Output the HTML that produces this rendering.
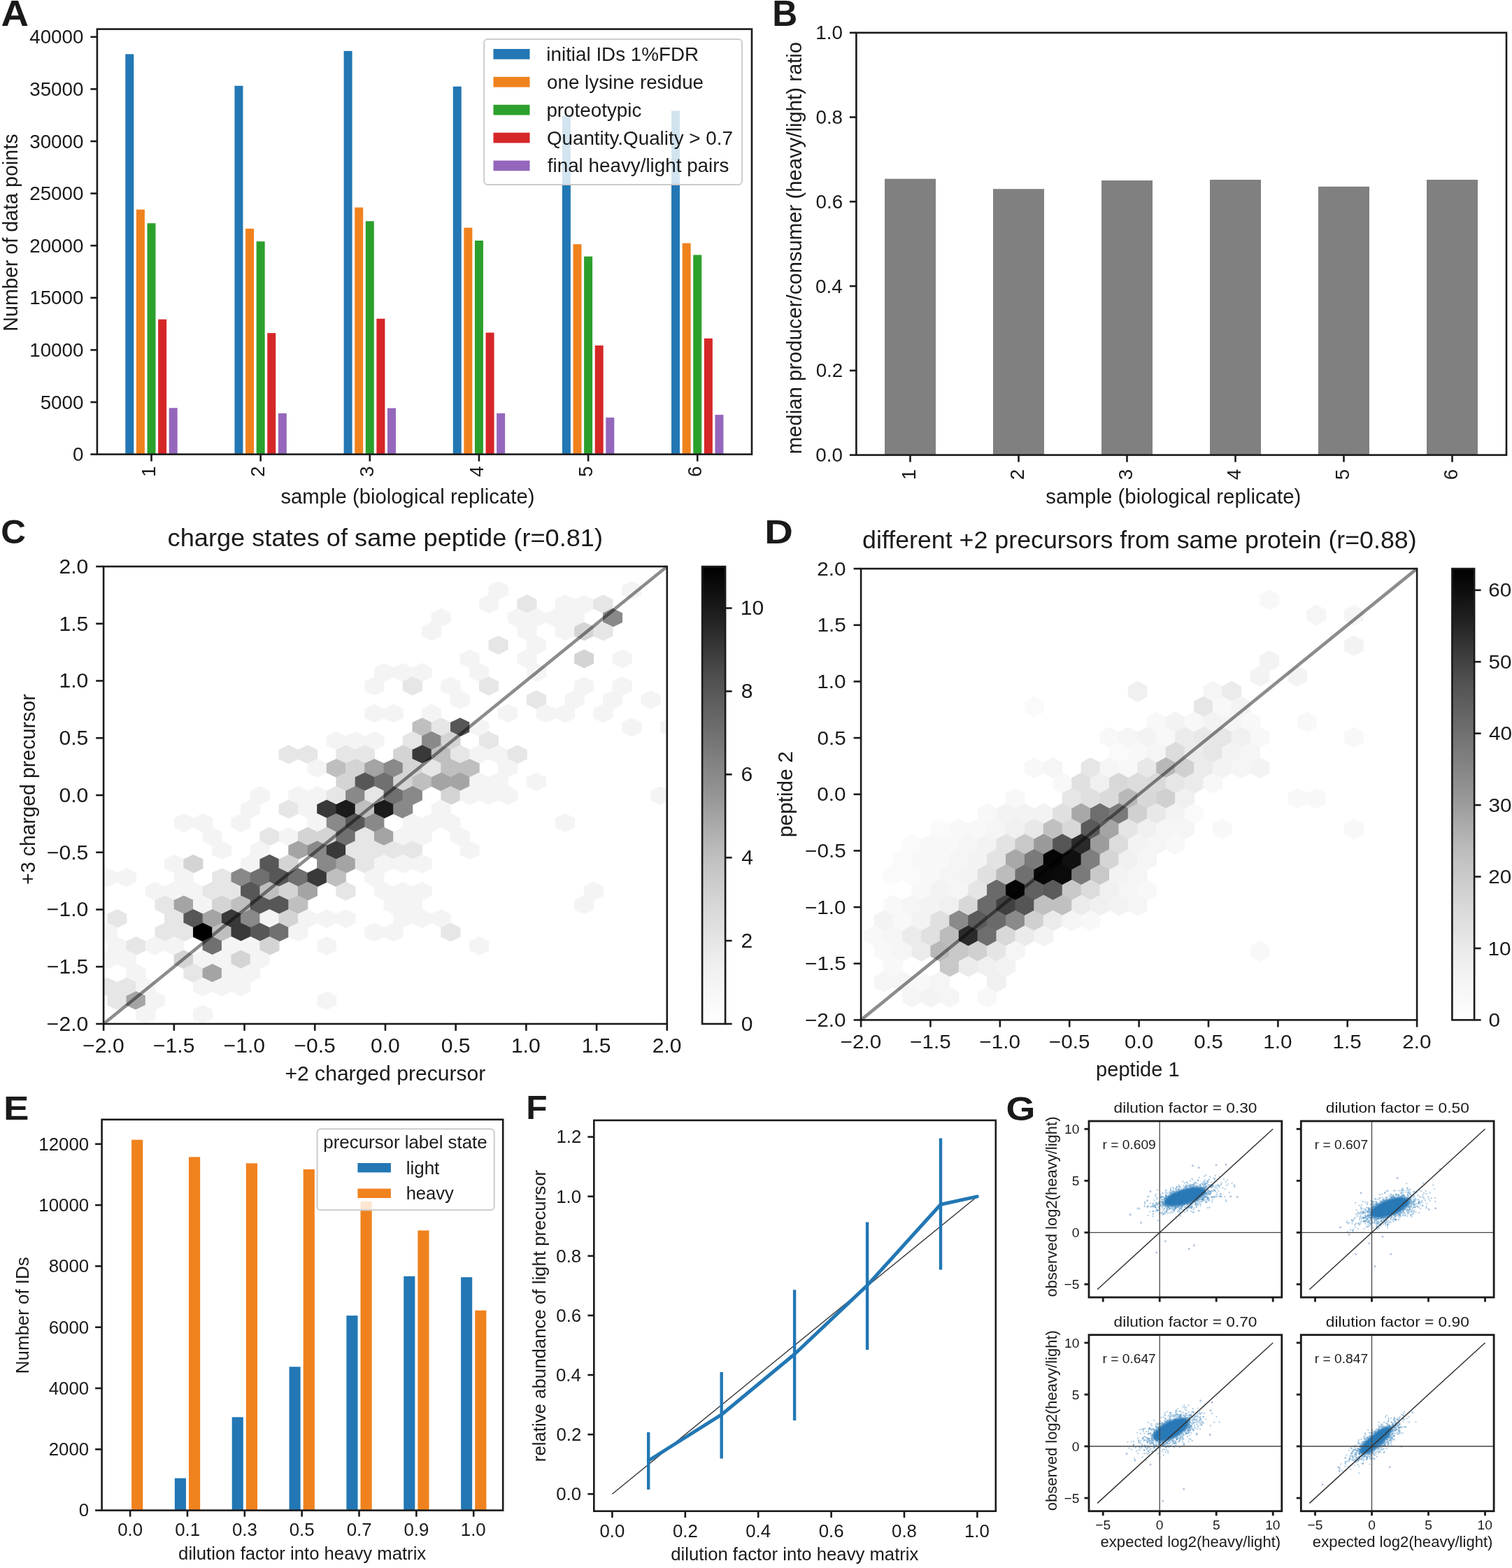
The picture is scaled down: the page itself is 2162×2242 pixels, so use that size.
<!DOCTYPE html>
<html><head><meta charset="utf-8"><style>
html,body{margin:0;padding:0;background:#fff;}
svg{display:block;}
text{font-family:'Liberation Sans', Arial, Helvetica, sans-serif;}
</style></head><body>
<svg width="2162" height="2242" viewBox="0 0 2162 2242" xmlns="http://www.w3.org/2000/svg">
<defs><filter id="blur1" x="-20%" y="-20%" width="140%" height="140%"><feGaussianBlur stdDeviation="1.6"/></filter></defs>
<rect width="2162" height="2242" fill="#fff"/>
<rect x="179.30" y="77.40" width="12.00" height="572.20" fill="#2277b4" />
<rect x="194.90" y="299.60" width="12.00" height="350.00" fill="#f0821e" />
<rect x="210.50" y="319.20" width="12.00" height="330.40" fill="#2ca02c" />
<rect x="226.10" y="456.60" width="12.00" height="193.00" fill="#d62728" />
<rect x="241.70" y="583.30" width="12.00" height="66.30" fill="#9467bd" />
<rect x="335.45" y="122.70" width="12.00" height="526.90" fill="#2277b4" />
<rect x="351.05" y="326.90" width="12.00" height="322.70" fill="#f0821e" />
<rect x="366.65" y="345.20" width="12.00" height="304.40" fill="#2ca02c" />
<rect x="382.25" y="476.20" width="12.00" height="173.40" fill="#d62728" />
<rect x="397.85" y="591.00" width="12.00" height="58.60" fill="#9467bd" />
<rect x="491.60" y="72.90" width="12.00" height="576.70" fill="#2277b4" />
<rect x="507.20" y="296.60" width="12.00" height="353.00" fill="#f0821e" />
<rect x="522.80" y="316.20" width="12.00" height="333.40" fill="#2ca02c" />
<rect x="538.40" y="455.70" width="12.00" height="193.90" fill="#d62728" />
<rect x="554.00" y="583.60" width="12.00" height="66.00" fill="#9467bd" />
<rect x="647.75" y="123.70" width="12.00" height="525.90" fill="#2277b4" />
<rect x="663.35" y="325.60" width="12.00" height="324.00" fill="#f0821e" />
<rect x="678.95" y="344.00" width="12.00" height="305.60" fill="#2ca02c" />
<rect x="694.55" y="475.60" width="12.00" height="174.00" fill="#d62728" />
<rect x="710.15" y="591.00" width="12.00" height="58.60" fill="#9467bd" />
<rect x="803.90" y="165.60" width="12.00" height="484.00" fill="#2277b4" />
<rect x="819.50" y="349.20" width="12.00" height="300.40" fill="#f0821e" />
<rect x="835.10" y="366.70" width="12.00" height="282.90" fill="#2ca02c" />
<rect x="850.70" y="494.00" width="12.00" height="155.60" fill="#d62728" />
<rect x="866.30" y="597.10" width="12.00" height="52.50" fill="#9467bd" />
<rect x="960.05" y="158.50" width="12.00" height="491.10" fill="#2277b4" />
<rect x="975.65" y="347.70" width="12.00" height="301.90" fill="#f0821e" />
<rect x="991.25" y="364.50" width="12.00" height="285.10" fill="#2ca02c" />
<rect x="1006.85" y="483.90" width="12.00" height="165.70" fill="#d62728" />
<rect x="1022.45" y="593.10" width="12.00" height="56.50" fill="#9467bd" />
<rect x="692.2" y="55.9" width="368.8" height="208.2" rx="5" fill="#fff" fill-opacity="0.8" stroke="#cccccc" stroke-width="2"/>
<rect x="705.50" y="70.00" width="52.00" height="14.70" fill="#2277b4" />
<text x="781.34" y="87.20" font-size="27.80" text-anchor="start" fill="#1a1a1a">initial IDs 1%FDR</text>
<rect x="705.50" y="109.90" width="52.00" height="14.70" fill="#f0821e" />
<text x="782.03" y="127.00" font-size="27.80" text-anchor="start" fill="#1a1a1a">one lysine residue</text>
<rect x="705.50" y="149.80" width="52.00" height="14.70" fill="#2ca02c" />
<text x="781.42" y="166.80" font-size="27.80" text-anchor="start" fill="#1a1a1a">proteotypic</text>
<rect x="705.50" y="189.70" width="52.00" height="14.70" fill="#d62728" />
<text x="781.89" y="206.60" font-size="27.80" text-anchor="start" fill="#1a1a1a">Quantity.Quality &gt; 0.7</text>
<rect x="705.50" y="229.60" width="52.00" height="14.70" fill="#9467bd" />
<text x="782.81" y="246.40" font-size="27.80" text-anchor="start" fill="#1a1a1a">final heavy/light pairs</text>
<rect x="138.90" y="41.60" width="936.10" height="608.00" fill="none" stroke="#1a1a1a" stroke-width="2.6"/>
<line x1="129.40" y1="649.60" x2="138.90" y2="649.60" stroke="#1a1a1a" stroke-width="2.6" />
<text x="119.49" y="659.16" font-size="27.80" text-anchor="end" fill="#1a1a1a">0</text>
<line x1="129.40" y1="575.00" x2="138.90" y2="575.00" stroke="#1a1a1a" stroke-width="2.6" />
<text x="119.50" y="584.56" font-size="27.80" text-anchor="end" fill="#1a1a1a">5000</text>
<line x1="129.40" y1="500.40" x2="138.90" y2="500.40" stroke="#1a1a1a" stroke-width="2.6" />
<text x="119.48" y="509.96" font-size="27.80" text-anchor="end" fill="#1a1a1a">10000</text>
<line x1="129.40" y1="425.80" x2="138.90" y2="425.80" stroke="#1a1a1a" stroke-width="2.6" />
<text x="119.48" y="435.36" font-size="27.80" text-anchor="end" fill="#1a1a1a">15000</text>
<line x1="129.40" y1="351.20" x2="138.90" y2="351.20" stroke="#1a1a1a" stroke-width="2.6" />
<text x="119.48" y="360.76" font-size="27.80" text-anchor="end" fill="#1a1a1a">20000</text>
<line x1="129.40" y1="276.60" x2="138.90" y2="276.60" stroke="#1a1a1a" stroke-width="2.6" />
<text x="119.48" y="286.16" font-size="27.80" text-anchor="end" fill="#1a1a1a">25000</text>
<line x1="129.40" y1="202.00" x2="138.90" y2="202.00" stroke="#1a1a1a" stroke-width="2.6" />
<text x="119.48" y="211.56" font-size="27.80" text-anchor="end" fill="#1a1a1a">30000</text>
<line x1="129.40" y1="127.40" x2="138.90" y2="127.40" stroke="#1a1a1a" stroke-width="2.6" />
<text x="119.48" y="136.96" font-size="27.80" text-anchor="end" fill="#1a1a1a">35000</text>
<line x1="129.40" y1="52.80" x2="138.90" y2="52.80" stroke="#1a1a1a" stroke-width="2.6" />
<text x="119.48" y="62.36" font-size="27.80" text-anchor="end" fill="#1a1a1a">40000</text>
<line x1="216.50" y1="649.60" x2="216.50" y2="659.60" stroke="#1a1a1a" stroke-width="2.6" />
<text x="222.10" y="682.00" font-size="27.80" text-anchor="start" transform="rotate(-90 222.10 682.00)" fill="#1a1a1a">1</text>
<line x1="372.65" y1="649.60" x2="372.65" y2="659.60" stroke="#1a1a1a" stroke-width="2.6" />
<text x="378.25" y="682.00" font-size="27.80" text-anchor="start" transform="rotate(-90 378.25 682.00)" fill="#1a1a1a">2</text>
<line x1="528.80" y1="649.60" x2="528.80" y2="659.60" stroke="#1a1a1a" stroke-width="2.6" />
<text x="534.40" y="682.00" font-size="27.80" text-anchor="start" transform="rotate(-90 534.40 682.00)" fill="#1a1a1a">3</text>
<line x1="684.95" y1="649.60" x2="684.95" y2="659.60" stroke="#1a1a1a" stroke-width="2.6" />
<text x="690.55" y="682.00" font-size="27.80" text-anchor="start" transform="rotate(-90 690.55 682.00)" fill="#1a1a1a">4</text>
<line x1="841.10" y1="649.60" x2="841.10" y2="659.60" stroke="#1a1a1a" stroke-width="2.6" />
<text x="846.70" y="682.00" font-size="27.80" text-anchor="start" transform="rotate(-90 846.70 682.00)" fill="#1a1a1a">5</text>
<line x1="997.25" y1="649.60" x2="997.25" y2="659.60" stroke="#1a1a1a" stroke-width="2.6" />
<text x="1002.85" y="682.00" font-size="27.80" text-anchor="start" transform="rotate(-90 1002.85 682.00)" fill="#1a1a1a">6</text>
<text x="401.38" y="720.40" font-size="29.30" text-anchor="start" fill="#1a1a1a">sample (biological replicate)</text>
<text x="24.80" y="473.76" font-size="28.70" text-anchor="start" transform="rotate(-90 24.80 473.76)" fill="#1a1a1a">Number of data points</text>
<text x="1.63" y="36.50" font-size="52.00" text-anchor="start" font-weight="bold" textLength="39.50" lengthAdjust="spacingAndGlyphs" fill="#1a1a1a">A</text>
<rect x="1265.00" y="255.70" width="73.00" height="394.90" fill="#808080" />
<rect x="1420.00" y="270.20" width="73.00" height="380.40" fill="#808080" />
<rect x="1575.00" y="258.00" width="73.00" height="392.60" fill="#808080" />
<rect x="1730.00" y="257.00" width="73.00" height="393.60" fill="#808080" />
<rect x="1885.00" y="266.80" width="73.00" height="383.80" fill="#808080" />
<rect x="2040.00" y="257.00" width="73.00" height="393.60" fill="#808080" />
<rect x="1224.40" y="46.80" width="929.60" height="603.80" fill="none" stroke="#1a1a1a" stroke-width="2.6"/>
<line x1="1214.90" y1="650.60" x2="1224.40" y2="650.60" stroke="#1a1a1a" stroke-width="2.6" />
<text x="1204.99" y="660.16" font-size="27.80" text-anchor="end" fill="#1a1a1a">0.0</text>
<line x1="1214.90" y1="529.84" x2="1224.40" y2="529.84" stroke="#1a1a1a" stroke-width="2.6" />
<text x="1205.29" y="539.40" font-size="27.80" text-anchor="end" fill="#1a1a1a">0.2</text>
<line x1="1214.90" y1="409.08" x2="1224.40" y2="409.08" stroke="#1a1a1a" stroke-width="2.6" />
<text x="1204.71" y="418.64" font-size="27.80" text-anchor="end" fill="#1a1a1a">0.4</text>
<line x1="1214.90" y1="288.32" x2="1224.40" y2="288.32" stroke="#1a1a1a" stroke-width="2.6" />
<text x="1205.13" y="297.88" font-size="27.80" text-anchor="end" fill="#1a1a1a">0.6</text>
<line x1="1214.90" y1="167.56" x2="1224.40" y2="167.56" stroke="#1a1a1a" stroke-width="2.6" />
<text x="1205.10" y="177.12" font-size="27.80" text-anchor="end" fill="#1a1a1a">0.8</text>
<line x1="1214.90" y1="46.80" x2="1224.40" y2="46.80" stroke="#1a1a1a" stroke-width="2.6" />
<text x="1204.99" y="56.36" font-size="27.80" text-anchor="end" fill="#1a1a1a">1.0</text>
<line x1="1301.50" y1="650.60" x2="1301.50" y2="660.60" stroke="#1a1a1a" stroke-width="2.6" />
<text x="1308.60" y="686.30" font-size="27.80" text-anchor="start" transform="rotate(-90 1308.60 686.30)" fill="#1a1a1a">1</text>
<line x1="1456.50" y1="650.60" x2="1456.50" y2="660.60" stroke="#1a1a1a" stroke-width="2.6" />
<text x="1463.60" y="686.30" font-size="27.80" text-anchor="start" transform="rotate(-90 1463.60 686.30)" fill="#1a1a1a">2</text>
<line x1="1611.50" y1="650.60" x2="1611.50" y2="660.60" stroke="#1a1a1a" stroke-width="2.6" />
<text x="1618.60" y="686.30" font-size="27.80" text-anchor="start" transform="rotate(-90 1618.60 686.30)" fill="#1a1a1a">3</text>
<line x1="1766.50" y1="650.60" x2="1766.50" y2="660.60" stroke="#1a1a1a" stroke-width="2.6" />
<text x="1773.60" y="686.30" font-size="27.80" text-anchor="start" transform="rotate(-90 1773.60 686.30)" fill="#1a1a1a">4</text>
<line x1="1921.50" y1="650.60" x2="1921.50" y2="660.60" stroke="#1a1a1a" stroke-width="2.6" />
<text x="1928.60" y="686.30" font-size="27.80" text-anchor="start" transform="rotate(-90 1928.60 686.30)" fill="#1a1a1a">5</text>
<line x1="2076.50" y1="650.60" x2="2076.50" y2="660.60" stroke="#1a1a1a" stroke-width="2.6" />
<text x="2083.60" y="686.30" font-size="27.80" text-anchor="start" transform="rotate(-90 2083.60 686.30)" fill="#1a1a1a">6</text>
<text x="1495.38" y="720.40" font-size="29.30" text-anchor="start" textLength="365.04" lengthAdjust="spacingAndGlyphs" fill="#1a1a1a">sample (biological replicate)</text>
<text x="1146.50" y="649.33" font-size="29.30" text-anchor="start" transform="rotate(-90 1146.50 649.33)" fill="#1a1a1a">median producer/consumer (heavy/light) ratio</text>
<text x="1104.36" y="36.60" font-size="52.00" text-anchor="start" font-weight="bold" textLength="35.99" lengthAdjust="spacingAndGlyphs" fill="#1a1a1a">B</text>
<defs><clipPath id="clipC"><rect x="148.1" y="810.0" width="805.6999999999999" height="654.0"/></clipPath></defs><g clip-path="url(#clipC)">
<path d="M698.5 837.5L712.5 830.7L726.6 837.5L726.6 850.9L712.5 857.6L698.5 850.9Z" fill="#f4f4f4"/>
<path d="M889.3 837.5L903.4 830.7L917.4 837.5L917.4 850.9L903.4 857.6L889.3 850.9Z" fill="#f4f4f4"/>
<path d="M684.9 857.0L698.9 850.3L712.9 857.0L712.9 870.5L698.9 877.2L684.9 870.5Z" fill="#f4f4f4"/>
<path d="M739.4 857.0L753.4 850.3L767.5 857.0L767.5 870.5L753.4 877.2L739.4 870.5Z" fill="#e6e6e6"/>
<path d="M793.9 857.0L808.0 850.3L822.0 857.0L822.0 870.5L808.0 877.2L793.9 870.5Z" fill="#f4f4f4"/>
<path d="M821.2 857.0L835.2 850.3L849.2 857.0L849.2 870.5L835.2 877.2L821.2 870.5Z" fill="#f4f4f4"/>
<path d="M848.4 857.0L862.5 850.3L876.5 857.0L876.5 870.5L862.5 877.2L848.4 870.5Z" fill="#e6e6e6"/>
<path d="M616.7 876.6L630.8 869.8L644.8 876.6L644.8 890.0L630.8 896.8L616.7 890.0Z" fill="#f4f4f4"/>
<path d="M725.8 876.6L739.8 869.8L753.8 876.6L753.8 890.0L739.8 896.8L725.8 890.0Z" fill="#f4f4f4"/>
<path d="M753.0 876.6L767.1 869.8L781.1 876.6L781.1 890.0L767.1 896.8L753.0 890.0Z" fill="#f4f4f4"/>
<path d="M780.3 876.6L794.3 869.8L808.4 876.6L808.4 890.0L794.3 896.8L780.3 890.0Z" fill="#f4f4f4"/>
<path d="M807.6 876.6L821.6 869.8L835.6 876.6L835.6 890.0L821.6 896.8L807.6 890.0Z" fill="#f4f4f4"/>
<path d="M862.1 876.6L876.1 869.8L890.1 876.6L890.1 890.0L876.1 896.8L862.1 890.0Z" fill="#898989"/>
<path d="M603.1 896.1L617.1 889.4L631.2 896.1L631.2 909.6L617.1 916.3L603.1 909.6Z" fill="#f4f4f4"/>
<path d="M739.4 896.1L753.4 889.4L767.5 896.1L767.5 909.6L753.4 916.3L739.4 909.6Z" fill="#f4f4f4"/>
<path d="M793.9 896.1L808.0 889.4L822.0 896.1L822.0 909.6L808.0 916.3L793.9 909.6Z" fill="#f4f4f4"/>
<path d="M821.2 896.1L835.2 889.4L849.2 896.1L849.2 909.6L835.2 916.3L821.2 909.6Z" fill="#d4d4d4"/>
<path d="M848.4 896.1L862.5 889.4L876.5 896.1L876.5 909.6L862.5 916.3L848.4 909.6Z" fill="#e6e6e6"/>
<path d="M698.5 915.7L712.5 908.9L726.6 915.7L726.6 929.1L712.5 935.9L698.5 929.1Z" fill="#e6e6e6"/>
<path d="M753.0 915.7L767.1 908.9L781.1 915.7L781.1 929.1L767.1 935.9L753.0 929.1Z" fill="#f4f4f4"/>
<path d="M657.6 935.2L671.6 928.5L685.7 935.2L685.7 948.7L671.6 955.4L657.6 948.7Z" fill="#f4f4f4"/>
<path d="M739.4 935.2L753.4 928.5L767.5 935.2L767.5 948.7L753.4 955.4L739.4 948.7Z" fill="#f4f4f4"/>
<path d="M821.2 935.2L835.2 928.5L849.2 935.2L849.2 948.7L835.2 955.4L821.2 948.7Z" fill="#d4d4d4"/>
<path d="M875.7 935.2L889.7 928.5L903.8 935.2L903.8 948.7L889.7 955.4L875.7 948.7Z" fill="#f4f4f4"/>
<path d="M535.0 954.8L549.0 948.0L563.0 954.8L563.0 968.2L549.0 975.0L535.0 968.2Z" fill="#f4f4f4"/>
<path d="M562.2 954.8L576.2 948.0L590.3 954.8L590.3 968.2L576.2 975.0L562.2 968.2Z" fill="#f4f4f4"/>
<path d="M589.5 954.8L603.5 948.0L617.5 954.8L617.5 968.2L603.5 975.0L589.5 968.2Z" fill="#f4f4f4"/>
<path d="M671.2 954.8L685.3 948.0L699.3 954.8L699.3 968.2L685.3 975.0L671.2 968.2Z" fill="#f4f4f4"/>
<path d="M753.0 954.8L767.1 948.0L781.1 954.8L781.1 968.2L767.1 975.0L753.0 968.2Z" fill="#f4f4f4"/>
<path d="M521.3 974.3L535.4 967.6L549.4 974.3L549.4 987.8L535.4 994.5L521.3 987.8Z" fill="#f4f4f4"/>
<path d="M575.8 974.3L589.9 967.6L603.9 974.3L603.9 987.8L589.9 994.5L575.8 987.8Z" fill="#e6e6e6"/>
<path d="M630.4 974.3L644.4 967.6L658.4 974.3L658.4 987.8L644.4 994.5L630.4 987.8Z" fill="#f4f4f4"/>
<path d="M684.9 974.3L698.9 967.6L712.9 974.3L712.9 987.8L698.9 994.5L684.9 987.8Z" fill="#e6e6e6"/>
<path d="M821.2 974.3L835.2 967.6L849.2 974.3L849.2 987.8L835.2 994.5L821.2 987.8Z" fill="#f4f4f4"/>
<path d="M875.7 974.3L889.7 967.6L903.8 974.3L903.8 987.8L889.7 994.5L875.7 987.8Z" fill="#f4f4f4"/>
<path d="M644.0 993.9L658.0 987.1L672.0 993.9L672.0 1007.3L658.0 1014.0L644.0 1007.3Z" fill="#f4f4f4"/>
<path d="M753.0 993.9L767.1 987.1L781.1 993.9L781.1 1007.3L767.1 1014.0L753.0 1007.3Z" fill="#e6e6e6"/>
<path d="M807.6 993.9L821.6 987.1L835.6 993.9L835.6 1007.3L821.6 1014.0L807.6 1007.3Z" fill="#f4f4f4"/>
<path d="M862.1 993.9L876.1 987.1L890.1 993.9L890.1 1007.3L876.1 1014.0L862.1 1007.3Z" fill="#f4f4f4"/>
<path d="M916.6 993.9L930.6 987.1L944.6 993.9L944.6 1007.3L930.6 1014.0L916.6 1007.3Z" fill="#f4f4f4"/>
<path d="M521.3 1013.4L535.4 1006.7L549.4 1013.4L549.4 1026.9L535.4 1033.6L521.3 1026.9Z" fill="#f4f4f4"/>
<path d="M548.6 1013.4L562.6 1006.7L576.6 1013.4L576.6 1026.9L562.6 1033.6L548.6 1026.9Z" fill="#f4f4f4"/>
<path d="M603.1 1013.4L617.1 1006.7L631.2 1013.4L631.2 1026.9L617.1 1033.6L603.1 1026.9Z" fill="#f4f4f4"/>
<path d="M712.1 1013.4L726.2 1006.7L740.2 1013.4L740.2 1026.9L726.2 1033.6L712.1 1026.9Z" fill="#f4f4f4"/>
<path d="M766.7 1013.4L780.7 1006.7L794.7 1013.4L794.7 1026.9L780.7 1033.6L766.7 1026.9Z" fill="#f4f4f4"/>
<path d="M793.9 1013.4L808.0 1006.7L822.0 1013.4L822.0 1026.9L808.0 1033.6L793.9 1026.9Z" fill="#f4f4f4"/>
<path d="M848.4 1013.4L862.5 1006.7L876.5 1013.4L876.5 1026.9L862.5 1033.6L848.4 1026.9Z" fill="#f4f4f4"/>
<path d="M589.5 1033.0L603.5 1026.2L617.5 1033.0L617.5 1046.4L603.5 1053.2L589.5 1046.4Z" fill="#bfbfbf"/>
<path d="M616.7 1033.0L630.8 1026.2L644.8 1033.0L644.8 1046.4L630.8 1053.2L616.7 1046.4Z" fill="#e6e6e6"/>
<path d="M644.0 1033.0L658.0 1026.2L672.0 1033.0L672.0 1046.4L658.0 1053.2L644.0 1046.4Z" fill="#575757"/>
<path d="M671.2 1033.0L685.3 1026.2L699.3 1033.0L699.3 1046.4L685.3 1053.2L671.2 1046.4Z" fill="#f4f4f4"/>
<path d="M889.3 1033.0L903.4 1026.2L917.4 1033.0L917.4 1046.4L903.4 1053.2L889.3 1046.4Z" fill="#f4f4f4"/>
<path d="M943.9 1033.0L957.9 1026.2L971.9 1033.0L971.9 1046.4L957.9 1053.2L943.9 1046.4Z" fill="#f4f4f4"/>
<path d="M466.8 1052.5L480.8 1045.8L494.9 1052.5L494.9 1066.0L480.8 1072.7L466.8 1066.0Z" fill="#f4f4f4"/>
<path d="M494.1 1052.5L508.1 1045.8L522.1 1052.5L522.1 1066.0L508.1 1072.7L494.1 1066.0Z" fill="#f4f4f4"/>
<path d="M521.3 1052.5L535.4 1045.8L549.4 1052.5L549.4 1066.0L535.4 1072.7L521.3 1066.0Z" fill="#f4f4f4"/>
<path d="M575.8 1052.5L589.9 1045.8L603.9 1052.5L603.9 1066.0L589.9 1072.7L575.8 1066.0Z" fill="#e6e6e6"/>
<path d="M603.1 1052.5L617.1 1045.8L631.2 1052.5L631.2 1066.0L617.1 1072.7L603.1 1066.0Z" fill="#898989"/>
<path d="M630.4 1052.5L644.4 1045.8L658.4 1052.5L658.4 1066.0L644.4 1072.7L630.4 1066.0Z" fill="#d4d4d4"/>
<path d="M684.9 1052.5L698.9 1045.8L712.9 1052.5L712.9 1066.0L698.9 1072.7L684.9 1066.0Z" fill="#e6e6e6"/>
<path d="M398.6 1072.1L412.7 1065.3L426.7 1072.1L426.7 1085.5L412.7 1092.2L398.6 1085.5Z" fill="#e6e6e6"/>
<path d="M425.9 1072.1L439.9 1065.3L454.0 1072.1L454.0 1085.5L439.9 1092.2L425.9 1085.5Z" fill="#e6e6e6"/>
<path d="M480.4 1072.1L494.5 1065.3L508.5 1072.1L508.5 1085.5L494.5 1092.2L480.4 1085.5Z" fill="#e6e6e6"/>
<path d="M507.7 1072.1L521.7 1065.3L535.8 1072.1L535.8 1085.5L521.7 1092.2L507.7 1085.5Z" fill="#e6e6e6"/>
<path d="M562.2 1072.1L576.2 1065.3L590.3 1072.1L590.3 1085.5L576.2 1092.2L562.2 1085.5Z" fill="#d4d4d4"/>
<path d="M589.5 1072.1L603.5 1065.3L617.5 1072.1L617.5 1085.5L603.5 1092.2L589.5 1085.5Z" fill="#393939"/>
<path d="M616.7 1072.1L630.8 1065.3L644.8 1072.1L644.8 1085.5L630.8 1092.2L616.7 1085.5Z" fill="#bfbfbf"/>
<path d="M644.0 1072.1L658.0 1065.3L672.0 1072.1L672.0 1085.5L658.0 1092.2L644.0 1085.5Z" fill="#e6e6e6"/>
<path d="M671.2 1072.1L685.3 1065.3L699.3 1072.1L699.3 1085.5L685.3 1092.2L671.2 1085.5Z" fill="#f4f4f4"/>
<path d="M698.5 1072.1L712.5 1065.3L726.6 1072.1L726.6 1085.5L712.5 1092.2L698.5 1085.5Z" fill="#f4f4f4"/>
<path d="M725.8 1072.1L739.8 1065.3L753.8 1072.1L753.8 1085.5L739.8 1092.2L725.8 1085.5Z" fill="#e6e6e6"/>
<path d="M439.5 1091.6L453.6 1084.9L467.6 1091.6L467.6 1105.1L453.6 1111.8L439.5 1105.1Z" fill="#f4f4f4"/>
<path d="M466.8 1091.6L480.8 1084.9L494.9 1091.6L494.9 1105.1L480.8 1111.8L466.8 1105.1Z" fill="#bfbfbf"/>
<path d="M494.1 1091.6L508.1 1084.9L522.1 1091.6L522.1 1105.1L508.1 1111.8L494.1 1105.1Z" fill="#d4d4d4"/>
<path d="M521.3 1091.6L535.4 1084.9L549.4 1091.6L549.4 1105.1L535.4 1111.8L521.3 1105.1Z" fill="#a4a4a4"/>
<path d="M548.6 1091.6L562.6 1084.9L576.6 1091.6L576.6 1105.1L562.6 1111.8L548.6 1105.1Z" fill="#898989"/>
<path d="M575.8 1091.6L589.9 1084.9L603.9 1091.6L603.9 1105.1L589.9 1111.8L575.8 1105.1Z" fill="#d4d4d4"/>
<path d="M603.1 1091.6L617.1 1084.9L631.2 1091.6L631.2 1105.1L617.1 1111.8L603.1 1105.1Z" fill="#e6e6e6"/>
<path d="M630.4 1091.6L644.4 1084.9L658.4 1091.6L658.4 1105.1L644.4 1111.8L630.4 1105.1Z" fill="#bfbfbf"/>
<path d="M657.6 1091.6L671.6 1084.9L685.7 1091.6L685.7 1105.1L671.6 1111.8L657.6 1105.1Z" fill="#bfbfbf"/>
<path d="M712.1 1091.6L726.2 1084.9L740.2 1091.6L740.2 1105.1L726.2 1111.8L712.1 1105.1Z" fill="#f4f4f4"/>
<path d="M480.4 1111.2L494.5 1104.5L508.5 1111.2L508.5 1124.6L494.5 1131.4L480.4 1124.6Z" fill="#d4d4d4"/>
<path d="M507.7 1111.2L521.7 1104.5L535.8 1111.2L535.8 1124.6L521.7 1131.4L507.7 1124.6Z" fill="#575757"/>
<path d="M535.0 1111.2L549.0 1104.5L563.0 1111.2L563.0 1124.6L549.0 1131.4L535.0 1124.6Z" fill="#707070"/>
<path d="M562.2 1111.2L576.2 1104.5L590.3 1111.2L590.3 1124.6L576.2 1131.4L562.2 1124.6Z" fill="#d4d4d4"/>
<path d="M589.5 1111.2L603.5 1104.5L617.5 1111.2L617.5 1124.6L603.5 1131.4L589.5 1124.6Z" fill="#bfbfbf"/>
<path d="M616.7 1111.2L630.8 1104.5L644.8 1111.2L644.8 1124.6L630.8 1131.4L616.7 1124.6Z" fill="#a4a4a4"/>
<path d="M644.0 1111.2L658.0 1104.5L672.0 1111.2L672.0 1124.6L658.0 1131.4L644.0 1124.6Z" fill="#a4a4a4"/>
<path d="M671.2 1111.2L685.3 1104.5L699.3 1111.2L699.3 1124.6L685.3 1131.4L671.2 1124.6Z" fill="#f4f4f4"/>
<path d="M698.5 1111.2L712.5 1104.5L726.6 1111.2L726.6 1124.6L712.5 1131.4L698.5 1124.6Z" fill="#f4f4f4"/>
<path d="M753.0 1111.2L767.1 1104.5L781.1 1111.2L781.1 1124.6L767.1 1131.4L753.0 1124.6Z" fill="#f4f4f4"/>
<path d="M357.8 1130.7L371.8 1124.0L385.8 1130.7L385.8 1144.2L371.8 1150.9L357.8 1144.2Z" fill="#f4f4f4"/>
<path d="M412.3 1130.7L426.3 1124.0L440.3 1130.7L440.3 1144.2L426.3 1150.9L412.3 1144.2Z" fill="#f4f4f4"/>
<path d="M439.5 1130.7L453.6 1124.0L467.6 1130.7L467.6 1144.2L453.6 1150.9L439.5 1144.2Z" fill="#f4f4f4"/>
<path d="M466.8 1130.7L480.8 1124.0L494.9 1130.7L494.9 1144.2L480.8 1150.9L466.8 1144.2Z" fill="#e6e6e6"/>
<path d="M494.1 1130.7L508.1 1124.0L522.1 1130.7L522.1 1144.2L508.1 1150.9L494.1 1144.2Z" fill="#898989"/>
<path d="M521.3 1130.7L535.4 1124.0L549.4 1130.7L549.4 1144.2L535.4 1150.9L521.3 1144.2Z" fill="#e6e6e6"/>
<path d="M548.6 1130.7L562.6 1124.0L576.6 1130.7L576.6 1144.2L562.6 1150.9L548.6 1144.2Z" fill="#707070"/>
<path d="M575.8 1130.7L589.9 1124.0L603.9 1130.7L603.9 1144.2L589.9 1150.9L575.8 1144.2Z" fill="#898989"/>
<path d="M630.4 1130.7L644.4 1124.0L658.4 1130.7L658.4 1144.2L644.4 1150.9L630.4 1144.2Z" fill="#d4d4d4"/>
<path d="M657.6 1130.7L671.6 1124.0L685.7 1130.7L685.7 1144.2L671.6 1150.9L657.6 1144.2Z" fill="#f4f4f4"/>
<path d="M684.9 1130.7L698.9 1124.0L712.9 1130.7L712.9 1144.2L698.9 1150.9L684.9 1144.2Z" fill="#f4f4f4"/>
<path d="M712.1 1130.7L726.2 1124.0L740.2 1130.7L740.2 1144.2L726.2 1150.9L712.1 1144.2Z" fill="#f4f4f4"/>
<path d="M930.2 1130.7L944.2 1124.0L958.3 1130.7L958.3 1144.2L944.2 1150.9L930.2 1144.2Z" fill="#f4f4f4"/>
<path d="M344.1 1150.3L358.2 1143.5L372.2 1150.3L372.2 1163.7L358.2 1170.5L344.1 1163.7Z" fill="#f4f4f4"/>
<path d="M398.6 1150.3L412.7 1143.5L426.7 1150.3L426.7 1163.7L412.7 1170.5L398.6 1163.7Z" fill="#e6e6e6"/>
<path d="M425.9 1150.3L439.9 1143.5L454.0 1150.3L454.0 1163.7L439.9 1170.5L425.9 1163.7Z" fill="#f4f4f4"/>
<path d="M453.2 1150.3L467.2 1143.5L481.2 1150.3L481.2 1163.7L467.2 1170.5L453.2 1163.7Z" fill="#393939"/>
<path d="M480.4 1150.3L494.5 1143.5L508.5 1150.3L508.5 1163.7L494.5 1170.5L480.4 1163.7Z" fill="#1b1b1b"/>
<path d="M507.7 1150.3L521.7 1143.5L535.8 1150.3L535.8 1163.7L521.7 1170.5L507.7 1163.7Z" fill="#bfbfbf"/>
<path d="M535.0 1150.3L549.0 1143.5L563.0 1150.3L563.0 1163.7L549.0 1170.5L535.0 1163.7Z" fill="#1b1b1b"/>
<path d="M562.2 1150.3L576.2 1143.5L590.3 1150.3L590.3 1163.7L576.2 1170.5L562.2 1163.7Z" fill="#898989"/>
<path d="M616.7 1150.3L630.8 1143.5L644.8 1150.3L644.8 1163.7L630.8 1170.5L616.7 1163.7Z" fill="#f4f4f4"/>
<path d="M248.7 1169.8L262.8 1163.1L276.8 1169.8L276.8 1183.3L262.8 1190.0L248.7 1183.3Z" fill="#f4f4f4"/>
<path d="M276.0 1169.8L290.0 1163.1L304.0 1169.8L304.0 1183.3L290.0 1190.0L276.0 1183.3Z" fill="#f4f4f4"/>
<path d="M330.5 1169.8L344.5 1163.1L358.6 1169.8L358.6 1183.3L344.5 1190.0L330.5 1183.3Z" fill="#f4f4f4"/>
<path d="M439.5 1169.8L453.6 1163.1L467.6 1169.8L467.6 1183.3L453.6 1190.0L439.5 1183.3Z" fill="#f4f4f4"/>
<path d="M466.8 1169.8L480.8 1163.1L494.9 1169.8L494.9 1183.3L480.8 1190.0L466.8 1183.3Z" fill="#898989"/>
<path d="M494.1 1169.8L508.1 1163.1L522.1 1169.8L522.1 1183.3L508.1 1190.0L494.1 1183.3Z" fill="#575757"/>
<path d="M521.3 1169.8L535.4 1163.1L549.4 1169.8L549.4 1183.3L535.4 1190.0L521.3 1183.3Z" fill="#898989"/>
<path d="M575.8 1169.8L589.9 1163.1L603.9 1169.8L603.9 1183.3L589.9 1190.0L575.8 1183.3Z" fill="#f4f4f4"/>
<path d="M603.1 1169.8L617.1 1163.1L631.2 1169.8L631.2 1183.3L617.1 1190.0L603.1 1183.3Z" fill="#f4f4f4"/>
<path d="M630.4 1169.8L644.4 1163.1L658.4 1169.8L658.4 1183.3L644.4 1190.0L630.4 1183.3Z" fill="#f4f4f4"/>
<path d="M793.9 1169.8L808.0 1163.1L822.0 1169.8L822.0 1183.3L808.0 1190.0L793.9 1183.3Z" fill="#f4f4f4"/>
<path d="M289.6 1189.4L303.6 1182.6L317.7 1189.4L317.7 1202.8L303.6 1209.5L289.6 1202.8Z" fill="#f4f4f4"/>
<path d="M371.4 1189.4L385.4 1182.6L399.5 1189.4L399.5 1202.8L385.4 1209.5L371.4 1202.8Z" fill="#e6e6e6"/>
<path d="M398.6 1189.4L412.7 1182.6L426.7 1189.4L426.7 1202.8L412.7 1209.5L398.6 1202.8Z" fill="#f4f4f4"/>
<path d="M425.9 1189.4L439.9 1182.6L454.0 1189.4L454.0 1202.8L439.9 1209.5L425.9 1202.8Z" fill="#d4d4d4"/>
<path d="M453.2 1189.4L467.2 1182.6L481.2 1189.4L481.2 1202.8L467.2 1209.5L453.2 1202.8Z" fill="#d4d4d4"/>
<path d="M480.4 1189.4L494.5 1182.6L508.5 1189.4L508.5 1202.8L494.5 1209.5L480.4 1202.8Z" fill="#707070"/>
<path d="M507.7 1189.4L521.7 1182.6L535.8 1189.4L535.8 1202.8L521.7 1209.5L507.7 1202.8Z" fill="#e6e6e6"/>
<path d="M535.0 1189.4L549.0 1182.6L563.0 1189.4L563.0 1202.8L549.0 1209.5L535.0 1202.8Z" fill="#a4a4a4"/>
<path d="M562.2 1189.4L576.2 1182.6L590.3 1189.4L590.3 1202.8L576.2 1209.5L562.2 1202.8Z" fill="#f4f4f4"/>
<path d="M589.5 1189.4L603.5 1182.6L617.5 1189.4L617.5 1202.8L603.5 1209.5L589.5 1202.8Z" fill="#f4f4f4"/>
<path d="M644.0 1189.4L658.0 1182.6L672.0 1189.4L672.0 1202.8L658.0 1209.5L644.0 1202.8Z" fill="#f4f4f4"/>
<path d="M303.2 1208.9L317.3 1202.2L331.3 1208.9L331.3 1222.4L317.3 1229.1L303.2 1222.4Z" fill="#f4f4f4"/>
<path d="M357.8 1208.9L371.8 1202.2L385.8 1208.9L385.8 1222.4L371.8 1229.1L357.8 1222.4Z" fill="#f4f4f4"/>
<path d="M412.3 1208.9L426.3 1202.2L440.3 1208.9L440.3 1222.4L426.3 1229.1L412.3 1222.4Z" fill="#a4a4a4"/>
<path d="M439.5 1208.9L453.6 1202.2L467.6 1208.9L467.6 1222.4L453.6 1229.1L439.5 1222.4Z" fill="#898989"/>
<path d="M466.8 1208.9L480.8 1202.2L494.9 1208.9L494.9 1222.4L480.8 1229.1L466.8 1222.4Z" fill="#393939"/>
<path d="M494.1 1208.9L508.1 1202.2L522.1 1208.9L522.1 1222.4L508.1 1229.1L494.1 1222.4Z" fill="#e6e6e6"/>
<path d="M521.3 1208.9L535.4 1202.2L549.4 1208.9L549.4 1222.4L535.4 1229.1L521.3 1222.4Z" fill="#e6e6e6"/>
<path d="M548.6 1208.9L562.6 1202.2L576.6 1208.9L576.6 1222.4L562.6 1229.1L548.6 1222.4Z" fill="#e6e6e6"/>
<path d="M575.8 1208.9L589.9 1202.2L603.9 1208.9L603.9 1222.4L589.9 1229.1L575.8 1222.4Z" fill="#e6e6e6"/>
<path d="M657.6 1208.9L671.6 1202.2L685.7 1208.9L685.7 1222.4L671.6 1229.1L657.6 1222.4Z" fill="#f4f4f4"/>
<path d="M235.1 1228.5L249.1 1221.8L263.1 1228.5L263.1 1241.9L249.1 1248.7L235.1 1241.9Z" fill="#f4f4f4"/>
<path d="M262.4 1228.5L276.4 1221.8L290.4 1228.5L290.4 1241.9L276.4 1248.7L262.4 1241.9Z" fill="#d4d4d4"/>
<path d="M344.1 1228.5L358.2 1221.8L372.2 1228.5L372.2 1241.9L358.2 1248.7L344.1 1241.9Z" fill="#f4f4f4"/>
<path d="M371.4 1228.5L385.4 1221.8L399.5 1228.5L399.5 1241.9L385.4 1248.7L371.4 1241.9Z" fill="#575757"/>
<path d="M398.6 1228.5L412.7 1221.8L426.7 1228.5L426.7 1241.9L412.7 1248.7L398.6 1241.9Z" fill="#d4d4d4"/>
<path d="M453.2 1228.5L467.2 1221.8L481.2 1228.5L481.2 1241.9L467.2 1248.7L453.2 1241.9Z" fill="#898989"/>
<path d="M480.4 1228.5L494.5 1221.8L508.5 1228.5L508.5 1241.9L494.5 1248.7L480.4 1241.9Z" fill="#a4a4a4"/>
<path d="M507.7 1228.5L521.7 1221.8L535.8 1228.5L535.8 1241.9L521.7 1248.7L507.7 1241.9Z" fill="#e6e6e6"/>
<path d="M535.0 1228.5L549.0 1221.8L563.0 1228.5L563.0 1241.9L549.0 1248.7L535.0 1241.9Z" fill="#f4f4f4"/>
<path d="M562.2 1228.5L576.2 1221.8L590.3 1228.5L590.3 1241.9L576.2 1248.7L562.2 1241.9Z" fill="#f4f4f4"/>
<path d="M589.5 1228.5L603.5 1221.8L617.5 1228.5L617.5 1241.9L603.5 1248.7L589.5 1241.9Z" fill="#f4f4f4"/>
<path d="M139.7 1248.0L153.7 1241.3L167.7 1248.0L167.7 1261.5L153.7 1268.2L139.7 1261.5Z" fill="#f4f4f4"/>
<path d="M166.9 1248.0L181.0 1241.3L195.0 1248.0L195.0 1261.5L181.0 1268.2L166.9 1261.5Z" fill="#f4f4f4"/>
<path d="M248.7 1248.0L262.8 1241.3L276.8 1248.0L276.8 1261.5L262.8 1268.2L248.7 1261.5Z" fill="#f4f4f4"/>
<path d="M303.2 1248.0L317.3 1241.3L331.3 1248.0L331.3 1261.5L317.3 1268.2L303.2 1261.5Z" fill="#e6e6e6"/>
<path d="M330.5 1248.0L344.5 1241.3L358.6 1248.0L358.6 1261.5L344.5 1268.2L330.5 1261.5Z" fill="#898989"/>
<path d="M357.8 1248.0L371.8 1241.3L385.8 1248.0L385.8 1261.5L371.8 1268.2L357.8 1261.5Z" fill="#707070"/>
<path d="M385.0 1248.0L399.1 1241.3L413.1 1248.0L413.1 1261.5L399.1 1268.2L385.0 1261.5Z" fill="#575757"/>
<path d="M412.3 1248.0L426.3 1241.3L440.3 1248.0L440.3 1261.5L426.3 1268.2L412.3 1261.5Z" fill="#707070"/>
<path d="M439.5 1248.0L453.6 1241.3L467.6 1248.0L467.6 1261.5L453.6 1268.2L439.5 1261.5Z" fill="#393939"/>
<path d="M466.8 1248.0L480.8 1241.3L494.9 1248.0L494.9 1261.5L480.8 1268.2L466.8 1261.5Z" fill="#bfbfbf"/>
<path d="M521.3 1248.0L535.4 1241.3L549.4 1248.0L549.4 1261.5L535.4 1268.2L521.3 1261.5Z" fill="#f4f4f4"/>
<path d="M207.8 1267.6L221.9 1260.8L235.9 1267.6L235.9 1281.0L221.9 1287.8L207.8 1281.0Z" fill="#f4f4f4"/>
<path d="M235.1 1267.6L249.1 1260.8L263.1 1267.6L263.1 1281.0L249.1 1287.8L235.1 1281.0Z" fill="#f4f4f4"/>
<path d="M262.4 1267.6L276.4 1260.8L290.4 1267.6L290.4 1281.0L276.4 1287.8L262.4 1281.0Z" fill="#f4f4f4"/>
<path d="M289.6 1267.6L303.6 1260.8L317.7 1267.6L317.7 1281.0L303.6 1287.8L289.6 1281.0Z" fill="#e6e6e6"/>
<path d="M316.9 1267.6L330.9 1260.8L344.9 1267.6L344.9 1281.0L330.9 1287.8L316.9 1281.0Z" fill="#e6e6e6"/>
<path d="M344.1 1267.6L358.2 1260.8L372.2 1267.6L372.2 1281.0L358.2 1287.8L344.1 1281.0Z" fill="#575757"/>
<path d="M371.4 1267.6L385.4 1260.8L399.5 1267.6L399.5 1281.0L385.4 1287.8L371.4 1281.0Z" fill="#bfbfbf"/>
<path d="M398.6 1267.6L412.7 1260.8L426.7 1267.6L426.7 1281.0L412.7 1287.8L398.6 1281.0Z" fill="#d4d4d4"/>
<path d="M425.9 1267.6L439.9 1260.8L454.0 1267.6L454.0 1281.0L439.9 1287.8L425.9 1281.0Z" fill="#a4a4a4"/>
<path d="M480.4 1267.6L494.5 1260.8L508.5 1267.6L508.5 1281.0L494.5 1287.8L480.4 1281.0Z" fill="#e6e6e6"/>
<path d="M535.0 1267.6L549.0 1260.8L563.0 1267.6L563.0 1281.0L549.0 1287.8L535.0 1281.0Z" fill="#f4f4f4"/>
<path d="M562.2 1267.6L576.2 1260.8L590.3 1267.6L590.3 1281.0L576.2 1287.8L562.2 1281.0Z" fill="#f4f4f4"/>
<path d="M589.5 1267.6L603.5 1260.8L617.5 1267.6L617.5 1281.0L603.5 1287.8L589.5 1281.0Z" fill="#f4f4f4"/>
<path d="M834.8 1267.6L848.8 1260.8L862.9 1267.6L862.9 1281.0L848.8 1287.8L834.8 1281.0Z" fill="#f4f4f4"/>
<path d="M221.5 1287.1L235.5 1280.4L249.5 1287.1L249.5 1300.6L235.5 1307.3L221.5 1300.6Z" fill="#e6e6e6"/>
<path d="M248.7 1287.1L262.8 1280.4L276.8 1287.1L276.8 1300.6L262.8 1307.3L248.7 1300.6Z" fill="#a4a4a4"/>
<path d="M276.0 1287.1L290.0 1280.4L304.0 1287.1L304.0 1300.6L290.0 1307.3L276.0 1300.6Z" fill="#f4f4f4"/>
<path d="M303.2 1287.1L317.3 1280.4L331.3 1287.1L331.3 1300.6L317.3 1307.3L303.2 1300.6Z" fill="#d4d4d4"/>
<path d="M330.5 1287.1L344.5 1280.4L358.6 1287.1L358.6 1300.6L344.5 1307.3L330.5 1300.6Z" fill="#bfbfbf"/>
<path d="M357.8 1287.1L371.8 1280.4L385.8 1287.1L385.8 1300.6L371.8 1307.3L357.8 1300.6Z" fill="#575757"/>
<path d="M385.0 1287.1L399.1 1280.4L413.1 1287.1L413.1 1300.6L399.1 1307.3L385.0 1300.6Z" fill="#575757"/>
<path d="M412.3 1287.1L426.3 1280.4L440.3 1287.1L440.3 1300.6L426.3 1307.3L412.3 1300.6Z" fill="#bfbfbf"/>
<path d="M548.6 1287.1L562.6 1280.4L576.6 1287.1L576.6 1300.6L562.6 1307.3L548.6 1300.6Z" fill="#f4f4f4"/>
<path d="M575.8 1287.1L589.9 1280.4L603.9 1287.1L603.9 1300.6L589.9 1307.3L575.8 1300.6Z" fill="#f4f4f4"/>
<path d="M821.2 1287.1L835.2 1280.4L849.2 1287.1L849.2 1300.6L835.2 1307.3L821.2 1300.6Z" fill="#f4f4f4"/>
<path d="M153.3 1306.7L167.3 1300.0L181.4 1306.7L181.4 1320.1L167.3 1326.9L153.3 1320.1Z" fill="#e6e6e6"/>
<path d="M235.1 1306.7L249.1 1300.0L263.1 1306.7L263.1 1320.1L249.1 1326.9L235.1 1320.1Z" fill="#e6e6e6"/>
<path d="M262.4 1306.7L276.4 1300.0L290.4 1306.7L290.4 1320.1L276.4 1326.9L262.4 1320.1Z" fill="#575757"/>
<path d="M289.6 1306.7L303.6 1300.0L317.7 1306.7L317.7 1320.1L303.6 1326.9L289.6 1320.1Z" fill="#a4a4a4"/>
<path d="M316.9 1306.7L330.9 1300.0L344.9 1306.7L344.9 1320.1L330.9 1326.9L316.9 1320.1Z" fill="#393939"/>
<path d="M344.1 1306.7L358.2 1300.0L372.2 1306.7L372.2 1320.1L358.2 1326.9L344.1 1320.1Z" fill="#898989"/>
<path d="M371.4 1306.7L385.4 1300.0L399.5 1306.7L399.5 1320.1L385.4 1326.9L371.4 1320.1Z" fill="#f4f4f4"/>
<path d="M398.6 1306.7L412.7 1300.0L426.7 1306.7L426.7 1320.1L412.7 1326.9L398.6 1320.1Z" fill="#d4d4d4"/>
<path d="M425.9 1306.7L439.9 1300.0L454.0 1306.7L454.0 1320.1L439.9 1326.9L425.9 1320.1Z" fill="#f4f4f4"/>
<path d="M453.2 1306.7L467.2 1300.0L481.2 1306.7L481.2 1320.1L467.2 1326.9L453.2 1320.1Z" fill="#f4f4f4"/>
<path d="M480.4 1306.7L494.5 1300.0L508.5 1306.7L508.5 1320.1L494.5 1326.9L480.4 1320.1Z" fill="#f4f4f4"/>
<path d="M562.2 1306.7L576.2 1300.0L590.3 1306.7L590.3 1320.1L576.2 1326.9L562.2 1320.1Z" fill="#f4f4f4"/>
<path d="M589.5 1306.7L603.5 1300.0L617.5 1306.7L617.5 1320.1L603.5 1326.9L589.5 1320.1Z" fill="#f4f4f4"/>
<path d="M616.7 1306.7L630.8 1300.0L644.8 1306.7L644.8 1320.1L630.8 1326.9L616.7 1320.1Z" fill="#f4f4f4"/>
<path d="M139.7 1326.2L153.7 1319.5L167.7 1326.2L167.7 1339.7L153.7 1346.4L139.7 1339.7Z" fill="#f4f4f4"/>
<path d="M221.5 1326.2L235.5 1319.5L249.5 1326.2L249.5 1339.7L235.5 1346.4L221.5 1339.7Z" fill="#e6e6e6"/>
<path d="M248.7 1326.2L262.8 1319.5L276.8 1326.2L276.8 1339.7L262.8 1346.4L248.7 1339.7Z" fill="#e6e6e6"/>
<path d="M276.0 1326.2L290.0 1319.5L304.0 1326.2L304.0 1339.7L290.0 1346.4L276.0 1339.7Z" fill="#000000"/>
<path d="M303.2 1326.2L317.3 1319.5L331.3 1326.2L331.3 1339.7L317.3 1346.4L303.2 1339.7Z" fill="#bfbfbf"/>
<path d="M330.5 1326.2L344.5 1319.5L358.6 1326.2L358.6 1339.7L344.5 1346.4L330.5 1339.7Z" fill="#393939"/>
<path d="M357.8 1326.2L371.8 1319.5L385.8 1326.2L385.8 1339.7L371.8 1346.4L357.8 1339.7Z" fill="#575757"/>
<path d="M385.0 1326.2L399.1 1319.5L413.1 1326.2L413.1 1339.7L399.1 1346.4L385.0 1339.7Z" fill="#707070"/>
<path d="M412.3 1326.2L426.3 1319.5L440.3 1326.2L440.3 1339.7L426.3 1346.4L412.3 1339.7Z" fill="#f4f4f4"/>
<path d="M521.3 1326.2L535.4 1319.5L549.4 1326.2L549.4 1339.7L535.4 1346.4L521.3 1339.7Z" fill="#f4f4f4"/>
<path d="M548.6 1326.2L562.6 1319.5L576.6 1326.2L576.6 1339.7L562.6 1346.4L548.6 1339.7Z" fill="#f4f4f4"/>
<path d="M630.4 1326.2L644.4 1319.5L658.4 1326.2L658.4 1339.7L644.4 1346.4L630.4 1339.7Z" fill="#e6e6e6"/>
<path d="M153.3 1345.8L167.3 1339.0L181.4 1345.8L181.4 1359.2L167.3 1366.0L153.3 1359.2Z" fill="#f4f4f4"/>
<path d="M180.6 1345.8L194.6 1339.0L208.6 1345.8L208.6 1359.2L194.6 1366.0L180.6 1359.2Z" fill="#e6e6e6"/>
<path d="M207.8 1345.8L221.9 1339.0L235.9 1345.8L235.9 1359.2L221.9 1366.0L207.8 1359.2Z" fill="#f4f4f4"/>
<path d="M235.1 1345.8L249.1 1339.0L263.1 1345.8L263.1 1359.2L249.1 1366.0L235.1 1359.2Z" fill="#f4f4f4"/>
<path d="M289.6 1345.8L303.6 1339.0L317.7 1345.8L317.7 1359.2L303.6 1366.0L289.6 1359.2Z" fill="#707070"/>
<path d="M316.9 1345.8L330.9 1339.0L344.9 1345.8L344.9 1359.2L330.9 1366.0L316.9 1359.2Z" fill="#f4f4f4"/>
<path d="M344.1 1345.8L358.2 1339.0L372.2 1345.8L372.2 1359.2L358.2 1366.0L344.1 1359.2Z" fill="#f4f4f4"/>
<path d="M371.4 1345.8L385.4 1339.0L399.5 1345.8L399.5 1359.2L385.4 1366.0L371.4 1359.2Z" fill="#d4d4d4"/>
<path d="M453.2 1345.8L467.2 1339.0L481.2 1345.8L481.2 1359.2L467.2 1366.0L453.2 1359.2Z" fill="#f4f4f4"/>
<path d="M671.2 1345.8L685.3 1339.0L699.3 1345.8L699.3 1359.2L685.3 1366.0L671.2 1359.2Z" fill="#f4f4f4"/>
<path d="M139.7 1365.3L153.7 1358.6L167.7 1365.3L167.7 1378.8L153.7 1385.5L139.7 1378.8Z" fill="#f4f4f4"/>
<path d="M166.9 1365.3L181.0 1358.6L195.0 1365.3L195.0 1378.8L181.0 1385.5L166.9 1378.8Z" fill="#f4f4f4"/>
<path d="M248.7 1365.3L262.8 1358.6L276.8 1365.3L276.8 1378.8L262.8 1385.5L248.7 1378.8Z" fill="#d4d4d4"/>
<path d="M276.0 1365.3L290.0 1358.6L304.0 1365.3L304.0 1378.8L290.0 1385.5L276.0 1378.8Z" fill="#f4f4f4"/>
<path d="M303.2 1365.3L317.3 1358.6L331.3 1365.3L331.3 1378.8L317.3 1385.5L303.2 1378.8Z" fill="#f4f4f4"/>
<path d="M330.5 1365.3L344.5 1358.6L358.6 1365.3L358.6 1378.8L344.5 1385.5L330.5 1378.8Z" fill="#d4d4d4"/>
<path d="M357.8 1365.3L371.8 1358.6L385.8 1365.3L385.8 1378.8L371.8 1385.5L357.8 1378.8Z" fill="#f4f4f4"/>
<path d="M180.6 1384.9L194.6 1378.1L208.6 1384.9L208.6 1398.3L194.6 1405.0L180.6 1398.3Z" fill="#f4f4f4"/>
<path d="M262.4 1384.9L276.4 1378.1L290.4 1384.9L290.4 1398.3L276.4 1405.0L262.4 1398.3Z" fill="#e6e6e6"/>
<path d="M289.6 1384.9L303.6 1378.1L317.7 1384.9L317.7 1398.3L303.6 1405.0L289.6 1398.3Z" fill="#a4a4a4"/>
<path d="M316.9 1384.9L330.9 1378.1L344.9 1384.9L344.9 1398.3L330.9 1405.0L316.9 1398.3Z" fill="#f4f4f4"/>
<path d="M344.1 1384.9L358.2 1378.1L372.2 1384.9L372.2 1398.3L358.2 1405.0L344.1 1398.3Z" fill="#f4f4f4"/>
<path d="M139.7 1404.4L153.7 1397.7L167.7 1404.4L167.7 1417.9L153.7 1424.6L139.7 1417.9Z" fill="#e6e6e6"/>
<path d="M166.9 1404.4L181.0 1397.7L195.0 1404.4L195.0 1417.9L181.0 1424.6L166.9 1417.9Z" fill="#e6e6e6"/>
<path d="M194.2 1404.4L208.2 1397.7L222.3 1404.4L222.3 1417.9L208.2 1424.6L194.2 1417.9Z" fill="#f4f4f4"/>
<path d="M276.0 1404.4L290.0 1397.7L304.0 1404.4L304.0 1417.9L290.0 1424.6L276.0 1417.9Z" fill="#f4f4f4"/>
<path d="M303.2 1404.4L317.3 1397.7L331.3 1404.4L331.3 1417.9L317.3 1424.6L303.2 1417.9Z" fill="#f4f4f4"/>
<path d="M330.5 1404.4L344.5 1397.7L358.6 1404.4L358.6 1417.9L344.5 1424.6L330.5 1417.9Z" fill="#f4f4f4"/>
<path d="M153.3 1424.0L167.3 1417.2L181.4 1424.0L181.4 1437.4L167.3 1444.1L153.3 1437.4Z" fill="#e6e6e6"/>
<path d="M180.6 1424.0L194.6 1417.2L208.6 1424.0L208.6 1437.4L194.6 1444.1L180.6 1437.4Z" fill="#a4a4a4"/>
<path d="M207.8 1424.0L221.9 1417.2L235.9 1424.0L235.9 1437.4L221.9 1444.1L207.8 1437.4Z" fill="#f4f4f4"/>
<path d="M453.2 1424.0L467.2 1417.2L481.2 1424.0L481.2 1437.4L467.2 1444.1L453.2 1437.4Z" fill="#f4f4f4"/>
<path d="M194.2 1443.5L208.2 1436.8L222.3 1443.5L222.3 1457.0L208.2 1463.7L194.2 1457.0Z" fill="#f4f4f4"/>
<path d="M276.0 1443.5L290.0 1436.8L304.0 1443.5L304.0 1457.0L290.0 1463.7L276.0 1457.0Z" fill="#f4f4f4"/>
</g>
<line x1="148.1" y1="1464.0" x2="953.8" y2="810.0" stroke="#000" stroke-opacity="0.45" stroke-width="4.6"/>
<rect x="955.0999999999999" y="807.0" width="40" height="660.0" fill="#fff"/>
<rect x="148.10" y="810.00" width="805.70" height="654.00" fill="none" stroke="#1a1a1a" stroke-width="2.6"/>
<line x1="137.20" y1="1464.00" x2="148.10" y2="1464.00" stroke="#1a1a1a" stroke-width="2.6" />
<text x="126.28" y="1473.91" font-size="28.80" text-anchor="end" textLength="59.42" lengthAdjust="spacingAndGlyphs" fill="#1a1a1a">−2.0</text>
<line x1="137.20" y1="1382.25" x2="148.10" y2="1382.25" stroke="#1a1a1a" stroke-width="2.6" />
<text x="126.37" y="1392.16" font-size="28.80" text-anchor="end" textLength="59.42" lengthAdjust="spacingAndGlyphs" fill="#1a1a1a">−1.5</text>
<line x1="137.20" y1="1300.50" x2="148.10" y2="1300.50" stroke="#1a1a1a" stroke-width="2.6" />
<text x="126.28" y="1310.41" font-size="28.80" text-anchor="end" textLength="59.42" lengthAdjust="spacingAndGlyphs" fill="#1a1a1a">−1.0</text>
<line x1="137.20" y1="1218.75" x2="148.10" y2="1218.75" stroke="#1a1a1a" stroke-width="2.6" />
<text x="126.37" y="1228.66" font-size="28.80" text-anchor="end" textLength="59.42" lengthAdjust="spacingAndGlyphs" fill="#1a1a1a">−0.5</text>
<line x1="137.20" y1="1137.00" x2="148.10" y2="1137.00" stroke="#1a1a1a" stroke-width="2.6" />
<text x="126.28" y="1146.91" font-size="28.80" text-anchor="end" textLength="41.84" lengthAdjust="spacingAndGlyphs" fill="#1a1a1a">0.0</text>
<line x1="137.20" y1="1055.25" x2="148.10" y2="1055.25" stroke="#1a1a1a" stroke-width="2.6" />
<text x="126.37" y="1065.16" font-size="28.80" text-anchor="end" textLength="41.84" lengthAdjust="spacingAndGlyphs" fill="#1a1a1a">0.5</text>
<line x1="137.20" y1="973.50" x2="148.10" y2="973.50" stroke="#1a1a1a" stroke-width="2.6" />
<text x="126.28" y="983.41" font-size="28.80" text-anchor="end" textLength="41.84" lengthAdjust="spacingAndGlyphs" fill="#1a1a1a">1.0</text>
<line x1="137.20" y1="891.75" x2="148.10" y2="891.75" stroke="#1a1a1a" stroke-width="2.6" />
<text x="126.37" y="901.66" font-size="28.80" text-anchor="end" textLength="41.84" lengthAdjust="spacingAndGlyphs" fill="#1a1a1a">1.5</text>
<line x1="137.20" y1="810.00" x2="148.10" y2="810.00" stroke="#1a1a1a" stroke-width="2.6" />
<text x="126.28" y="819.91" font-size="28.80" text-anchor="end" textLength="41.84" lengthAdjust="spacingAndGlyphs" fill="#1a1a1a">2.0</text>
<line x1="148.10" y1="1464.00" x2="148.10" y2="1473.80" stroke="#1a1a1a" stroke-width="2.6" />
<text x="118.24" y="1505.10" font-size="28.80" text-anchor="start" textLength="59.42" lengthAdjust="spacingAndGlyphs" fill="#1a1a1a">−2.0</text>
<line x1="248.81" y1="1464.00" x2="248.81" y2="1473.80" stroke="#1a1a1a" stroke-width="2.6" />
<text x="219.00" y="1505.10" font-size="28.80" text-anchor="start" textLength="59.42" lengthAdjust="spacingAndGlyphs" fill="#1a1a1a">−1.5</text>
<line x1="349.52" y1="1464.00" x2="349.52" y2="1473.80" stroke="#1a1a1a" stroke-width="2.6" />
<text x="319.67" y="1505.10" font-size="28.80" text-anchor="start" textLength="59.42" lengthAdjust="spacingAndGlyphs" fill="#1a1a1a">−1.0</text>
<line x1="450.24" y1="1464.00" x2="450.24" y2="1473.80" stroke="#1a1a1a" stroke-width="2.6" />
<text x="420.42" y="1505.10" font-size="28.80" text-anchor="start" textLength="59.42" lengthAdjust="spacingAndGlyphs" fill="#1a1a1a">−0.5</text>
<line x1="550.95" y1="1464.00" x2="550.95" y2="1473.80" stroke="#1a1a1a" stroke-width="2.6" />
<text x="530.03" y="1505.10" font-size="28.80" text-anchor="start" textLength="41.84" lengthAdjust="spacingAndGlyphs" fill="#1a1a1a">0.0</text>
<line x1="651.66" y1="1464.00" x2="651.66" y2="1473.80" stroke="#1a1a1a" stroke-width="2.6" />
<text x="630.79" y="1505.10" font-size="28.80" text-anchor="start" textLength="41.84" lengthAdjust="spacingAndGlyphs" fill="#1a1a1a">0.5</text>
<line x1="752.38" y1="1464.00" x2="752.38" y2="1473.80" stroke="#1a1a1a" stroke-width="2.6" />
<text x="730.90" y="1505.10" font-size="28.80" text-anchor="start" textLength="41.84" lengthAdjust="spacingAndGlyphs" fill="#1a1a1a">1.0</text>
<line x1="853.09" y1="1464.00" x2="853.09" y2="1473.80" stroke="#1a1a1a" stroke-width="2.6" />
<text x="831.66" y="1505.10" font-size="28.80" text-anchor="start" textLength="41.84" lengthAdjust="spacingAndGlyphs" fill="#1a1a1a">1.5</text>
<line x1="953.80" y1="1464.00" x2="953.80" y2="1473.80" stroke="#1a1a1a" stroke-width="2.6" />
<text x="932.71" y="1505.10" font-size="28.80" text-anchor="start" textLength="41.84" lengthAdjust="spacingAndGlyphs" fill="#1a1a1a">2.0</text>
<defs><linearGradient id="gC" x1="0" y1="1" x2="0" y2="0"><stop offset="0.000" stop-color="#ffffff"/><stop offset="0.050" stop-color="#f9f9f9"/><stop offset="0.100" stop-color="#f3f3f3"/><stop offset="0.150" stop-color="#ececec"/><stop offset="0.200" stop-color="#e2e2e2"/><stop offset="0.250" stop-color="#d9d9d9"/><stop offset="0.300" stop-color="#cecece"/><stop offset="0.350" stop-color="#c3c3c3"/><stop offset="0.400" stop-color="#b5b5b5"/><stop offset="0.450" stop-color="#a5a5a5"/><stop offset="0.500" stop-color="#959595"/><stop offset="0.550" stop-color="#888888"/><stop offset="0.600" stop-color="#7a7a7a"/><stop offset="0.650" stop-color="#6c6c6c"/><stop offset="0.700" stop-color="#5f5f5f"/><stop offset="0.750" stop-color="#515151"/><stop offset="0.800" stop-color="#404040"/><stop offset="0.850" stop-color="#2e2e2e"/><stop offset="0.900" stop-color="#1d1d1d"/><stop offset="0.950" stop-color="#0e0e0e"/><stop offset="1.000" stop-color="#000000"/></linearGradient></defs>
<rect x="1004.10" y="810.10" width="33.00" height="653.90" fill="url(#gC)" stroke="#1a1a1a" stroke-width="2.6"/>
<line x1="1037.10" y1="1464.00" x2="1046.60" y2="1464.00" stroke="#1a1a1a" stroke-width="2.6" />
<text x="1059.83" y="1473.91" font-size="28.80" text-anchor="start" textLength="16.74" lengthAdjust="spacingAndGlyphs" fill="#1a1a1a">0</text>
<line x1="1037.10" y1="1345.11" x2="1046.60" y2="1345.11" stroke="#1a1a1a" stroke-width="2.6" />
<text x="1059.49" y="1355.02" font-size="28.80" text-anchor="start" textLength="16.74" lengthAdjust="spacingAndGlyphs" fill="#1a1a1a">2</text>
<line x1="1037.10" y1="1226.22" x2="1046.60" y2="1226.22" stroke="#1a1a1a" stroke-width="2.6" />
<text x="1060.31" y="1236.13" font-size="28.80" text-anchor="start" textLength="16.74" lengthAdjust="spacingAndGlyphs" fill="#1a1a1a">4</text>
<line x1="1037.10" y1="1107.33" x2="1046.60" y2="1107.33" stroke="#1a1a1a" stroke-width="2.6" />
<text x="1059.46" y="1117.23" font-size="28.80" text-anchor="start" textLength="16.74" lengthAdjust="spacingAndGlyphs" fill="#1a1a1a">6</text>
<line x1="1037.10" y1="988.44" x2="1046.60" y2="988.44" stroke="#1a1a1a" stroke-width="2.6" />
<text x="1059.71" y="998.34" font-size="28.80" text-anchor="start" textLength="16.74" lengthAdjust="spacingAndGlyphs" fill="#1a1a1a">8</text>
<line x1="1037.10" y1="869.55" x2="1046.60" y2="869.55" stroke="#1a1a1a" stroke-width="2.6" />
<text x="1058.71" y="879.45" font-size="28.80" text-anchor="start" textLength="33.48" lengthAdjust="spacingAndGlyphs" fill="#1a1a1a">10</text>
<text x="239.58" y="781.00" font-size="34.20" text-anchor="start" textLength="622.47" lengthAdjust="spacingAndGlyphs" fill="#1a1a1a">charge states of same peptide (r=0.81)</text>
<text x="407.43" y="1545.40" font-size="28.80" text-anchor="start" textLength="286.89" lengthAdjust="spacingAndGlyphs" fill="#1a1a1a">+2 charged precursor</text>
<text x="50.20" y="1264.90" font-size="28.60" text-anchor="start" transform="rotate(-90 50.20 1264.90)" fill="#1a1a1a">+3 charged precursor</text>
<text x="1.38" y="777.10" font-size="49.00" text-anchor="start" font-weight="bold" textLength="35.67" lengthAdjust="spacingAndGlyphs" fill="#1a1a1a">C</text>
<defs><clipPath id="clipD"><rect x="1231.1" y="813.1" width="795.0" height="645.3000000000001"/></clipPath></defs><g clip-path="url(#clipD)">
<path d="M1801.2 850.1L1815.0 842.6L1828.8 850.1L1828.8 865.1L1815.0 872.6L1801.2 865.1Z" fill="#f8f8f8"/>
<path d="M1868.4 872.0L1882.2 864.5L1896.1 872.0L1896.1 886.9L1882.2 894.4L1868.4 886.9Z" fill="#f5f5f5"/>
<path d="M1922.2 872.0L1936.0 864.5L1949.9 872.0L1949.9 886.9L1936.0 894.4L1922.2 886.9Z" fill="#f5f5f5"/>
<path d="M1922.2 915.7L1936.0 908.2L1949.9 915.7L1949.9 930.6L1936.0 938.1L1922.2 930.6Z" fill="#f3f3f3"/>
<path d="M1801.2 937.5L1815.0 930.0L1828.8 937.5L1828.8 952.5L1815.0 960.0L1801.2 952.5Z" fill="#f3f3f3"/>
<path d="M1787.7 959.4L1801.5 951.9L1815.4 959.4L1815.4 974.3L1801.5 981.8L1787.7 974.3Z" fill="#f3f3f3"/>
<path d="M1841.5 959.4L1855.3 951.9L1869.2 959.4L1869.2 974.3L1855.3 981.8L1841.5 974.3Z" fill="#f3f3f3"/>
<path d="M1612.8 981.2L1626.7 973.7L1640.5 981.2L1640.5 996.2L1626.7 1003.7L1612.8 996.2Z" fill="#f0f0f0"/>
<path d="M1720.5 981.2L1734.3 973.7L1748.1 981.2L1748.1 996.2L1734.3 1003.7L1720.5 996.2Z" fill="#f5f5f5"/>
<path d="M1747.3 981.2L1761.2 973.7L1775.0 981.2L1775.0 996.2L1761.2 1003.7L1747.3 996.2Z" fill="#ebebeb"/>
<path d="M1464.9 1003.1L1478.8 995.6L1492.6 1003.1L1492.6 1018.0L1478.8 1025.5L1464.9 1018.0Z" fill="#fafafa"/>
<path d="M1707.0 1003.1L1720.8 995.6L1734.7 1003.1L1734.7 1018.0L1720.8 1025.5L1707.0 1018.0Z" fill="#e6e6e6"/>
<path d="M1733.9 1003.1L1747.8 995.6L1761.6 1003.1L1761.6 1018.0L1747.8 1025.5L1733.9 1018.0Z" fill="#f8f8f8"/>
<path d="M1760.8 1003.1L1774.6 995.6L1788.5 1003.1L1788.5 1018.0L1774.6 1025.5L1760.8 1018.0Z" fill="#f3f3f3"/>
<path d="M1639.8 1024.9L1653.6 1017.4L1667.4 1024.9L1667.4 1039.9L1653.6 1047.4L1639.8 1039.9Z" fill="#f8f8f8"/>
<path d="M1666.7 1024.9L1680.5 1017.4L1694.3 1024.9L1694.3 1039.9L1680.5 1047.4L1666.7 1039.9Z" fill="#f3f3f3"/>
<path d="M1693.5 1024.9L1707.4 1017.4L1721.2 1024.9L1721.2 1039.9L1707.4 1047.4L1693.5 1039.9Z" fill="#f8f8f8"/>
<path d="M1720.5 1024.9L1734.3 1017.4L1748.1 1024.9L1748.1 1039.9L1734.3 1047.4L1720.5 1039.9Z" fill="#f3f3f3"/>
<path d="M1747.3 1024.9L1761.2 1017.4L1775.0 1024.9L1775.0 1039.9L1761.2 1047.4L1747.3 1039.9Z" fill="#f5f5f5"/>
<path d="M1774.2 1024.9L1788.1 1017.4L1801.9 1024.9L1801.9 1039.9L1788.1 1047.4L1774.2 1039.9Z" fill="#f8f8f8"/>
<path d="M1855.0 1024.9L1868.8 1017.4L1882.6 1024.9L1882.6 1039.9L1868.8 1047.4L1855.0 1039.9Z" fill="#f8f8f8"/>
<path d="M1572.5 1046.8L1586.3 1039.3L1600.2 1046.8L1600.2 1061.7L1586.3 1069.2L1572.5 1061.7Z" fill="#f8f8f8"/>
<path d="M1599.4 1046.8L1613.2 1039.3L1627.1 1046.8L1627.1 1061.7L1613.2 1069.2L1599.4 1061.7Z" fill="#f5f5f5"/>
<path d="M1626.3 1046.8L1640.1 1039.3L1654.0 1046.8L1654.0 1061.7L1640.1 1069.2L1626.3 1061.7Z" fill="#f3f3f3"/>
<path d="M1653.2 1046.8L1667.0 1039.3L1680.9 1046.8L1680.9 1061.7L1667.0 1069.2L1653.2 1061.7Z" fill="#f8f8f8"/>
<path d="M1680.1 1046.8L1693.9 1039.3L1707.8 1046.8L1707.8 1061.7L1693.9 1069.2L1680.1 1061.7Z" fill="#ebebeb"/>
<path d="M1707.0 1046.8L1720.8 1039.3L1734.7 1046.8L1734.7 1061.7L1720.8 1069.2L1707.0 1061.7Z" fill="#e8e8e8"/>
<path d="M1733.9 1046.8L1747.8 1039.3L1761.6 1046.8L1761.6 1061.7L1747.8 1069.2L1733.9 1061.7Z" fill="#e6e6e6"/>
<path d="M1760.8 1046.8L1774.6 1039.3L1788.5 1046.8L1788.5 1061.7L1774.6 1069.2L1760.8 1061.7Z" fill="#f0f0f0"/>
<path d="M1787.7 1046.8L1801.5 1039.3L1815.4 1046.8L1815.4 1061.7L1801.5 1069.2L1787.7 1061.7Z" fill="#f8f8f8"/>
<path d="M1922.2 1046.8L1936.0 1039.3L1949.9 1046.8L1949.9 1061.7L1936.0 1069.2L1922.2 1061.7Z" fill="#f8f8f8"/>
<path d="M1586.0 1068.6L1599.8 1061.1L1613.6 1068.6L1613.6 1083.6L1599.8 1091.1L1586.0 1083.6Z" fill="#fafafa"/>
<path d="M1612.8 1068.6L1626.7 1061.1L1640.5 1068.6L1640.5 1083.6L1626.7 1091.1L1612.8 1083.6Z" fill="#f8f8f8"/>
<path d="M1639.8 1068.6L1653.6 1061.1L1667.4 1068.6L1667.4 1083.6L1653.6 1091.1L1639.8 1083.6Z" fill="#f5f5f5"/>
<path d="M1666.7 1068.6L1680.5 1061.1L1694.3 1068.6L1694.3 1083.6L1680.5 1091.1L1666.7 1083.6Z" fill="#dcdcdc"/>
<path d="M1693.5 1068.6L1707.4 1061.1L1721.2 1068.6L1721.2 1083.6L1707.4 1091.1L1693.5 1083.6Z" fill="#ebebeb"/>
<path d="M1720.5 1068.6L1734.3 1061.1L1748.1 1068.6L1748.1 1083.6L1734.3 1091.1L1720.5 1083.6Z" fill="#e6e6e6"/>
<path d="M1747.3 1068.6L1761.2 1061.1L1775.0 1068.6L1775.0 1083.6L1761.2 1091.1L1747.3 1083.6Z" fill="#f3f3f3"/>
<path d="M1774.2 1068.6L1788.1 1061.1L1801.9 1068.6L1801.9 1083.6L1788.1 1091.1L1774.2 1083.6Z" fill="#f5f5f5"/>
<path d="M1464.9 1090.5L1478.8 1083.0L1492.6 1090.5L1492.6 1105.4L1478.8 1112.9L1464.9 1105.4Z" fill="#f8f8f8"/>
<path d="M1491.8 1090.5L1505.6 1083.0L1519.5 1090.5L1519.5 1105.4L1505.6 1112.9L1491.8 1105.4Z" fill="#f5f5f5"/>
<path d="M1545.6 1090.5L1559.4 1083.0L1573.3 1090.5L1573.3 1105.4L1559.4 1112.9L1545.6 1105.4Z" fill="#e6e6e6"/>
<path d="M1572.5 1090.5L1586.3 1083.0L1600.2 1090.5L1600.2 1105.4L1586.3 1112.9L1572.5 1105.4Z" fill="#f5f5f5"/>
<path d="M1599.4 1090.5L1613.2 1083.0L1627.1 1090.5L1627.1 1105.4L1613.2 1112.9L1599.4 1105.4Z" fill="#f8f8f8"/>
<path d="M1626.3 1090.5L1640.1 1083.0L1654.0 1090.5L1654.0 1105.4L1640.1 1112.9L1626.3 1105.4Z" fill="#e8e8e8"/>
<path d="M1653.2 1090.5L1667.0 1083.0L1680.9 1090.5L1680.9 1105.4L1667.0 1112.9L1653.2 1105.4Z" fill="#b8b8b8"/>
<path d="M1680.1 1090.5L1693.9 1083.0L1707.8 1090.5L1707.8 1105.4L1693.9 1112.9L1680.1 1105.4Z" fill="#d0d0d0"/>
<path d="M1707.0 1090.5L1720.8 1083.0L1734.7 1090.5L1734.7 1105.4L1720.8 1112.9L1707.0 1105.4Z" fill="#ebebeb"/>
<path d="M1733.9 1090.5L1747.8 1083.0L1761.6 1090.5L1761.6 1105.4L1747.8 1112.9L1733.9 1105.4Z" fill="#f3f3f3"/>
<path d="M1760.8 1090.5L1774.6 1083.0L1788.5 1090.5L1788.5 1105.4L1774.6 1112.9L1760.8 1105.4Z" fill="#f5f5f5"/>
<path d="M1787.7 1090.5L1801.5 1083.0L1815.4 1090.5L1815.4 1105.4L1801.5 1112.9L1787.7 1105.4Z" fill="#f3f3f3"/>
<path d="M1505.2 1112.3L1519.1 1104.8L1532.9 1112.3L1532.9 1127.3L1519.1 1134.8L1505.2 1127.3Z" fill="#f8f8f8"/>
<path d="M1532.2 1112.3L1546.0 1104.8L1559.8 1112.3L1559.8 1127.3L1546.0 1134.8L1532.2 1127.3Z" fill="#e0e0e0"/>
<path d="M1559.0 1112.3L1572.9 1104.8L1586.7 1112.3L1586.7 1127.3L1572.9 1134.8L1559.0 1127.3Z" fill="#f0f0f0"/>
<path d="M1586.0 1112.3L1599.8 1104.8L1613.6 1112.3L1613.6 1127.3L1599.8 1134.8L1586.0 1127.3Z" fill="#d8d8d8"/>
<path d="M1612.8 1112.3L1626.7 1104.8L1640.5 1112.3L1640.5 1127.3L1626.7 1134.8L1612.8 1127.3Z" fill="#dcdcdc"/>
<path d="M1639.8 1112.3L1653.6 1104.8L1667.4 1112.3L1667.4 1127.3L1653.6 1134.8L1639.8 1127.3Z" fill="#dadada"/>
<path d="M1666.7 1112.3L1680.5 1104.8L1694.3 1112.3L1694.3 1127.3L1680.5 1134.8L1666.7 1127.3Z" fill="#e6e6e6"/>
<path d="M1693.5 1112.3L1707.4 1104.8L1721.2 1112.3L1721.2 1127.3L1707.4 1134.8L1693.5 1127.3Z" fill="#ebebeb"/>
<path d="M1720.5 1112.3L1734.3 1104.8L1748.1 1112.3L1748.1 1127.3L1734.3 1134.8L1720.5 1127.3Z" fill="#f8f8f8"/>
<path d="M1438.0 1134.2L1451.8 1126.7L1465.7 1134.2L1465.7 1149.1L1451.8 1156.6L1438.0 1149.1Z" fill="#f8f8f8"/>
<path d="M1518.7 1134.2L1532.5 1126.7L1546.4 1134.2L1546.4 1149.1L1532.5 1156.6L1518.7 1149.1Z" fill="#e6e6e6"/>
<path d="M1545.6 1134.2L1559.4 1126.7L1573.3 1134.2L1573.3 1149.1L1559.4 1156.6L1545.6 1149.1Z" fill="#e0e0e0"/>
<path d="M1572.5 1134.2L1586.3 1126.7L1600.2 1134.2L1600.2 1149.1L1586.3 1156.6L1572.5 1149.1Z" fill="#dadada"/>
<path d="M1599.4 1134.2L1613.2 1126.7L1627.1 1134.2L1627.1 1149.1L1613.2 1156.6L1599.4 1149.1Z" fill="#b8b8b8"/>
<path d="M1626.3 1134.2L1640.1 1126.7L1654.0 1134.2L1654.0 1149.1L1640.1 1156.6L1626.3 1149.1Z" fill="#d8d8d8"/>
<path d="M1653.2 1134.2L1667.0 1126.7L1680.9 1134.2L1680.9 1149.1L1667.0 1156.6L1653.2 1149.1Z" fill="#d0d0d0"/>
<path d="M1680.1 1134.2L1693.9 1126.7L1707.8 1134.2L1707.8 1149.1L1693.9 1156.6L1680.1 1149.1Z" fill="#f0f0f0"/>
<path d="M1841.5 1134.2L1855.3 1126.7L1869.2 1134.2L1869.2 1149.1L1855.3 1156.6L1841.5 1149.1Z" fill="#f8f8f8"/>
<path d="M1868.4 1134.2L1882.2 1126.7L1896.1 1134.2L1896.1 1149.1L1882.2 1156.6L1868.4 1149.1Z" fill="#f8f8f8"/>
<path d="M1397.7 1156.0L1411.5 1148.5L1425.3 1156.0L1425.3 1171.0L1411.5 1178.5L1397.7 1171.0Z" fill="#f8f8f8"/>
<path d="M1424.5 1156.0L1438.4 1148.5L1452.2 1156.0L1452.2 1171.0L1438.4 1178.5L1424.5 1171.0Z" fill="#f3f3f3"/>
<path d="M1451.5 1156.0L1465.3 1148.5L1479.1 1156.0L1479.1 1171.0L1465.3 1178.5L1451.5 1171.0Z" fill="#f3f3f3"/>
<path d="M1478.3 1156.0L1492.2 1148.5L1506.0 1156.0L1506.0 1171.0L1492.2 1178.5L1478.3 1171.0Z" fill="#f3f3f3"/>
<path d="M1505.2 1156.0L1519.1 1148.5L1532.9 1156.0L1532.9 1171.0L1519.1 1178.5L1505.2 1171.0Z" fill="#e0e0e0"/>
<path d="M1532.2 1156.0L1546.0 1148.5L1559.8 1156.0L1559.8 1171.0L1546.0 1178.5L1532.2 1171.0Z" fill="#a8a8a8"/>
<path d="M1559.0 1156.0L1572.9 1148.5L1586.7 1156.0L1586.7 1171.0L1572.9 1178.5L1559.0 1171.0Z" fill="#6e6e6e"/>
<path d="M1586.0 1156.0L1599.8 1148.5L1613.6 1156.0L1613.6 1171.0L1599.8 1178.5L1586.0 1171.0Z" fill="#7a7a7a"/>
<path d="M1612.8 1156.0L1626.7 1148.5L1640.5 1156.0L1640.5 1171.0L1626.7 1178.5L1612.8 1171.0Z" fill="#d0d0d0"/>
<path d="M1639.8 1156.0L1653.6 1148.5L1667.4 1156.0L1667.4 1171.0L1653.6 1178.5L1639.8 1171.0Z" fill="#e8e8e8"/>
<path d="M1666.7 1156.0L1680.5 1148.5L1694.3 1156.0L1694.3 1171.0L1680.5 1178.5L1666.7 1171.0Z" fill="#f3f3f3"/>
<path d="M1693.5 1156.0L1707.4 1148.5L1721.2 1156.0L1721.2 1171.0L1707.4 1178.5L1693.5 1171.0Z" fill="#fafafa"/>
<path d="M1330.4 1177.9L1344.2 1170.4L1358.1 1177.9L1358.1 1192.8L1344.2 1200.3L1330.4 1192.8Z" fill="#fafafa"/>
<path d="M1357.3 1177.9L1371.1 1170.4L1385.0 1177.9L1385.0 1192.8L1371.1 1200.3L1357.3 1192.8Z" fill="#f8f8f8"/>
<path d="M1384.2 1177.9L1398.0 1170.4L1411.9 1177.9L1411.9 1192.8L1398.0 1200.3L1384.2 1192.8Z" fill="#f8f8f8"/>
<path d="M1411.1 1177.9L1424.9 1170.4L1438.8 1177.9L1438.8 1192.8L1424.9 1200.3L1411.1 1192.8Z" fill="#f5f5f5"/>
<path d="M1438.0 1177.9L1451.8 1170.4L1465.7 1177.9L1465.7 1192.8L1451.8 1200.3L1438.0 1192.8Z" fill="#f0f0f0"/>
<path d="M1464.9 1177.9L1478.8 1170.4L1492.6 1177.9L1492.6 1192.8L1478.8 1200.3L1464.9 1192.8Z" fill="#e8e8e8"/>
<path d="M1491.8 1177.9L1505.6 1170.4L1519.5 1177.9L1519.5 1192.8L1505.6 1200.3L1491.8 1192.8Z" fill="#c0c0c0"/>
<path d="M1518.7 1177.9L1532.5 1170.4L1546.4 1177.9L1546.4 1192.8L1532.5 1200.3L1518.7 1192.8Z" fill="#d8d8d8"/>
<path d="M1545.6 1177.9L1559.4 1170.4L1573.3 1177.9L1573.3 1192.8L1559.4 1200.3L1545.6 1192.8Z" fill="#5a5a5a"/>
<path d="M1572.5 1177.9L1586.3 1170.4L1600.2 1177.9L1600.2 1192.8L1586.3 1200.3L1572.5 1192.8Z" fill="#a5a5a5"/>
<path d="M1599.4 1177.9L1613.2 1170.4L1627.1 1177.9L1627.1 1192.8L1613.2 1200.3L1599.4 1192.8Z" fill="#e5e5e5"/>
<path d="M1626.3 1177.9L1640.1 1170.4L1654.0 1177.9L1654.0 1192.8L1640.1 1200.3L1626.3 1192.8Z" fill="#f0f0f0"/>
<path d="M1653.2 1177.9L1667.0 1170.4L1680.9 1177.9L1680.9 1192.8L1667.0 1200.3L1653.2 1192.8Z" fill="#f5f5f5"/>
<path d="M1680.1 1177.9L1693.9 1170.4L1707.8 1177.9L1707.8 1192.8L1693.9 1200.3L1680.1 1192.8Z" fill="#f5f5f5"/>
<path d="M1733.9 1177.9L1747.8 1170.4L1761.6 1177.9L1761.6 1192.8L1747.8 1200.3L1733.9 1192.8Z" fill="#f8f8f8"/>
<path d="M1922.2 1177.9L1936.0 1170.4L1949.9 1177.9L1949.9 1192.8L1936.0 1200.3L1922.2 1192.8Z" fill="#f8f8f8"/>
<path d="M1290.0 1199.7L1303.9 1192.2L1317.7 1199.7L1317.7 1214.7L1303.9 1222.2L1290.0 1214.7Z" fill="#fafafa"/>
<path d="M1317.0 1199.7L1330.8 1192.2L1344.6 1199.7L1344.6 1214.7L1330.8 1222.2L1317.0 1214.7Z" fill="#f8f8f8"/>
<path d="M1343.8 1199.7L1357.7 1192.2L1371.5 1199.7L1371.5 1214.7L1357.7 1222.2L1343.8 1214.7Z" fill="#f8f8f8"/>
<path d="M1370.8 1199.7L1384.6 1192.2L1398.4 1199.7L1398.4 1214.7L1384.6 1222.2L1370.8 1214.7Z" fill="#f5f5f5"/>
<path d="M1397.7 1199.7L1411.5 1192.2L1425.3 1199.7L1425.3 1214.7L1411.5 1222.2L1397.7 1214.7Z" fill="#f3f3f3"/>
<path d="M1424.5 1199.7L1438.4 1192.2L1452.2 1199.7L1452.2 1214.7L1438.4 1222.2L1424.5 1214.7Z" fill="#e3e3e3"/>
<path d="M1451.5 1199.7L1465.3 1192.2L1479.1 1199.7L1479.1 1214.7L1465.3 1222.2L1451.5 1214.7Z" fill="#c8c8c8"/>
<path d="M1478.3 1199.7L1492.2 1192.2L1506.0 1199.7L1506.0 1214.7L1492.2 1222.2L1478.3 1214.7Z" fill="#9a9a9a"/>
<path d="M1505.2 1199.7L1519.1 1192.2L1532.9 1199.7L1532.9 1214.7L1519.1 1222.2L1505.2 1214.7Z" fill="#555555"/>
<path d="M1532.2 1199.7L1546.0 1192.2L1559.8 1199.7L1559.8 1214.7L1546.0 1222.2L1532.2 1214.7Z" fill="#2a2a2a"/>
<path d="M1559.0 1199.7L1572.9 1192.2L1586.7 1199.7L1586.7 1214.7L1572.9 1222.2L1559.0 1214.7Z" fill="#9c9c9c"/>
<path d="M1586.0 1199.7L1599.8 1192.2L1613.6 1199.7L1613.6 1214.7L1599.8 1222.2L1586.0 1214.7Z" fill="#dcdcdc"/>
<path d="M1612.8 1199.7L1626.7 1192.2L1640.5 1199.7L1640.5 1214.7L1626.7 1222.2L1612.8 1214.7Z" fill="#f3f3f3"/>
<path d="M1639.8 1199.7L1653.6 1192.2L1667.4 1199.7L1667.4 1214.7L1653.6 1222.2L1639.8 1214.7Z" fill="#f5f5f5"/>
<path d="M1666.7 1199.7L1680.5 1192.2L1694.3 1199.7L1694.3 1214.7L1680.5 1222.2L1666.7 1214.7Z" fill="#f8f8f8"/>
<path d="M1276.6 1221.6L1290.4 1214.1L1304.3 1221.6L1304.3 1236.5L1290.4 1244.0L1276.6 1236.5Z" fill="#fafafa"/>
<path d="M1303.5 1221.6L1317.3 1214.1L1331.2 1221.6L1331.2 1236.5L1317.3 1244.0L1303.5 1236.5Z" fill="#f8f8f8"/>
<path d="M1330.4 1221.6L1344.2 1214.1L1358.1 1221.6L1358.1 1236.5L1344.2 1244.0L1330.4 1236.5Z" fill="#f8f8f8"/>
<path d="M1357.3 1221.6L1371.1 1214.1L1385.0 1221.6L1385.0 1236.5L1371.1 1244.0L1357.3 1236.5Z" fill="#f5f5f5"/>
<path d="M1384.2 1221.6L1398.0 1214.1L1411.9 1221.6L1411.9 1236.5L1398.0 1244.0L1384.2 1236.5Z" fill="#f3f3f3"/>
<path d="M1411.1 1221.6L1424.9 1214.1L1438.8 1221.6L1438.8 1236.5L1424.9 1244.0L1411.1 1236.5Z" fill="#e3e3e3"/>
<path d="M1438.0 1221.6L1451.8 1214.1L1465.7 1221.6L1465.7 1236.5L1451.8 1244.0L1438.0 1236.5Z" fill="#a8a8a8"/>
<path d="M1464.9 1221.6L1478.8 1214.1L1492.6 1221.6L1492.6 1236.5L1478.8 1244.0L1464.9 1236.5Z" fill="#7a7a7a"/>
<path d="M1491.8 1221.6L1505.6 1214.1L1519.5 1221.6L1519.5 1236.5L1505.6 1244.0L1491.8 1236.5Z" fill="#050505"/>
<path d="M1518.7 1221.6L1532.5 1214.1L1546.4 1221.6L1546.4 1236.5L1532.5 1244.0L1518.7 1236.5Z" fill="#101010"/>
<path d="M1545.6 1221.6L1559.4 1214.1L1573.3 1221.6L1573.3 1236.5L1559.4 1244.0L1545.6 1236.5Z" fill="#7e7e7e"/>
<path d="M1572.5 1221.6L1586.3 1214.1L1600.2 1221.6L1600.2 1236.5L1586.3 1244.0L1572.5 1236.5Z" fill="#d5d5d5"/>
<path d="M1599.4 1221.6L1613.2 1214.1L1627.1 1221.6L1627.1 1236.5L1613.2 1244.0L1599.4 1236.5Z" fill="#f0f0f0"/>
<path d="M1626.3 1221.6L1640.1 1214.1L1654.0 1221.6L1654.0 1236.5L1640.1 1244.0L1626.3 1236.5Z" fill="#f5f5f5"/>
<path d="M1263.2 1243.4L1277.0 1235.9L1290.8 1243.4L1290.8 1258.4L1277.0 1265.9L1263.2 1258.4Z" fill="#fafafa"/>
<path d="M1290.0 1243.4L1303.9 1235.9L1317.7 1243.4L1317.7 1258.4L1303.9 1265.9L1290.0 1258.4Z" fill="#fafafa"/>
<path d="M1317.0 1243.4L1330.8 1235.9L1344.6 1243.4L1344.6 1258.4L1330.8 1265.9L1317.0 1258.4Z" fill="#f8f8f8"/>
<path d="M1343.8 1243.4L1357.7 1235.9L1371.5 1243.4L1371.5 1258.4L1357.7 1265.9L1343.8 1258.4Z" fill="#f5f5f5"/>
<path d="M1370.8 1243.4L1384.6 1235.9L1398.4 1243.4L1398.4 1258.4L1384.6 1265.9L1370.8 1258.4Z" fill="#f3f3f3"/>
<path d="M1397.7 1243.4L1411.5 1235.9L1425.3 1243.4L1425.3 1258.4L1411.5 1265.9L1397.7 1258.4Z" fill="#e0e0e0"/>
<path d="M1424.5 1243.4L1438.4 1235.9L1452.2 1243.4L1452.2 1258.4L1438.4 1265.9L1424.5 1258.4Z" fill="#bcbcbc"/>
<path d="M1451.5 1243.4L1465.3 1235.9L1479.1 1243.4L1479.1 1258.4L1465.3 1265.9L1451.5 1258.4Z" fill="#707070"/>
<path d="M1478.3 1243.4L1492.2 1235.9L1506.0 1243.4L1506.0 1258.4L1492.2 1265.9L1478.3 1258.4Z" fill="#080808"/>
<path d="M1505.2 1243.4L1519.1 1235.9L1532.9 1243.4L1532.9 1258.4L1519.1 1265.9L1505.2 1258.4Z" fill="#0a0a0a"/>
<path d="M1532.2 1243.4L1546.0 1235.9L1559.8 1243.4L1559.8 1258.4L1546.0 1265.9L1532.2 1258.4Z" fill="#7a7a7a"/>
<path d="M1559.0 1243.4L1572.9 1235.9L1586.7 1243.4L1586.7 1258.4L1572.9 1265.9L1559.0 1258.4Z" fill="#c8c8c8"/>
<path d="M1586.0 1243.4L1599.8 1235.9L1613.6 1243.4L1613.6 1258.4L1599.8 1265.9L1586.0 1258.4Z" fill="#f3f3f3"/>
<path d="M1612.8 1243.4L1626.7 1235.9L1640.5 1243.4L1640.5 1258.4L1626.7 1265.9L1612.8 1258.4Z" fill="#f5f5f5"/>
<path d="M1303.5 1265.3L1317.3 1257.8L1331.2 1265.3L1331.2 1280.2L1317.3 1287.7L1303.5 1280.2Z" fill="#f8f8f8"/>
<path d="M1330.4 1265.3L1344.2 1257.8L1358.1 1265.3L1358.1 1280.2L1344.2 1287.7L1330.4 1280.2Z" fill="#f3f3f3"/>
<path d="M1357.3 1265.3L1371.1 1257.8L1385.0 1265.3L1385.0 1280.2L1371.1 1287.7L1357.3 1280.2Z" fill="#f5f5f5"/>
<path d="M1384.2 1265.3L1398.0 1257.8L1411.9 1265.3L1411.9 1280.2L1398.0 1287.7L1384.2 1280.2Z" fill="#e5e5e5"/>
<path d="M1411.1 1265.3L1424.9 1257.8L1438.8 1265.3L1438.8 1280.2L1424.9 1287.7L1411.1 1280.2Z" fill="#6a6a6a"/>
<path d="M1438.0 1265.3L1451.8 1257.8L1465.7 1265.3L1465.7 1280.2L1451.8 1287.7L1438.0 1280.2Z" fill="#050505"/>
<path d="M1464.9 1265.3L1478.8 1257.8L1492.6 1265.3L1492.6 1280.2L1478.8 1287.7L1464.9 1280.2Z" fill="#606060"/>
<path d="M1491.8 1265.3L1505.6 1257.8L1519.5 1265.3L1519.5 1280.2L1505.6 1287.7L1491.8 1280.2Z" fill="#5a5a5a"/>
<path d="M1518.7 1265.3L1532.5 1257.8L1546.4 1265.3L1546.4 1280.2L1532.5 1287.7L1518.7 1280.2Z" fill="#c8c8c8"/>
<path d="M1545.6 1265.3L1559.4 1257.8L1573.3 1265.3L1573.3 1280.2L1559.4 1287.7L1545.6 1280.2Z" fill="#dcdcdc"/>
<path d="M1572.5 1265.3L1586.3 1257.8L1600.2 1265.3L1600.2 1280.2L1586.3 1287.7L1572.5 1280.2Z" fill="#f0f0f0"/>
<path d="M1599.4 1265.3L1613.2 1257.8L1627.1 1265.3L1627.1 1280.2L1613.2 1287.7L1599.4 1280.2Z" fill="#f5f5f5"/>
<path d="M1626.3 1265.3L1640.1 1257.8L1654.0 1265.3L1654.0 1280.2L1640.1 1287.7L1626.3 1280.2Z" fill="#f8f8f8"/>
<path d="M1263.2 1287.1L1277.0 1279.6L1290.8 1287.1L1290.8 1302.1L1277.0 1309.6L1263.2 1302.1Z" fill="#f8f8f8"/>
<path d="M1290.0 1287.1L1303.9 1279.6L1317.7 1287.1L1317.7 1302.1L1303.9 1309.6L1290.0 1302.1Z" fill="#f5f5f5"/>
<path d="M1317.0 1287.1L1330.8 1279.6L1344.6 1287.1L1344.6 1302.1L1330.8 1309.6L1317.0 1302.1Z" fill="#f3f3f3"/>
<path d="M1343.8 1287.1L1357.7 1279.6L1371.5 1287.1L1371.5 1302.1L1357.7 1309.6L1343.8 1302.1Z" fill="#f0f0f0"/>
<path d="M1370.8 1287.1L1384.6 1279.6L1398.4 1287.1L1398.4 1302.1L1384.6 1309.6L1370.8 1302.1Z" fill="#d8d8d8"/>
<path d="M1397.7 1287.1L1411.5 1279.6L1425.3 1287.1L1425.3 1302.1L1411.5 1309.6L1397.7 1302.1Z" fill="#6a6a6a"/>
<path d="M1424.5 1287.1L1438.4 1279.6L1452.2 1287.1L1452.2 1302.1L1438.4 1309.6L1424.5 1302.1Z" fill="#404040"/>
<path d="M1451.5 1287.1L1465.3 1279.6L1479.1 1287.1L1479.1 1302.1L1465.3 1309.6L1451.5 1302.1Z" fill="#555555"/>
<path d="M1478.3 1287.1L1492.2 1279.6L1506.0 1287.1L1506.0 1302.1L1492.2 1309.6L1478.3 1302.1Z" fill="#c0c0c0"/>
<path d="M1505.2 1287.1L1519.1 1279.6L1532.9 1287.1L1532.9 1302.1L1519.1 1309.6L1505.2 1302.1Z" fill="#c0c0c0"/>
<path d="M1532.2 1287.1L1546.0 1279.6L1559.8 1287.1L1559.8 1302.1L1546.0 1309.6L1532.2 1302.1Z" fill="#ebebeb"/>
<path d="M1559.0 1287.1L1572.9 1279.6L1586.7 1287.1L1586.7 1302.1L1572.9 1309.6L1559.0 1302.1Z" fill="#f0f0f0"/>
<path d="M1586.0 1287.1L1599.8 1279.6L1613.6 1287.1L1613.6 1302.1L1599.8 1309.6L1586.0 1302.1Z" fill="#f3f3f3"/>
<path d="M1612.8 1287.1L1626.7 1279.6L1640.5 1287.1L1640.5 1302.1L1626.7 1309.6L1612.8 1302.1Z" fill="#f5f5f5"/>
<path d="M1249.7 1309.0L1263.5 1301.5L1277.4 1309.0L1277.4 1323.9L1263.5 1331.4L1249.7 1323.9Z" fill="#f3f3f3"/>
<path d="M1276.6 1309.0L1290.4 1301.5L1304.3 1309.0L1304.3 1323.9L1290.4 1331.4L1276.6 1323.9Z" fill="#f8f8f8"/>
<path d="M1303.5 1309.0L1317.3 1301.5L1331.2 1309.0L1331.2 1323.9L1317.3 1331.4L1303.5 1323.9Z" fill="#f3f3f3"/>
<path d="M1330.4 1309.0L1344.2 1301.5L1358.1 1309.0L1358.1 1323.9L1344.2 1331.4L1330.4 1323.9Z" fill="#e0e0e0"/>
<path d="M1357.3 1309.0L1371.1 1301.5L1385.0 1309.0L1385.0 1323.9L1371.1 1331.4L1357.3 1323.9Z" fill="#8a8a8a"/>
<path d="M1384.2 1309.0L1398.0 1301.5L1411.9 1309.0L1411.9 1323.9L1398.0 1331.4L1384.2 1323.9Z" fill="#5a5a5a"/>
<path d="M1411.1 1309.0L1424.9 1301.5L1438.8 1309.0L1438.8 1323.9L1424.9 1331.4L1411.1 1323.9Z" fill="#6a6a6a"/>
<path d="M1438.0 1309.0L1451.8 1301.5L1465.7 1309.0L1465.7 1323.9L1451.8 1331.4L1438.0 1323.9Z" fill="#8a8a8a"/>
<path d="M1464.9 1309.0L1478.8 1301.5L1492.6 1309.0L1492.6 1323.9L1478.8 1331.4L1464.9 1323.9Z" fill="#d0d0d0"/>
<path d="M1491.8 1309.0L1505.6 1301.5L1519.5 1309.0L1519.5 1323.9L1505.6 1331.4L1491.8 1323.9Z" fill="#ebebeb"/>
<path d="M1518.7 1309.0L1532.5 1301.5L1546.4 1309.0L1546.4 1323.9L1532.5 1331.4L1518.7 1323.9Z" fill="#f5f5f5"/>
<path d="M1545.6 1309.0L1559.4 1301.5L1573.3 1309.0L1573.3 1323.9L1559.4 1331.4L1545.6 1323.9Z" fill="#f8f8f8"/>
<path d="M1236.2 1330.8L1250.1 1323.3L1263.9 1330.8L1263.9 1345.8L1250.1 1353.3L1236.2 1345.8Z" fill="#f8f8f8"/>
<path d="M1263.2 1330.8L1277.0 1323.3L1290.8 1330.8L1290.8 1345.8L1277.0 1353.3L1263.2 1345.8Z" fill="#f5f5f5"/>
<path d="M1290.0 1330.8L1303.9 1323.3L1317.7 1330.8L1317.7 1345.8L1303.9 1353.3L1290.0 1345.8Z" fill="#ebebeb"/>
<path d="M1317.0 1330.8L1330.8 1323.3L1344.6 1330.8L1344.6 1345.8L1330.8 1353.3L1317.0 1345.8Z" fill="#e0e0e0"/>
<path d="M1343.8 1330.8L1357.7 1323.3L1371.5 1330.8L1371.5 1345.8L1357.7 1353.3L1343.8 1345.8Z" fill="#bcbcbc"/>
<path d="M1370.8 1330.8L1384.6 1323.3L1398.4 1330.8L1398.4 1345.8L1384.6 1353.3L1370.8 1345.8Z" fill="#2a2a2a"/>
<path d="M1397.7 1330.8L1411.5 1323.3L1425.3 1330.8L1425.3 1345.8L1411.5 1353.3L1397.7 1345.8Z" fill="#6e6e6e"/>
<path d="M1424.5 1330.8L1438.4 1323.3L1452.2 1330.8L1452.2 1345.8L1438.4 1353.3L1424.5 1345.8Z" fill="#d8d8d8"/>
<path d="M1451.5 1330.8L1465.3 1323.3L1479.1 1330.8L1479.1 1345.8L1465.3 1353.3L1451.5 1345.8Z" fill="#ebebeb"/>
<path d="M1478.3 1330.8L1492.2 1323.3L1506.0 1330.8L1506.0 1345.8L1492.2 1353.3L1478.3 1345.8Z" fill="#f3f3f3"/>
<path d="M1249.7 1352.7L1263.5 1345.2L1277.4 1352.7L1277.4 1367.6L1263.5 1375.1L1249.7 1367.6Z" fill="#f8f8f8"/>
<path d="M1276.6 1352.7L1290.4 1345.2L1304.3 1352.7L1304.3 1367.6L1290.4 1375.1L1276.6 1367.6Z" fill="#f5f5f5"/>
<path d="M1303.5 1352.7L1317.3 1345.2L1331.2 1352.7L1331.2 1367.6L1317.3 1375.1L1303.5 1367.6Z" fill="#ebebeb"/>
<path d="M1330.4 1352.7L1344.2 1345.2L1358.1 1352.7L1358.1 1367.6L1344.2 1375.1L1330.4 1367.6Z" fill="#b8b8b8"/>
<path d="M1357.3 1352.7L1371.1 1345.2L1385.0 1352.7L1385.0 1367.6L1371.1 1375.1L1357.3 1367.6Z" fill="#c8c8c8"/>
<path d="M1384.2 1352.7L1398.0 1345.2L1411.9 1352.7L1411.9 1367.6L1398.0 1375.1L1384.2 1367.6Z" fill="#d0d0d0"/>
<path d="M1411.1 1352.7L1424.9 1345.2L1438.8 1352.7L1438.8 1367.6L1424.9 1375.1L1411.1 1367.6Z" fill="#e5e5e5"/>
<path d="M1438.0 1352.7L1451.8 1345.2L1465.7 1352.7L1465.7 1367.6L1451.8 1375.1L1438.0 1367.6Z" fill="#f5f5f5"/>
<path d="M1787.7 1352.7L1801.5 1345.2L1815.4 1352.7L1815.4 1367.6L1801.5 1375.1L1787.7 1367.6Z" fill="#f8f8f8"/>
<path d="M1263.2 1374.5L1277.0 1367.0L1290.8 1374.5L1290.8 1389.5L1277.0 1397.0L1263.2 1389.5Z" fill="#f8f8f8"/>
<path d="M1343.8 1374.5L1357.7 1367.0L1371.5 1374.5L1371.5 1389.5L1357.7 1397.0L1343.8 1389.5Z" fill="#c8c8c8"/>
<path d="M1370.8 1374.5L1384.6 1367.0L1398.4 1374.5L1398.4 1389.5L1384.6 1397.0L1370.8 1389.5Z" fill="#ebebeb"/>
<path d="M1397.7 1374.5L1411.5 1367.0L1425.3 1374.5L1425.3 1389.5L1411.5 1397.0L1397.7 1389.5Z" fill="#f0f0f0"/>
<path d="M1424.5 1374.5L1438.4 1367.0L1452.2 1374.5L1452.2 1389.5L1438.4 1397.0L1424.5 1389.5Z" fill="#f3f3f3"/>
<path d="M1249.7 1396.4L1263.5 1388.9L1277.4 1396.4L1277.4 1411.3L1263.5 1418.8L1249.7 1411.3Z" fill="#f5f5f5"/>
<path d="M1276.6 1396.4L1290.4 1388.9L1304.3 1396.4L1304.3 1411.3L1290.4 1418.8L1276.6 1411.3Z" fill="#f5f5f5"/>
<path d="M1303.5 1396.4L1317.3 1388.9L1331.2 1396.4L1331.2 1411.3L1317.3 1418.8L1303.5 1411.3Z" fill="#f8f8f8"/>
<path d="M1330.4 1396.4L1344.2 1388.9L1358.1 1396.4L1358.1 1411.3L1344.2 1418.8L1330.4 1411.3Z" fill="#f5f5f5"/>
<path d="M1411.1 1396.4L1424.9 1388.9L1438.8 1396.4L1438.8 1411.3L1424.9 1418.8L1411.1 1411.3Z" fill="#f0f0f0"/>
<path d="M1290.0 1418.2L1303.9 1410.7L1317.7 1418.2L1317.7 1433.2L1303.9 1440.7L1290.0 1433.2Z" fill="#f5f5f5"/>
<path d="M1317.0 1418.2L1330.8 1410.7L1344.6 1418.2L1344.6 1433.2L1330.8 1440.7L1317.0 1433.2Z" fill="#f3f3f3"/>
<path d="M1343.8 1418.2L1357.7 1410.7L1371.5 1418.2L1371.5 1433.2L1357.7 1440.7L1343.8 1433.2Z" fill="#f5f5f5"/>
<path d="M1397.7 1418.2L1411.5 1410.7L1425.3 1418.2L1425.3 1433.2L1411.5 1440.7L1397.7 1433.2Z" fill="#f8f8f8"/>
</g>
<line x1="1231.1" y1="1458.4" x2="2026.1" y2="813.1" stroke="#000" stroke-opacity="0.45" stroke-width="4.6"/>
<rect x="1231.10" y="813.10" width="795.00" height="645.30" fill="none" stroke="#1a1a1a" stroke-width="2.6"/>
<line x1="1220.60" y1="1458.40" x2="1231.10" y2="1458.40" stroke="#1a1a1a" stroke-width="2.6" />
<text x="1209.66" y="1468.03" font-size="28.00" text-anchor="end" textLength="58.63" lengthAdjust="spacingAndGlyphs" fill="#1a1a1a">−2.0</text>
<line x1="1220.60" y1="1377.74" x2="1231.10" y2="1377.74" stroke="#1a1a1a" stroke-width="2.6" />
<text x="1209.75" y="1387.37" font-size="28.00" text-anchor="end" textLength="58.63" lengthAdjust="spacingAndGlyphs" fill="#1a1a1a">−1.5</text>
<line x1="1220.60" y1="1297.08" x2="1231.10" y2="1297.08" stroke="#1a1a1a" stroke-width="2.6" />
<text x="1209.66" y="1306.71" font-size="28.00" text-anchor="end" textLength="58.63" lengthAdjust="spacingAndGlyphs" fill="#1a1a1a">−1.0</text>
<line x1="1220.60" y1="1216.41" x2="1231.10" y2="1216.41" stroke="#1a1a1a" stroke-width="2.6" />
<text x="1209.75" y="1226.04" font-size="28.00" text-anchor="end" textLength="58.63" lengthAdjust="spacingAndGlyphs" fill="#1a1a1a">−0.5</text>
<line x1="1220.60" y1="1135.75" x2="1231.10" y2="1135.75" stroke="#1a1a1a" stroke-width="2.6" />
<text x="1209.66" y="1145.38" font-size="28.00" text-anchor="end" textLength="41.29" lengthAdjust="spacingAndGlyphs" fill="#1a1a1a">0.0</text>
<line x1="1220.60" y1="1055.09" x2="1231.10" y2="1055.09" stroke="#1a1a1a" stroke-width="2.6" />
<text x="1209.75" y="1064.72" font-size="28.00" text-anchor="end" textLength="41.29" lengthAdjust="spacingAndGlyphs" fill="#1a1a1a">0.5</text>
<line x1="1220.60" y1="974.43" x2="1231.10" y2="974.43" stroke="#1a1a1a" stroke-width="2.6" />
<text x="1209.66" y="984.06" font-size="28.00" text-anchor="end" textLength="41.29" lengthAdjust="spacingAndGlyphs" fill="#1a1a1a">1.0</text>
<line x1="1220.60" y1="893.76" x2="1231.10" y2="893.76" stroke="#1a1a1a" stroke-width="2.6" />
<text x="1209.75" y="903.39" font-size="28.00" text-anchor="end" textLength="41.29" lengthAdjust="spacingAndGlyphs" fill="#1a1a1a">1.5</text>
<line x1="1220.60" y1="813.10" x2="1231.10" y2="813.10" stroke="#1a1a1a" stroke-width="2.6" />
<text x="1209.66" y="822.73" font-size="28.00" text-anchor="end" textLength="41.29" lengthAdjust="spacingAndGlyphs" fill="#1a1a1a">2.0</text>
<line x1="1231.10" y1="1458.40" x2="1231.10" y2="1468.60" stroke="#1a1a1a" stroke-width="2.6" />
<text x="1201.64" y="1498.94" font-size="28.00" text-anchor="start" textLength="58.63" lengthAdjust="spacingAndGlyphs" fill="#1a1a1a">−2.0</text>
<line x1="1330.47" y1="1458.40" x2="1330.47" y2="1468.60" stroke="#1a1a1a" stroke-width="2.6" />
<text x="1301.06" y="1498.94" font-size="28.00" text-anchor="start" textLength="58.63" lengthAdjust="spacingAndGlyphs" fill="#1a1a1a">−1.5</text>
<line x1="1429.85" y1="1458.40" x2="1429.85" y2="1468.60" stroke="#1a1a1a" stroke-width="2.6" />
<text x="1400.39" y="1498.94" font-size="28.00" text-anchor="start" textLength="58.63" lengthAdjust="spacingAndGlyphs" fill="#1a1a1a">−1.0</text>
<line x1="1529.22" y1="1458.40" x2="1529.22" y2="1468.60" stroke="#1a1a1a" stroke-width="2.6" />
<text x="1499.81" y="1498.94" font-size="28.00" text-anchor="start" textLength="58.63" lengthAdjust="spacingAndGlyphs" fill="#1a1a1a">−0.5</text>
<line x1="1628.60" y1="1458.40" x2="1628.60" y2="1468.60" stroke="#1a1a1a" stroke-width="2.6" />
<text x="1607.96" y="1498.94" font-size="28.00" text-anchor="start" textLength="41.29" lengthAdjust="spacingAndGlyphs" fill="#1a1a1a">0.0</text>
<line x1="1727.97" y1="1458.40" x2="1727.97" y2="1468.60" stroke="#1a1a1a" stroke-width="2.6" />
<text x="1707.38" y="1498.94" font-size="28.00" text-anchor="start" textLength="41.29" lengthAdjust="spacingAndGlyphs" fill="#1a1a1a">0.5</text>
<line x1="1827.35" y1="1458.40" x2="1827.35" y2="1468.60" stroke="#1a1a1a" stroke-width="2.6" />
<text x="1806.16" y="1498.94" font-size="28.00" text-anchor="start" textLength="41.29" lengthAdjust="spacingAndGlyphs" fill="#1a1a1a">1.0</text>
<line x1="1926.72" y1="1458.40" x2="1926.72" y2="1468.60" stroke="#1a1a1a" stroke-width="2.6" />
<text x="1905.58" y="1498.94" font-size="28.00" text-anchor="start" textLength="41.29" lengthAdjust="spacingAndGlyphs" fill="#1a1a1a">1.5</text>
<line x1="2026.10" y1="1458.40" x2="2026.10" y2="1468.60" stroke="#1a1a1a" stroke-width="2.6" />
<text x="2005.30" y="1498.94" font-size="28.00" text-anchor="start" textLength="41.29" lengthAdjust="spacingAndGlyphs" fill="#1a1a1a">2.0</text>
<defs><linearGradient id="gD" x1="0" y1="1" x2="0" y2="0"><stop offset="0.000" stop-color="#ffffff"/><stop offset="0.050" stop-color="#f9f9f9"/><stop offset="0.100" stop-color="#f3f3f3"/><stop offset="0.150" stop-color="#ececec"/><stop offset="0.200" stop-color="#e2e2e2"/><stop offset="0.250" stop-color="#d9d9d9"/><stop offset="0.300" stop-color="#cecece"/><stop offset="0.350" stop-color="#c3c3c3"/><stop offset="0.400" stop-color="#b5b5b5"/><stop offset="0.450" stop-color="#a5a5a5"/><stop offset="0.500" stop-color="#959595"/><stop offset="0.550" stop-color="#888888"/><stop offset="0.600" stop-color="#7a7a7a"/><stop offset="0.650" stop-color="#6c6c6c"/><stop offset="0.700" stop-color="#5f5f5f"/><stop offset="0.750" stop-color="#515151"/><stop offset="0.800" stop-color="#404040"/><stop offset="0.850" stop-color="#2e2e2e"/><stop offset="0.900" stop-color="#1d1d1d"/><stop offset="0.950" stop-color="#0e0e0e"/><stop offset="1.000" stop-color="#000000"/></linearGradient></defs>
<rect x="2076.40" y="813.10" width="31.70" height="645.30" fill="url(#gD)" stroke="#1a1a1a" stroke-width="2.6"/>
<line x1="2108.10" y1="1458.40" x2="2117.60" y2="1458.40" stroke="#1a1a1a" stroke-width="2.6" />
<text x="2128.54" y="1468.03" font-size="28.00" text-anchor="start" textLength="16.52" lengthAdjust="spacingAndGlyphs" fill="#1a1a1a">0</text>
<line x1="2108.10" y1="1355.97" x2="2117.60" y2="1355.97" stroke="#1a1a1a" stroke-width="2.6" />
<text x="2127.44" y="1365.60" font-size="28.00" text-anchor="start" textLength="33.04" lengthAdjust="spacingAndGlyphs" fill="#1a1a1a">10</text>
<line x1="2108.10" y1="1253.54" x2="2117.60" y2="1253.54" stroke="#1a1a1a" stroke-width="2.6" />
<text x="2128.21" y="1263.17" font-size="28.00" text-anchor="start" textLength="33.04" lengthAdjust="spacingAndGlyphs" fill="#1a1a1a">20</text>
<line x1="2108.10" y1="1151.11" x2="2117.60" y2="1151.11" stroke="#1a1a1a" stroke-width="2.6" />
<text x="2128.57" y="1160.75" font-size="28.00" text-anchor="start" textLength="33.04" lengthAdjust="spacingAndGlyphs" fill="#1a1a1a">30</text>
<line x1="2108.10" y1="1048.69" x2="2117.60" y2="1048.69" stroke="#1a1a1a" stroke-width="2.6" />
<text x="2129.02" y="1058.32" font-size="28.00" text-anchor="start" textLength="33.04" lengthAdjust="spacingAndGlyphs" fill="#1a1a1a">40</text>
<line x1="2108.10" y1="946.26" x2="2117.60" y2="946.26" stroke="#1a1a1a" stroke-width="2.6" />
<text x="2128.51" y="955.89" font-size="28.00" text-anchor="start" textLength="33.04" lengthAdjust="spacingAndGlyphs" fill="#1a1a1a">50</text>
<line x1="2108.10" y1="843.83" x2="2117.60" y2="843.83" stroke="#1a1a1a" stroke-width="2.6" />
<text x="2128.19" y="853.46" font-size="28.00" text-anchor="start" textLength="33.04" lengthAdjust="spacingAndGlyphs" fill="#1a1a1a">60</text>
<text x="1233.10" y="784.40" font-size="34.20" text-anchor="start" textLength="792.53" lengthAdjust="spacingAndGlyphs" fill="#1a1a1a">different +2 precursors from same protein (r=0.88)</text>
<text x="1567.14" y="1538.90" font-size="28.60" text-anchor="start" textLength="119.47" lengthAdjust="spacingAndGlyphs" fill="#1a1a1a">peptide 1</text>
<text x="1133.50" y="1197.31" font-size="28.60" text-anchor="start" textLength="123.10" lengthAdjust="spacingAndGlyphs" transform="rotate(-90 1133.50 1197.31)" fill="#1a1a1a">peptide 2</text>
<text x="1093.23" y="777.00" font-size="49.00" text-anchor="start" font-weight="bold" textLength="40.64" lengthAdjust="spacingAndGlyphs" fill="#1a1a1a">D</text>
<rect x="188.10" y="1629.70" width="16.20" height="529.90" fill="#f0821e" />
<rect x="249.85" y="2113.60" width="16.10" height="46.00" fill="#2277b4" />
<rect x="269.95" y="1654.30" width="16.20" height="505.30" fill="#f0821e" />
<rect x="331.70" y="2026.30" width="16.10" height="133.30" fill="#2277b4" />
<rect x="351.80" y="1663.30" width="16.20" height="496.30" fill="#f0821e" />
<rect x="413.55" y="1954.30" width="16.10" height="205.30" fill="#2277b4" />
<rect x="433.65" y="1672.00" width="16.20" height="487.60" fill="#f0821e" />
<rect x="495.40" y="1881.10" width="16.10" height="278.50" fill="#2277b4" />
<rect x="515.50" y="1717.90" width="16.20" height="441.70" fill="#f0821e" />
<rect x="577.25" y="1824.90" width="16.10" height="334.70" fill="#2277b4" />
<rect x="597.35" y="1759.40" width="16.20" height="400.20" fill="#f0821e" />
<rect x="659.10" y="1826.20" width="16.10" height="333.40" fill="#2277b4" />
<rect x="679.20" y="1873.70" width="16.20" height="285.90" fill="#f0821e" />
<rect x="453.6" y="1614.3" width="253.1" height="115.9" rx="5" fill="#fff" fill-opacity="0.8" stroke="#cccccc" stroke-width="2"/>
<text x="462.34" y="1642.20" font-size="26.00" text-anchor="start" textLength="234.30" lengthAdjust="spacingAndGlyphs" fill="#1a1a1a">precursor label state</text>
<rect x="511.40" y="1663.00" width="47.50" height="13.40" fill="#2277b4" />
<rect x="511.40" y="1699.60" width="47.50" height="13.40" fill="#f0821e" />
<text x="580.65" y="1678.60" font-size="26.00" text-anchor="start" fill="#1a1a1a">light</text>
<text x="580.64" y="1715.00" font-size="26.00" text-anchor="start" textLength="68.23" lengthAdjust="spacingAndGlyphs" fill="#1a1a1a">heavy</text>
<rect x="145.60" y="1600.80" width="573.60" height="558.80" fill="none" stroke="#1a1a1a" stroke-width="2.6"/>
<line x1="136.10" y1="2159.60" x2="145.60" y2="2159.60" stroke="#1a1a1a" stroke-width="2.6" />
<text x="127.11" y="2168.48" font-size="25.80" text-anchor="end" fill="#1a1a1a">0</text>
<line x1="136.10" y1="2072.30" x2="145.60" y2="2072.30" stroke="#1a1a1a" stroke-width="2.6" />
<text x="127.12" y="2081.18" font-size="25.80" text-anchor="end" fill="#1a1a1a">2000</text>
<line x1="136.10" y1="1985.00" x2="145.60" y2="1985.00" stroke="#1a1a1a" stroke-width="2.6" />
<text x="127.12" y="1993.88" font-size="25.80" text-anchor="end" fill="#1a1a1a">4000</text>
<line x1="136.10" y1="1897.70" x2="145.60" y2="1897.70" stroke="#1a1a1a" stroke-width="2.6" />
<text x="127.12" y="1906.58" font-size="25.80" text-anchor="end" fill="#1a1a1a">6000</text>
<line x1="136.10" y1="1810.40" x2="145.60" y2="1810.40" stroke="#1a1a1a" stroke-width="2.6" />
<text x="127.12" y="1819.28" font-size="25.80" text-anchor="end" fill="#1a1a1a">8000</text>
<line x1="136.10" y1="1723.10" x2="145.60" y2="1723.10" stroke="#1a1a1a" stroke-width="2.6" />
<text x="127.10" y="1731.98" font-size="25.80" text-anchor="end" fill="#1a1a1a">10000</text>
<line x1="136.10" y1="1635.80" x2="145.60" y2="1635.80" stroke="#1a1a1a" stroke-width="2.6" />
<text x="127.10" y="1644.68" font-size="25.80" text-anchor="end" fill="#1a1a1a">12000</text>
<line x1="186.10" y1="2159.60" x2="186.10" y2="2168.60" stroke="#1a1a1a" stroke-width="2.6" />
<text x="168.17" y="2196.21" font-size="25.80" text-anchor="start" fill="#1a1a1a">0.0</text>
<line x1="267.95" y1="2159.60" x2="267.95" y2="2168.60" stroke="#1a1a1a" stroke-width="2.6" />
<text x="250.15" y="2196.21" font-size="25.80" text-anchor="start" fill="#1a1a1a">0.1</text>
<line x1="349.80" y1="2159.60" x2="349.80" y2="2168.60" stroke="#1a1a1a" stroke-width="2.6" />
<text x="331.93" y="2196.21" font-size="25.80" text-anchor="start" fill="#1a1a1a">0.3</text>
<line x1="431.65" y1="2159.60" x2="431.65" y2="2168.60" stroke="#1a1a1a" stroke-width="2.6" />
<text x="413.76" y="2196.21" font-size="25.80" text-anchor="start" fill="#1a1a1a">0.5</text>
<line x1="513.50" y1="2159.60" x2="513.50" y2="2168.60" stroke="#1a1a1a" stroke-width="2.6" />
<text x="495.71" y="2196.21" font-size="25.80" text-anchor="start" fill="#1a1a1a">0.7</text>
<line x1="595.35" y1="2159.60" x2="595.35" y2="2168.60" stroke="#1a1a1a" stroke-width="2.6" />
<text x="577.52" y="2196.21" font-size="25.80" text-anchor="start" fill="#1a1a1a">0.9</text>
<line x1="677.20" y1="2159.60" x2="677.20" y2="2168.60" stroke="#1a1a1a" stroke-width="2.6" />
<text x="658.79" y="2196.21" font-size="25.80" text-anchor="start" fill="#1a1a1a">1.0</text>
<text x="255.12" y="2229.50" font-size="25.70" text-anchor="start" fill="#1a1a1a">dilution factor into heavy matrix</text>
<text x="41.00" y="1964.22" font-size="25.90" text-anchor="start" transform="rotate(-90 41.00 1964.22)" fill="#1a1a1a">Number of IDs</text>
<text x="4.95" y="1600.70" font-size="49.00" text-anchor="start" font-weight="bold" textLength="36.38" lengthAdjust="spacingAndGlyphs" fill="#1a1a1a">E</text>
<line x1="875.40" y1="2136.20" x2="1397.40" y2="1710.70" stroke="#333" stroke-width="1.4" />
<path d="M927.2 2088.5 L1031.7 2022.7 L1136.1 1936.3 L1240.1 1837.9 L1345.0 1722.2 L1397.2 1710.9" fill="none" stroke="#2277b4" stroke-width="5" stroke-linejoin="round" stroke-linecap="round"/>
<line x1="927.20" y1="2047.90" x2="927.20" y2="2129.80" stroke="#2277b4" stroke-width="4.4" />
<line x1="1031.70" y1="1961.90" x2="1031.70" y2="2085.50" stroke="#2277b4" stroke-width="4.4" />
<line x1="1136.10" y1="1844.30" x2="1136.10" y2="2031.00" stroke="#2277b4" stroke-width="4.4" />
<line x1="1240.10" y1="1747.40" x2="1240.10" y2="1929.90" stroke="#2277b4" stroke-width="4.4" />
<line x1="1345.00" y1="1627.50" x2="1345.00" y2="1815.40" stroke="#2277b4" stroke-width="4.4" />
<rect x="849.30" y="1601.90" width="574.50" height="558.80" fill="none" stroke="#1a1a1a" stroke-width="2.6"/>
<line x1="840.40" y1="2136.20" x2="849.30" y2="2136.20" stroke="#1a1a1a" stroke-width="2.6" />
<text x="831.11" y="2145.08" font-size="25.80" text-anchor="end" fill="#1a1a1a">0.0</text>
<line x1="840.40" y1="2051.10" x2="849.30" y2="2051.10" stroke="#1a1a1a" stroke-width="2.6" />
<text x="831.39" y="2059.98" font-size="25.80" text-anchor="end" fill="#1a1a1a">0.2</text>
<line x1="840.40" y1="1966.00" x2="849.30" y2="1966.00" stroke="#1a1a1a" stroke-width="2.6" />
<text x="830.85" y="1974.88" font-size="25.80" text-anchor="end" fill="#1a1a1a">0.4</text>
<line x1="840.40" y1="1880.90" x2="849.30" y2="1880.90" stroke="#1a1a1a" stroke-width="2.6" />
<text x="831.24" y="1889.78" font-size="25.80" text-anchor="end" fill="#1a1a1a">0.6</text>
<line x1="840.40" y1="1795.80" x2="849.30" y2="1795.80" stroke="#1a1a1a" stroke-width="2.6" />
<text x="831.21" y="1804.68" font-size="25.80" text-anchor="end" fill="#1a1a1a">0.8</text>
<line x1="840.40" y1="1710.70" x2="849.30" y2="1710.70" stroke="#1a1a1a" stroke-width="2.6" />
<text x="831.11" y="1719.58" font-size="25.80" text-anchor="end" fill="#1a1a1a">1.0</text>
<line x1="840.40" y1="1625.60" x2="849.30" y2="1625.60" stroke="#1a1a1a" stroke-width="2.6" />
<text x="831.39" y="1634.48" font-size="25.80" text-anchor="end" fill="#1a1a1a">1.2</text>
<line x1="875.40" y1="2160.70" x2="875.40" y2="2170.00" stroke="#1a1a1a" stroke-width="2.6" />
<text x="857.47" y="2197.61" font-size="25.80" text-anchor="start" fill="#1a1a1a">0.0</text>
<line x1="979.80" y1="2160.70" x2="979.80" y2="2170.00" stroke="#1a1a1a" stroke-width="2.6" />
<text x="962.01" y="2197.61" font-size="25.80" text-anchor="start" fill="#1a1a1a">0.2</text>
<line x1="1084.20" y1="2160.70" x2="1084.20" y2="2170.00" stroke="#1a1a1a" stroke-width="2.6" />
<text x="1066.14" y="2197.61" font-size="25.80" text-anchor="start" fill="#1a1a1a">0.4</text>
<line x1="1188.60" y1="2160.70" x2="1188.60" y2="2170.00" stroke="#1a1a1a" stroke-width="2.6" />
<text x="1170.73" y="2197.61" font-size="25.80" text-anchor="start" fill="#1a1a1a">0.6</text>
<line x1="1293.00" y1="2160.70" x2="1293.00" y2="2170.00" stroke="#1a1a1a" stroke-width="2.6" />
<text x="1275.12" y="2197.61" font-size="25.80" text-anchor="start" fill="#1a1a1a">0.8</text>
<line x1="1397.40" y1="2160.70" x2="1397.40" y2="2170.00" stroke="#1a1a1a" stroke-width="2.6" />
<text x="1378.99" y="2197.61" font-size="25.80" text-anchor="start" fill="#1a1a1a">1.0</text>
<text x="959.32" y="2231.20" font-size="25.70" text-anchor="start" fill="#1a1a1a">dilution factor into heavy matrix</text>
<text x="779.80" y="2090.20" font-size="25.80" text-anchor="start" transform="rotate(-90 779.80 2090.20)" fill="#1a1a1a">relative abundance of light precursor</text>
<text x="752.17" y="1600.10" font-size="49.00" text-anchor="start" font-weight="bold" textLength="30.36" lengthAdjust="spacingAndGlyphs" fill="#1a1a1a">F</text>
<ellipse cx="1694.0" cy="1711.0" rx="31.2" ry="11.1" transform="rotate(-17.0 1694.0 1711.0)" fill="#2677b5" filter="url(#blur1)"/>
<path d="M1668.9 1723.9h2v2h-2zM1672.0 1718.1h2v2h-2zM1710.3 1703.3h2v2h-2zM1695.6 1712.4h2v2h-2zM1678.1 1715.5h2v2h-2zM1671.1 1717.6h2v2h-2zM1730.1 1704.5h2v2h-2zM1702.2 1715.5h2v2h-2zM1703.6 1715.0h2v2h-2zM1675.5 1717.7h2v2h-2zM1701.3 1704.6h2v2h-2zM1702.4 1719.6h2v2h-2zM1736.9 1702.6h2v2h-2zM1670.4 1728.8h2v2h-2zM1727.5 1715.3h2v2h-2zM1654.6 1744.3h2v2h-2zM1679.5 1727.3h2v2h-2zM1708.4 1690.1h2v2h-2zM1689.4 1710.5h2v2h-2zM1701.4 1703.8h2v2h-2zM1685.1 1713.5h2v2h-2zM1706.5 1714.0h2v2h-2zM1723.8 1710.3h2v2h-2zM1665.9 1717.1h2v2h-2zM1699.8 1702.7h2v2h-2zM1704.7 1698.6h2v2h-2zM1723.1 1696.3h2v2h-2zM1681.0 1712.0h2v2h-2zM1694.0 1707.1h2v2h-2zM1735.7 1686.4h2v2h-2zM1720.2 1697.6h2v2h-2zM1671.9 1714.9h2v2h-2zM1687.7 1713.3h2v2h-2zM1691.2 1714.7h2v2h-2zM1757.0 1704.1h2v2h-2zM1680.7 1726.0h2v2h-2zM1705.2 1728.4h2v2h-2zM1725.0 1698.5h2v2h-2zM1727.8 1701.8h2v2h-2zM1665.6 1703.9h2v2h-2zM1677.4 1713.7h2v2h-2zM1745.7 1690.5h2v2h-2zM1706.3 1717.1h2v2h-2zM1689.9 1707.8h2v2h-2zM1687.4 1704.6h2v2h-2zM1717.5 1707.3h2v2h-2zM1708.3 1705.0h2v2h-2zM1717.6 1705.4h2v2h-2zM1752.8 1694.2h2v2h-2zM1707.4 1702.7h2v2h-2zM1712.5 1705.1h2v2h-2zM1690.0 1710.1h2v2h-2zM1701.9 1704.3h2v2h-2zM1716.2 1717.2h2v2h-2zM1680.5 1739.3h2v2h-2zM1730.6 1705.3h2v2h-2zM1699.8 1715.7h2v2h-2zM1685.8 1721.1h2v2h-2zM1688.8 1719.5h2v2h-2zM1677.1 1718.1h2v2h-2zM1679.3 1705.8h2v2h-2zM1681.6 1707.7h2v2h-2zM1702.0 1705.0h2v2h-2zM1665.5 1724.7h2v2h-2zM1665.0 1722.8h2v2h-2zM1663.0 1712.4h2v2h-2zM1736.1 1684.0h2v2h-2zM1722.3 1710.8h2v2h-2zM1679.8 1716.5h2v2h-2zM1670.1 1717.7h2v2h-2zM1736.0 1697.6h2v2h-2zM1691.2 1716.5h2v2h-2zM1689.9 1716.3h2v2h-2zM1680.6 1713.8h2v2h-2zM1666.0 1708.5h2v2h-2zM1662.8 1718.1h2v2h-2zM1701.9 1724.0h2v2h-2zM1689.9 1702.2h2v2h-2zM1687.6 1706.0h2v2h-2zM1696.8 1714.0h2v2h-2zM1725.7 1711.9h2v2h-2zM1693.7 1716.0h2v2h-2zM1702.1 1709.3h2v2h-2zM1697.5 1719.2h2v2h-2zM1732.3 1695.4h2v2h-2zM1703.1 1711.4h2v2h-2zM1703.1 1704.5h2v2h-2zM1665.6 1721.8h2v2h-2zM1719.6 1700.4h2v2h-2zM1713.6 1710.6h2v2h-2zM1719.7 1714.7h2v2h-2zM1683.4 1704.4h2v2h-2zM1678.2 1715.3h2v2h-2zM1695.4 1709.9h2v2h-2zM1674.5 1707.6h2v2h-2zM1685.8 1710.0h2v2h-2zM1678.5 1716.7h2v2h-2zM1635.8 1721.6h2v2h-2zM1715.5 1697.1h2v2h-2zM1684.9 1725.5h2v2h-2zM1715.6 1693.7h2v2h-2zM1735.4 1699.9h2v2h-2zM1687.7 1721.7h2v2h-2zM1656.8 1727.7h2v2h-2zM1695.7 1708.7h2v2h-2zM1681.4 1711.2h2v2h-2zM1737.8 1694.3h2v2h-2zM1667.0 1710.5h2v2h-2zM1708.0 1693.6h2v2h-2zM1650.9 1724.3h2v2h-2zM1689.3 1710.1h2v2h-2zM1744.3 1706.0h2v2h-2zM1710.9 1699.6h2v2h-2zM1697.2 1719.8h2v2h-2zM1721.2 1705.0h2v2h-2zM1668.9 1725.3h2v2h-2zM1662.3 1705.6h2v2h-2zM1669.1 1714.3h2v2h-2zM1684.9 1712.2h2v2h-2zM1714.1 1706.1h2v2h-2zM1681.8 1712.9h2v2h-2zM1699.5 1714.3h2v2h-2zM1675.6 1718.2h2v2h-2zM1695.9 1726.7h2v2h-2zM1679.2 1723.8h2v2h-2zM1739.3 1698.0h2v2h-2zM1669.4 1720.3h2v2h-2zM1728.4 1702.1h2v2h-2zM1685.9 1710.2h2v2h-2zM1733.5 1693.7h2v2h-2zM1700.3 1702.2h2v2h-2zM1695.1 1703.0h2v2h-2zM1721.5 1691.4h2v2h-2zM1751.6 1688.7h2v2h-2zM1706.5 1695.9h2v2h-2zM1653.2 1711.5h2v2h-2zM1698.4 1716.7h2v2h-2zM1711.5 1709.1h2v2h-2zM1721.9 1691.2h2v2h-2zM1667.6 1727.6h2v2h-2zM1689.1 1723.7h2v2h-2zM1695.1 1714.8h2v2h-2zM1672.8 1714.9h2v2h-2zM1704.9 1693.1h2v2h-2zM1653.7 1700.7h2v2h-2zM1699.4 1714.8h2v2h-2zM1695.1 1702.6h2v2h-2zM1710.5 1701.4h2v2h-2zM1732.2 1710.0h2v2h-2zM1705.4 1705.5h2v2h-2zM1754.0 1686.2h2v2h-2zM1683.8 1718.2h2v2h-2zM1689.9 1719.3h2v2h-2zM1683.5 1717.7h2v2h-2zM1717.8 1714.6h2v2h-2zM1704.8 1718.4h2v2h-2zM1717.0 1700.3h2v2h-2zM1660.3 1723.0h2v2h-2zM1710.5 1694.7h2v2h-2zM1675.8 1723.2h2v2h-2zM1713.7 1729.9h2v2h-2zM1719.7 1704.5h2v2h-2zM1710.1 1700.0h2v2h-2zM1708.5 1702.9h2v2h-2zM1719.1 1707.2h2v2h-2zM1725.9 1704.4h2v2h-2zM1725.4 1711.6h2v2h-2zM1675.5 1723.0h2v2h-2zM1672.8 1697.6h2v2h-2zM1742.9 1709.0h2v2h-2zM1705.0 1712.3h2v2h-2zM1697.9 1700.3h2v2h-2zM1672.6 1707.5h2v2h-2zM1666.8 1719.5h2v2h-2zM1647.6 1734.5h2v2h-2zM1666.3 1731.2h2v2h-2zM1742.5 1709.3h2v2h-2zM1660.1 1719.1h2v2h-2zM1654.0 1729.3h2v2h-2zM1684.2 1725.7h2v2h-2zM1731.3 1689.4h2v2h-2zM1683.6 1714.5h2v2h-2zM1641.6 1709.6h2v2h-2zM1719.3 1692.5h2v2h-2zM1681.0 1725.0h2v2h-2zM1647.8 1738.3h2v2h-2zM1724.2 1704.6h2v2h-2zM1707.8 1717.4h2v2h-2zM1670.9 1719.6h2v2h-2zM1711.0 1704.1h2v2h-2zM1694.5 1706.7h2v2h-2zM1681.6 1715.4h2v2h-2zM1734.7 1710.6h2v2h-2zM1688.1 1714.6h2v2h-2zM1692.0 1716.0h2v2h-2zM1692.9 1704.4h2v2h-2zM1676.8 1710.3h2v2h-2zM1719.6 1698.2h2v2h-2zM1671.4 1704.4h2v2h-2zM1713.7 1693.4h2v2h-2zM1675.7 1732.5h2v2h-2zM1725.1 1710.1h2v2h-2zM1717.1 1713.7h2v2h-2zM1697.4 1717.0h2v2h-2zM1704.0 1714.8h2v2h-2zM1669.9 1709.9h2v2h-2zM1678.2 1722.2h2v2h-2zM1680.7 1699.1h2v2h-2zM1677.3 1717.3h2v2h-2zM1686.7 1713.9h2v2h-2zM1730.4 1695.6h2v2h-2zM1700.1 1709.5h2v2h-2zM1698.4 1713.6h2v2h-2zM1733.1 1710.2h2v2h-2zM1727.1 1701.6h2v2h-2zM1685.5 1722.4h2v2h-2zM1656.9 1718.4h2v2h-2zM1659.7 1723.8h2v2h-2zM1707.7 1703.6h2v2h-2zM1694.1 1702.2h2v2h-2zM1725.9 1725.9h2v2h-2zM1695.8 1699.4h2v2h-2zM1700.4 1709.3h2v2h-2zM1671.5 1702.9h2v2h-2zM1705.8 1711.0h2v2h-2zM1687.1 1718.0h2v2h-2zM1688.0 1711.7h2v2h-2zM1667.9 1705.1h2v2h-2zM1703.7 1708.3h2v2h-2zM1704.3 1698.1h2v2h-2zM1705.2 1696.9h2v2h-2zM1683.3 1715.4h2v2h-2zM1716.7 1709.0h2v2h-2zM1711.0 1715.6h2v2h-2zM1672.8 1699.7h2v2h-2zM1735.0 1700.8h2v2h-2zM1710.5 1691.3h2v2h-2zM1663.2 1721.7h2v2h-2zM1684.5 1698.8h2v2h-2zM1686.5 1711.4h2v2h-2zM1711.2 1714.4h2v2h-2zM1725.1 1712.5h2v2h-2zM1682.7 1714.4h2v2h-2zM1671.9 1727.3h2v2h-2zM1696.3 1708.1h2v2h-2zM1713.2 1702.6h2v2h-2zM1689.7 1714.5h2v2h-2zM1673.9 1703.7h2v2h-2zM1683.9 1721.3h2v2h-2zM1682.9 1724.6h2v2h-2zM1723.7 1717.7h2v2h-2zM1699.0 1726.0h2v2h-2zM1729.1 1707.5h2v2h-2zM1639.0 1724.7h2v2h-2zM1723.7 1695.4h2v2h-2zM1661.4 1722.0h2v2h-2zM1730.3 1693.1h2v2h-2zM1721.3 1698.5h2v2h-2zM1697.8 1699.8h2v2h-2zM1679.1 1703.2h2v2h-2zM1672.1 1710.7h2v2h-2zM1685.6 1731.2h2v2h-2zM1660.7 1704.8h2v2h-2zM1685.1 1714.1h2v2h-2zM1682.8 1703.8h2v2h-2zM1687.4 1713.4h2v2h-2zM1718.8 1700.0h2v2h-2zM1716.5 1705.7h2v2h-2zM1692.5 1718.8h2v2h-2zM1718.4 1702.7h2v2h-2zM1686.1 1708.1h2v2h-2zM1693.4 1709.9h2v2h-2zM1686.5 1703.0h2v2h-2zM1718.8 1707.1h2v2h-2zM1671.7 1716.2h2v2h-2zM1680.1 1717.0h2v2h-2zM1693.5 1725.2h2v2h-2zM1659.6 1710.2h2v2h-2zM1680.6 1716.5h2v2h-2zM1680.0 1713.2h2v2h-2zM1700.3 1708.7h2v2h-2zM1681.9 1711.1h2v2h-2zM1727.8 1706.4h2v2h-2zM1685.0 1711.1h2v2h-2zM1671.5 1713.4h2v2h-2zM1690.4 1713.4h2v2h-2zM1666.1 1707.0h2v2h-2zM1675.7 1726.8h2v2h-2zM1691.6 1721.5h2v2h-2zM1701.0 1723.5h2v2h-2zM1732.3 1693.3h2v2h-2zM1728.4 1706.3h2v2h-2zM1725.1 1691.3h2v2h-2zM1703.3 1709.0h2v2h-2zM1692.5 1728.4h2v2h-2zM1652.4 1720.0h2v2h-2zM1682.0 1712.0h2v2h-2zM1719.5 1712.2h2v2h-2zM1722.6 1704.3h2v2h-2zM1658.0 1711.4h2v2h-2zM1660.5 1717.5h2v2h-2zM1665.5 1719.3h2v2h-2zM1723.5 1679.2h2v2h-2zM1647.4 1735.2h2v2h-2zM1660.9 1719.6h2v2h-2zM1698.4 1719.6h2v2h-2zM1702.1 1720.1h2v2h-2zM1697.7 1719.7h2v2h-2zM1737.6 1696.1h2v2h-2zM1712.8 1705.3h2v2h-2zM1661.8 1723.1h2v2h-2zM1709.7 1720.2h2v2h-2zM1691.1 1714.7h2v2h-2zM1677.2 1702.8h2v2h-2zM1687.4 1721.2h2v2h-2zM1685.3 1720.1h2v2h-2zM1676.0 1697.1h2v2h-2zM1672.1 1713.2h2v2h-2zM1729.6 1695.8h2v2h-2zM1708.7 1689.7h2v2h-2zM1701.2 1721.2h2v2h-2zM1678.1 1719.4h2v2h-2zM1661.3 1732.0h2v2h-2zM1704.4 1714.6h2v2h-2zM1683.3 1720.4h2v2h-2z" fill="#2c7bb9" fill-opacity="0.38"/>
<path d="M1701.5 1711.7h2v2h-2zM1717.1 1698.7h2v2h-2zM1721.4 1710.0h2v2h-2zM1737.5 1709.1h2v2h-2zM1692.2 1706.7h2v2h-2zM1658.5 1710.2h2v2h-2zM1679.5 1712.9h2v2h-2zM1694.4 1709.0h2v2h-2zM1700.7 1701.6h2v2h-2zM1691.9 1728.6h2v2h-2zM1679.8 1716.7h2v2h-2zM1697.1 1712.5h2v2h-2zM1680.4 1709.4h2v2h-2zM1674.0 1721.7h2v2h-2zM1674.0 1721.3h2v2h-2zM1696.9 1721.8h2v2h-2zM1723.0 1710.2h2v2h-2zM1684.2 1712.4h2v2h-2zM1680.1 1710.7h2v2h-2zM1666.6 1700.8h2v2h-2zM1650.7 1723.0h2v2h-2zM1655.6 1725.2h2v2h-2zM1657.4 1720.4h2v2h-2zM1692.5 1697.0h2v2h-2zM1723.1 1698.1h2v2h-2zM1692.8 1706.7h2v2h-2zM1697.3 1707.9h2v2h-2zM1677.3 1698.4h2v2h-2zM1686.5 1719.8h2v2h-2zM1660.4 1714.5h2v2h-2zM1698.6 1711.4h2v2h-2zM1658.9 1733.4h2v2h-2zM1697.6 1707.2h2v2h-2zM1696.7 1716.7h2v2h-2zM1720.1 1694.0h2v2h-2zM1703.5 1700.9h2v2h-2zM1719.2 1692.1h2v2h-2zM1691.4 1712.0h2v2h-2zM1692.3 1702.8h2v2h-2zM1700.6 1706.9h2v2h-2zM1708.6 1717.9h2v2h-2zM1667.0 1715.9h2v2h-2zM1722.3 1703.7h2v2h-2zM1672.6 1704.6h2v2h-2zM1712.1 1706.0h2v2h-2zM1693.1 1701.6h2v2h-2zM1684.4 1700.1h2v2h-2zM1726.8 1703.4h2v2h-2zM1664.9 1734.3h2v2h-2zM1703.5 1705.5h2v2h-2zM1701.1 1713.3h2v2h-2zM1674.7 1710.0h2v2h-2zM1689.0 1724.2h2v2h-2zM1698.2 1716.1h2v2h-2zM1743.2 1694.5h2v2h-2zM1678.2 1712.5h2v2h-2zM1689.6 1713.4h2v2h-2zM1666.6 1712.4h2v2h-2zM1702.9 1699.0h2v2h-2zM1661.5 1721.8h2v2h-2zM1669.4 1710.7h2v2h-2zM1701.9 1720.7h2v2h-2zM1698.4 1718.3h2v2h-2zM1687.4 1703.7h2v2h-2zM1654.0 1722.6h2v2h-2zM1739.3 1710.2h2v2h-2zM1661.9 1735.5h2v2h-2zM1676.1 1717.7h2v2h-2zM1697.5 1715.6h2v2h-2zM1674.6 1723.4h2v2h-2zM1723.1 1695.3h2v2h-2zM1742.5 1695.5h2v2h-2zM1687.9 1711.2h2v2h-2zM1673.5 1716.6h2v2h-2zM1663.5 1727.8h2v2h-2zM1718.7 1703.3h2v2h-2zM1677.7 1706.4h2v2h-2zM1680.3 1718.3h2v2h-2zM1703.3 1710.2h2v2h-2zM1704.1 1702.6h2v2h-2zM1694.3 1715.8h2v2h-2zM1698.0 1707.5h2v2h-2zM1701.9 1717.4h2v2h-2zM1674.4 1713.2h2v2h-2zM1704.3 1706.1h2v2h-2zM1655.0 1730.0h2v2h-2zM1704.7 1714.5h2v2h-2zM1696.4 1690.1h2v2h-2zM1718.7 1699.8h2v2h-2zM1697.3 1713.2h2v2h-2zM1649.0 1722.3h2v2h-2zM1730.6 1696.4h2v2h-2zM1671.0 1726.9h2v2h-2zM1686.5 1704.3h2v2h-2zM1669.4 1717.3h2v2h-2zM1711.8 1700.1h2v2h-2zM1728.2 1704.9h2v2h-2zM1676.2 1723.2h2v2h-2zM1679.4 1707.8h2v2h-2zM1719.6 1704.9h2v2h-2zM1713.4 1682.7h2v2h-2zM1682.8 1717.0h2v2h-2zM1694.2 1698.6h2v2h-2zM1685.0 1721.7h2v2h-2zM1700.6 1711.3h2v2h-2zM1694.1 1716.1h2v2h-2zM1683.7 1703.3h2v2h-2zM1677.3 1730.7h2v2h-2zM1690.6 1729.7h2v2h-2zM1692.5 1718.2h2v2h-2zM1662.6 1720.3h2v2h-2zM1690.7 1712.2h2v2h-2zM1717.9 1712.9h2v2h-2zM1760.6 1690.4h2v2h-2zM1711.0 1696.5h2v2h-2zM1695.3 1709.6h2v2h-2zM1679.0 1720.4h2v2h-2zM1722.8 1717.4h2v2h-2zM1698.0 1726.2h2v2h-2zM1674.8 1720.5h2v2h-2zM1712.3 1703.0h2v2h-2zM1704.6 1732.6h2v2h-2zM1695.2 1701.7h2v2h-2zM1673.1 1713.3h2v2h-2zM1678.1 1714.6h2v2h-2zM1708.1 1706.6h2v2h-2zM1686.5 1717.9h2v2h-2zM1713.6 1704.1h2v2h-2zM1679.6 1714.7h2v2h-2zM1741.8 1696.2h2v2h-2zM1681.5 1721.9h2v2h-2zM1705.3 1697.9h2v2h-2zM1718.5 1704.4h2v2h-2zM1710.8 1721.6h2v2h-2zM1711.1 1709.3h2v2h-2zM1721.0 1689.5h2v2h-2zM1707.4 1709.5h2v2h-2zM1763.9 1694.3h2v2h-2zM1718.1 1705.6h2v2h-2zM1710.5 1714.9h2v2h-2zM1673.1 1700.5h2v2h-2zM1701.5 1695.1h2v2h-2zM1647.3 1719.5h2v2h-2zM1681.0 1717.6h2v2h-2zM1690.5 1716.1h2v2h-2zM1675.2 1728.4h2v2h-2zM1690.2 1712.7h2v2h-2zM1725.1 1687.9h2v2h-2zM1659.8 1710.6h2v2h-2zM1739.4 1704.5h2v2h-2zM1677.1 1705.9h2v2h-2zM1718.1 1714.3h2v2h-2zM1719.8 1688.2h2v2h-2zM1701.3 1709.0h2v2h-2zM1667.4 1723.0h2v2h-2zM1717.2 1707.0h2v2h-2zM1694.6 1716.3h2v2h-2zM1674.5 1712.8h2v2h-2zM1687.9 1703.3h2v2h-2zM1677.9 1710.3h2v2h-2zM1702.6 1704.5h2v2h-2zM1719.1 1714.9h2v2h-2zM1681.4 1706.3h2v2h-2zM1669.9 1713.6h2v2h-2zM1682.3 1717.2h2v2h-2zM1702.4 1714.8h2v2h-2zM1723.5 1694.9h2v2h-2zM1711.0 1707.1h2v2h-2zM1703.4 1713.2h2v2h-2zM1694.3 1718.4h2v2h-2zM1703.2 1725.8h2v2h-2zM1693.9 1696.0h2v2h-2zM1658.7 1721.1h2v2h-2zM1701.8 1713.5h2v2h-2zM1702.6 1710.5h2v2h-2zM1720.7 1701.1h2v2h-2zM1690.5 1701.4h2v2h-2zM1692.1 1712.1h2v2h-2zM1714.5 1713.9h2v2h-2zM1682.7 1706.0h2v2h-2zM1628.3 1727.6h2v2h-2zM1694.9 1702.0h2v2h-2zM1675.2 1707.0h2v2h-2zM1687.3 1724.7h2v2h-2zM1685.3 1708.8h2v2h-2zM1693.6 1715.0h2v2h-2zM1698.7 1724.9h2v2h-2zM1713.8 1703.0h2v2h-2zM1684.8 1693.5h2v2h-2zM1707.9 1720.8h2v2h-2zM1657.6 1718.1h2v2h-2zM1682.2 1719.4h2v2h-2zM1698.4 1702.3h2v2h-2zM1688.8 1720.8h2v2h-2zM1729.2 1694.8h2v2h-2zM1655.2 1720.2h2v2h-2zM1699.9 1723.2h2v2h-2zM1714.8 1700.9h2v2h-2zM1669.6 1708.7h2v2h-2zM1700.4 1702.7h2v2h-2zM1675.6 1720.6h2v2h-2zM1701.6 1712.0h2v2h-2zM1706.8 1709.5h2v2h-2zM1665.8 1708.2h2v2h-2zM1718.1 1703.5h2v2h-2zM1719.3 1696.6h2v2h-2zM1656.2 1720.3h2v2h-2zM1702.1 1711.0h2v2h-2zM1700.4 1705.9h2v2h-2zM1685.1 1730.2h2v2h-2zM1675.1 1724.5h2v2h-2zM1674.0 1719.2h2v2h-2zM1694.5 1701.6h2v2h-2zM1677.5 1728.2h2v2h-2zM1694.2 1716.1h2v2h-2zM1677.1 1720.3h2v2h-2zM1666.3 1723.3h2v2h-2zM1742.8 1681.3h2v2h-2zM1648.0 1730.7h2v2h-2zM1704.4 1717.2h2v2h-2zM1684.0 1721.0h2v2h-2zM1701.5 1708.0h2v2h-2zM1703.3 1713.6h2v2h-2zM1729.9 1702.9h2v2h-2zM1702.2 1726.3h2v2h-2zM1671.5 1718.6h2v2h-2zM1693.4 1717.6h2v2h-2zM1667.0 1730.2h2v2h-2zM1710.2 1695.8h2v2h-2zM1681.1 1718.8h2v2h-2zM1724.5 1718.1h2v2h-2zM1682.9 1732.0h2v2h-2zM1701.5 1715.7h2v2h-2zM1668.3 1715.0h2v2h-2zM1674.6 1707.4h2v2h-2zM1671.1 1715.0h2v2h-2zM1698.8 1694.3h2v2h-2zM1716.6 1710.4h2v2h-2zM1689.1 1705.5h2v2h-2zM1697.2 1691.9h2v2h-2zM1678.3 1706.0h2v2h-2zM1688.7 1719.8h2v2h-2zM1725.3 1699.7h2v2h-2zM1697.5 1718.0h2v2h-2zM1763.9 1693.2h2v2h-2zM1723.9 1706.8h2v2h-2zM1736.9 1679.9h2v2h-2zM1709.6 1698.8h2v2h-2zM1689.3 1702.3h2v2h-2zM1652.0 1718.3h2v2h-2zM1720.4 1707.0h2v2h-2zM1689.4 1705.6h2v2h-2zM1700.6 1693.5h2v2h-2zM1718.2 1701.0h2v2h-2zM1689.9 1709.1h2v2h-2zM1709.9 1724.4h2v2h-2zM1672.4 1714.2h2v2h-2zM1708.8 1704.7h2v2h-2zM1695.9 1702.8h2v2h-2zM1663.4 1714.6h2v2h-2zM1706.0 1700.7h2v2h-2zM1678.3 1730.3h2v2h-2zM1660.0 1709.7h2v2h-2zM1704.2 1701.5h2v2h-2zM1688.2 1713.3h2v2h-2zM1704.7 1708.9h2v2h-2zM1696.7 1700.2h2v2h-2zM1700.9 1709.4h2v2h-2zM1685.4 1719.7h2v2h-2zM1692.8 1690.5h2v2h-2zM1691.6 1716.2h2v2h-2zM1750.7 1699.3h2v2h-2zM1719.2 1711.8h2v2h-2zM1707.4 1703.1h2v2h-2zM1698.5 1715.6h2v2h-2zM1693.8 1714.7h2v2h-2zM1695.1 1702.6h2v2h-2zM1693.0 1716.2h2v2h-2zM1715.9 1720.6h2v2h-2zM1679.4 1725.7h2v2h-2zM1652.8 1728.9h2v2h-2zM1701.3 1695.5h2v2h-2zM1667.2 1732.6h2v2h-2zM1696.4 1698.8h2v2h-2zM1712.2 1711.4h2v2h-2zM1686.9 1716.1h2v2h-2zM1683.5 1729.4h2v2h-2zM1681.2 1696.4h2v2h-2zM1688.4 1707.1h2v2h-2zM1662.6 1718.8h2v2h-2zM1676.6 1713.0h2v2h-2zM1686.5 1704.0h2v2h-2zM1711.3 1712.8h2v2h-2zM1696.0 1715.1h2v2h-2zM1694.3 1709.9h2v2h-2zM1720.4 1698.4h2v2h-2zM1693.8 1709.9h2v2h-2zM1719.4 1711.0h2v2h-2zM1664.8 1731.9h2v2h-2zM1651.2 1724.7h2v2h-2zM1657.1 1726.5h2v2h-2zM1694.7 1693.5h2v2h-2zM1702.2 1731.0h2v2h-2zM1685.6 1727.9h2v2h-2zM1695.4 1727.1h2v2h-2zM1744.9 1706.4h2v2h-2zM1716.6 1703.5h2v2h-2zM1675.6 1714.0h2v2h-2zM1701.3 1709.7h2v2h-2zM1715.4 1703.7h2v2h-2zM1699.7 1709.7h2v2h-2zM1721.0 1698.6h2v2h-2zM1694.2 1709.7h2v2h-2zM1717.5 1697.5h2v2h-2zM1718.9 1705.9h2v2h-2zM1701.2 1708.4h2v2h-2zM1727.8 1685.4h2v2h-2zM1701.4 1706.8h2v2h-2zM1731.2 1711.0h2v2h-2zM1687.4 1702.4h2v2h-2zM1659.8 1710.7h2v2h-2zM1664.7 1712.7h2v2h-2zM1685.6 1704.8h2v2h-2zM1698.8 1714.2h2v2h-2zM1715.4 1701.1h2v2h-2z" fill="#2c7bb9" fill-opacity="0.38"/>
<path d="M1712.8 1708.4h2v2h-2zM1712.0 1712.3h2v2h-2zM1750.1 1710.3h2v2h-2zM1660.0 1709.5h2v2h-2zM1708.9 1720.7h2v2h-2zM1689.1 1714.0h2v2h-2zM1734.1 1701.5h2v2h-2zM1694.1 1710.3h2v2h-2zM1698.2 1705.2h2v2h-2zM1677.8 1712.5h2v2h-2zM1693.3 1715.0h2v2h-2zM1716.3 1695.8h2v2h-2zM1736.1 1701.3h2v2h-2zM1717.8 1697.8h2v2h-2zM1685.5 1711.0h2v2h-2zM1728.3 1693.4h2v2h-2zM1679.8 1711.9h2v2h-2zM1673.4 1716.3h2v2h-2zM1712.5 1719.5h2v2h-2zM1706.3 1691.9h2v2h-2zM1722.7 1709.7h2v2h-2zM1698.1 1711.9h2v2h-2zM1704.5 1716.4h2v2h-2zM1668.3 1716.0h2v2h-2zM1696.6 1705.8h2v2h-2zM1715.4 1692.2h2v2h-2zM1696.5 1699.1h2v2h-2zM1712.6 1730.2h2v2h-2zM1681.7 1695.9h2v2h-2zM1727.5 1696.1h2v2h-2zM1674.5 1707.7h2v2h-2zM1691.7 1709.9h2v2h-2zM1662.5 1735.0h2v2h-2zM1715.6 1723.1h2v2h-2zM1722.0 1701.4h2v2h-2zM1680.3 1726.0h2v2h-2zM1705.5 1712.4h2v2h-2zM1680.6 1710.7h2v2h-2zM1686.6 1734.0h2v2h-2zM1707.6 1707.4h2v2h-2zM1722.4 1697.4h2v2h-2zM1666.3 1713.6h2v2h-2zM1709.4 1707.8h2v2h-2zM1712.2 1722.0h2v2h-2zM1667.1 1717.4h2v2h-2zM1689.2 1707.8h2v2h-2zM1745.5 1710.3h2v2h-2zM1725.6 1706.8h2v2h-2zM1702.5 1721.2h2v2h-2zM1695.1 1694.4h2v2h-2zM1646.5 1724.1h2v2h-2zM1706.4 1715.7h2v2h-2zM1672.6 1714.8h2v2h-2zM1676.2 1714.8h2v2h-2zM1703.9 1711.9h2v2h-2zM1671.1 1726.2h2v2h-2zM1687.1 1716.8h2v2h-2zM1706.5 1691.3h2v2h-2zM1706.0 1717.3h2v2h-2zM1666.0 1720.9h2v2h-2zM1661.6 1717.2h2v2h-2zM1691.5 1712.5h2v2h-2zM1726.7 1713.7h2v2h-2zM1691.4 1715.7h2v2h-2zM1688.7 1708.9h2v2h-2zM1709.8 1712.9h2v2h-2zM1669.3 1717.8h2v2h-2zM1711.1 1710.3h2v2h-2zM1667.9 1726.7h2v2h-2zM1711.4 1715.0h2v2h-2zM1651.0 1709.1h2v2h-2zM1683.4 1724.3h2v2h-2zM1673.5 1720.8h2v2h-2zM1728.9 1702.3h2v2h-2zM1684.0 1708.0h2v2h-2zM1693.7 1724.5h2v2h-2zM1695.3 1711.2h2v2h-2zM1665.6 1714.0h2v2h-2zM1657.0 1724.5h2v2h-2zM1695.4 1696.2h2v2h-2zM1643.8 1719.5h2v2h-2zM1663.0 1721.0h2v2h-2zM1695.9 1688.8h2v2h-2zM1725.6 1711.3h2v2h-2zM1700.2 1718.5h2v2h-2zM1691.1 1709.1h2v2h-2zM1686.6 1707.0h2v2h-2zM1688.7 1726.3h2v2h-2zM1687.9 1711.4h2v2h-2zM1675.1 1718.9h2v2h-2zM1732.4 1693.7h2v2h-2zM1697.3 1701.9h2v2h-2zM1667.1 1724.4h2v2h-2zM1707.0 1690.9h2v2h-2zM1646.9 1723.4h2v2h-2zM1692.6 1710.0h2v2h-2zM1677.0 1711.2h2v2h-2zM1713.1 1698.3h2v2h-2zM1680.7 1720.8h2v2h-2zM1686.7 1719.5h2v2h-2zM1687.4 1707.0h2v2h-2zM1722.1 1693.3h2v2h-2zM1691.5 1700.8h2v2h-2zM1700.8 1705.6h2v2h-2zM1722.0 1713.2h2v2h-2zM1709.6 1700.2h2v2h-2zM1677.7 1706.2h2v2h-2zM1685.9 1708.2h2v2h-2zM1689.2 1717.4h2v2h-2zM1715.5 1692.4h2v2h-2zM1676.8 1703.0h2v2h-2zM1658.4 1716.8h2v2h-2zM1702.6 1706.5h2v2h-2zM1673.8 1731.7h2v2h-2zM1675.2 1711.3h2v2h-2zM1703.0 1714.8h2v2h-2zM1644.1 1724.8h2v2h-2zM1682.1 1715.9h2v2h-2zM1688.3 1709.4h2v2h-2zM1724.5 1705.2h2v2h-2zM1715.3 1711.2h2v2h-2zM1700.4 1711.6h2v2h-2zM1708.8 1715.3h2v2h-2zM1714.2 1719.8h2v2h-2zM1696.9 1724.2h2v2h-2zM1715.1 1703.0h2v2h-2zM1683.7 1720.8h2v2h-2zM1691.1 1707.8h2v2h-2zM1676.5 1715.7h2v2h-2zM1695.8 1730.7h2v2h-2zM1721.8 1689.3h2v2h-2zM1680.5 1700.4h2v2h-2zM1698.1 1705.7h2v2h-2zM1720.0 1710.2h2v2h-2zM1706.9 1717.8h2v2h-2zM1685.8 1706.1h2v2h-2zM1697.3 1695.0h2v2h-2zM1711.4 1701.9h2v2h-2zM1674.7 1701.9h2v2h-2zM1741.2 1701.8h2v2h-2zM1724.4 1691.0h2v2h-2zM1720.3 1709.5h2v2h-2zM1719.9 1713.5h2v2h-2zM1695.4 1715.8h2v2h-2zM1656.9 1717.6h2v2h-2zM1653.4 1713.4h2v2h-2zM1724.4 1700.2h2v2h-2zM1681.6 1718.3h2v2h-2zM1679.7 1715.5h2v2h-2zM1662.7 1723.8h2v2h-2zM1705.1 1694.6h2v2h-2zM1701.2 1703.1h2v2h-2zM1696.9 1707.5h2v2h-2zM1704.8 1710.0h2v2h-2zM1651.9 1722.0h2v2h-2zM1669.1 1723.8h2v2h-2zM1722.6 1710.5h2v2h-2zM1712.9 1698.8h2v2h-2zM1674.3 1718.2h2v2h-2zM1684.4 1703.7h2v2h-2zM1636.4 1718.6h2v2h-2zM1704.7 1704.3h2v2h-2zM1668.8 1715.6h2v2h-2zM1669.5 1717.9h2v2h-2zM1694.5 1694.9h2v2h-2zM1654.5 1730.0h2v2h-2zM1727.9 1712.7h2v2h-2zM1696.9 1730.2h2v2h-2zM1672.4 1713.9h2v2h-2zM1723.4 1704.6h2v2h-2zM1752.3 1717.0h2v2h-2zM1680.2 1706.2h2v2h-2zM1699.5 1707.3h2v2h-2zM1696.3 1719.4h2v2h-2zM1695.7 1716.3h2v2h-2zM1697.6 1713.1h2v2h-2zM1688.7 1707.8h2v2h-2zM1662.6 1729.3h2v2h-2zM1688.8 1702.8h2v2h-2zM1674.5 1705.8h2v2h-2zM1726.5 1712.0h2v2h-2zM1726.8 1689.0h2v2h-2zM1727.9 1715.5h2v2h-2zM1710.1 1702.9h2v2h-2zM1640.0 1710.3h2v2h-2zM1669.5 1722.6h2v2h-2zM1690.2 1724.0h2v2h-2zM1686.9 1726.9h2v2h-2zM1745.1 1692.8h2v2h-2zM1702.7 1713.5h2v2h-2zM1689.5 1711.8h2v2h-2zM1721.5 1695.5h2v2h-2zM1666.4 1710.7h2v2h-2zM1709.3 1697.2h2v2h-2zM1669.0 1721.5h2v2h-2zM1670.5 1709.9h2v2h-2zM1692.3 1711.1h2v2h-2zM1704.0 1708.2h2v2h-2zM1719.0 1714.8h2v2h-2zM1706.8 1712.8h2v2h-2zM1690.1 1709.7h2v2h-2zM1705.6 1703.7h2v2h-2zM1738.8 1707.0h2v2h-2zM1726.7 1686.4h2v2h-2zM1711.2 1697.9h2v2h-2zM1710.7 1706.1h2v2h-2zM1667.3 1719.1h2v2h-2zM1703.1 1714.0h2v2h-2zM1686.5 1726.7h2v2h-2zM1723.1 1705.7h2v2h-2zM1712.3 1687.1h2v2h-2zM1686.4 1695.2h2v2h-2zM1714.9 1697.2h2v2h-2zM1660.5 1733.4h2v2h-2zM1660.6 1733.5h2v2h-2zM1692.0 1720.4h2v2h-2zM1692.4 1707.6h2v2h-2zM1724.5 1715.1h2v2h-2zM1695.1 1708.0h2v2h-2zM1704.8 1697.5h2v2h-2zM1717.1 1697.3h2v2h-2zM1691.7 1704.2h2v2h-2zM1640.7 1736.9h2v2h-2zM1698.3 1711.2h2v2h-2zM1709.6 1716.4h2v2h-2zM1732.0 1717.2h2v2h-2zM1689.0 1703.4h2v2h-2zM1721.0 1706.5h2v2h-2zM1708.9 1714.9h2v2h-2zM1670.7 1717.8h2v2h-2zM1696.7 1720.2h2v2h-2zM1717.2 1704.6h2v2h-2zM1700.7 1708.8h2v2h-2zM1720.3 1697.9h2v2h-2zM1712.1 1708.8h2v2h-2zM1754.8 1691.9h2v2h-2zM1718.2 1714.0h2v2h-2zM1712.1 1712.8h2v2h-2zM1697.8 1707.2h2v2h-2zM1720.6 1696.0h2v2h-2zM1691.4 1694.3h2v2h-2zM1670.3 1724.7h2v2h-2zM1701.4 1698.6h2v2h-2zM1686.3 1701.7h2v2h-2zM1678.4 1722.0h2v2h-2zM1689.0 1703.0h2v2h-2zM1676.6 1701.2h2v2h-2zM1681.7 1725.2h2v2h-2zM1694.6 1717.1h2v2h-2zM1652.0 1726.0h2v2h-2zM1702.6 1700.2h2v2h-2zM1702.7 1694.4h2v2h-2zM1661.2 1711.1h2v2h-2zM1693.9 1712.5h2v2h-2zM1705.7 1692.0h2v2h-2zM1697.3 1703.1h2v2h-2zM1661.0 1726.1h2v2h-2zM1695.6 1703.8h2v2h-2zM1687.9 1711.3h2v2h-2zM1694.5 1707.7h2v2h-2zM1672.5 1733.5h2v2h-2zM1686.2 1718.5h2v2h-2zM1740.2 1693.3h2v2h-2zM1695.6 1698.8h2v2h-2zM1684.0 1713.9h2v2h-2zM1709.6 1719.4h2v2h-2zM1656.9 1733.5h2v2h-2zM1678.7 1713.2h2v2h-2zM1716.6 1703.9h2v2h-2zM1693.3 1720.9h2v2h-2zM1701.6 1708.1h2v2h-2zM1696.8 1710.4h2v2h-2zM1710.8 1695.3h2v2h-2zM1665.5 1722.8h2v2h-2zM1679.7 1725.9h2v2h-2zM1696.8 1728.8h2v2h-2zM1689.5 1715.0h2v2h-2zM1701.1 1694.2h2v2h-2zM1732.8 1701.9h2v2h-2zM1685.2 1708.4h2v2h-2zM1723.1 1707.2h2v2h-2zM1674.8 1704.3h2v2h-2zM1683.6 1723.7h2v2h-2zM1690.2 1710.3h2v2h-2zM1683.6 1710.1h2v2h-2zM1680.3 1717.3h2v2h-2zM1640.8 1724.2h2v2h-2zM1674.3 1719.2h2v2h-2zM1728.4 1725.4h2v2h-2zM1673.9 1716.1h2v2h-2zM1714.3 1717.6h2v2h-2zM1664.9 1721.0h2v2h-2zM1732.2 1710.7h2v2h-2zM1706.7 1700.5h2v2h-2zM1713.2 1707.5h2v2h-2zM1705.9 1700.0h2v2h-2zM1658.1 1723.0h2v2h-2zM1735.0 1710.7h2v2h-2zM1658.1 1707.1h2v2h-2zM1709.4 1709.5h2v2h-2zM1713.5 1696.7h2v2h-2zM1726.3 1699.7h2v2h-2zM1697.7 1704.2h2v2h-2zM1673.4 1726.9h2v2h-2zM1696.9 1717.0h2v2h-2zM1701.5 1692.9h2v2h-2zM1657.1 1716.9h2v2h-2zM1694.2 1700.8h2v2h-2zM1696.6 1711.2h2v2h-2zM1683.5 1716.8h2v2h-2zM1697.7 1716.8h2v2h-2zM1689.7 1707.8h2v2h-2zM1675.9 1703.9h2v2h-2zM1702.7 1706.0h2v2h-2zM1698.4 1714.8h2v2h-2zM1680.1 1720.1h2v2h-2zM1690.4 1688.6h2v2h-2zM1684.2 1723.5h2v2h-2zM1678.7 1728.1h2v2h-2zM1682.2 1705.2h2v2h-2zM1686.5 1707.4h2v2h-2zM1713.5 1715.6h2v2h-2zM1702.9 1716.0h2v2h-2zM1703.3 1715.2h2v2h-2zM1703.8 1724.7h2v2h-2z" fill="#2c7bb9" fill-opacity="0.38"/>
<path d="M1707.2 1709.6h2v2h-2zM1710.8 1708.2h2v2h-2zM1677.7 1707.9h2v2h-2zM1701.6 1709.0h2v2h-2zM1651.7 1731.3h2v2h-2zM1676.2 1709.2h2v2h-2zM1688.3 1725.7h2v2h-2zM1666.2 1712.5h2v2h-2zM1704.9 1695.7h2v2h-2zM1653.9 1719.9h2v2h-2zM1751.7 1715.0h2v2h-2zM1726.0 1713.2h2v2h-2zM1691.3 1713.1h2v2h-2zM1712.6 1709.1h2v2h-2zM1665.4 1715.7h2v2h-2zM1721.1 1708.4h2v2h-2zM1701.1 1708.5h2v2h-2zM1711.1 1713.5h2v2h-2zM1691.5 1720.5h2v2h-2zM1671.9 1716.4h2v2h-2zM1700.6 1724.8h2v2h-2zM1681.4 1702.2h2v2h-2zM1715.3 1694.2h2v2h-2zM1699.3 1724.7h2v2h-2zM1678.9 1718.4h2v2h-2zM1686.8 1737.2h2v2h-2zM1717.1 1704.1h2v2h-2zM1690.9 1707.8h2v2h-2zM1713.2 1703.1h2v2h-2zM1704.7 1685.4h2v2h-2zM1689.7 1713.3h2v2h-2zM1700.6 1711.4h2v2h-2zM1719.2 1706.9h2v2h-2zM1678.9 1708.0h2v2h-2zM1699.3 1715.9h2v2h-2zM1701.0 1714.9h2v2h-2zM1696.4 1706.5h2v2h-2zM1683.5 1718.7h2v2h-2zM1649.2 1725.3h2v2h-2zM1731.5 1697.1h2v2h-2zM1640.4 1723.4h2v2h-2zM1715.8 1705.5h2v2h-2zM1699.8 1705.1h2v2h-2zM1649.3 1722.5h2v2h-2zM1716.2 1714.5h2v2h-2zM1704.5 1699.9h2v2h-2zM1729.9 1703.4h2v2h-2zM1660.3 1713.9h2v2h-2zM1665.9 1709.9h2v2h-2zM1626.6 1726.2h2v2h-2zM1725.2 1688.7h2v2h-2zM1683.9 1721.9h2v2h-2zM1668.6 1721.7h2v2h-2zM1681.1 1716.8h2v2h-2zM1695.8 1701.8h2v2h-2zM1680.5 1708.2h2v2h-2zM1698.9 1714.7h2v2h-2zM1687.4 1712.6h2v2h-2zM1665.6 1712.4h2v2h-2zM1704.0 1720.8h2v2h-2zM1723.1 1704.7h2v2h-2zM1671.2 1718.0h2v2h-2zM1700.8 1687.6h2v2h-2zM1691.6 1713.7h2v2h-2zM1702.8 1715.6h2v2h-2zM1678.5 1704.7h2v2h-2zM1665.5 1710.6h2v2h-2zM1698.8 1709.9h2v2h-2zM1707.6 1690.1h2v2h-2zM1681.2 1712.0h2v2h-2zM1695.4 1705.7h2v2h-2zM1677.5 1710.9h2v2h-2zM1697.3 1703.3h2v2h-2zM1701.5 1725.6h2v2h-2zM1664.9 1720.8h2v2h-2zM1679.7 1712.8h2v2h-2zM1734.0 1695.3h2v2h-2zM1710.0 1713.2h2v2h-2zM1689.0 1728.3h2v2h-2zM1686.8 1712.1h2v2h-2zM1664.5 1721.2h2v2h-2zM1665.4 1718.8h2v2h-2zM1703.3 1684.4h2v2h-2zM1721.2 1715.8h2v2h-2zM1702.7 1718.0h2v2h-2zM1688.4 1716.5h2v2h-2zM1685.5 1713.5h2v2h-2zM1683.5 1699.9h2v2h-2zM1729.3 1682.0h2v2h-2zM1675.7 1720.5h2v2h-2zM1712.6 1713.5h2v2h-2zM1667.9 1729.0h2v2h-2zM1735.8 1689.0h2v2h-2zM1706.4 1707.3h2v2h-2zM1717.8 1717.0h2v2h-2zM1658.1 1712.1h2v2h-2zM1700.9 1697.7h2v2h-2zM1648.7 1724.1h2v2h-2zM1722.0 1686.2h2v2h-2zM1701.4 1703.1h2v2h-2zM1643.4 1731.6h2v2h-2zM1674.8 1710.7h2v2h-2zM1744.6 1709.3h2v2h-2zM1702.9 1698.8h2v2h-2zM1686.6 1727.8h2v2h-2zM1660.6 1716.9h2v2h-2zM1692.7 1732.0h2v2h-2zM1706.7 1710.9h2v2h-2zM1701.7 1696.4h2v2h-2zM1736.2 1710.5h2v2h-2zM1722.5 1699.5h2v2h-2zM1695.5 1701.3h2v2h-2zM1748.7 1684.9h2v2h-2zM1732.8 1714.4h2v2h-2zM1693.6 1719.1h2v2h-2zM1707.8 1707.2h2v2h-2zM1695.9 1710.5h2v2h-2zM1703.1 1697.9h2v2h-2zM1664.2 1711.9h2v2h-2zM1635.6 1723.9h2v2h-2zM1648.4 1723.6h2v2h-2zM1685.3 1715.8h2v2h-2zM1714.5 1699.4h2v2h-2zM1660.5 1717.9h2v2h-2zM1702.3 1726.3h2v2h-2zM1684.4 1714.0h2v2h-2zM1741.0 1694.3h2v2h-2zM1667.5 1730.4h2v2h-2zM1703.8 1706.8h2v2h-2zM1695.3 1704.4h2v2h-2zM1708.0 1709.9h2v2h-2zM1691.6 1717.3h2v2h-2zM1664.3 1726.8h2v2h-2zM1677.1 1728.7h2v2h-2zM1725.6 1707.6h2v2h-2zM1683.2 1707.1h2v2h-2zM1688.8 1715.4h2v2h-2zM1685.7 1704.3h2v2h-2zM1723.0 1692.5h2v2h-2zM1667.4 1713.4h2v2h-2zM1679.1 1712.5h2v2h-2zM1711.1 1702.8h2v2h-2zM1693.6 1703.1h2v2h-2zM1726.3 1702.5h2v2h-2zM1721.6 1692.5h2v2h-2zM1695.8 1709.5h2v2h-2zM1672.7 1723.1h2v2h-2zM1714.7 1706.7h2v2h-2zM1669.3 1733.7h2v2h-2zM1696.0 1715.5h2v2h-2zM1705.8 1699.8h2v2h-2zM1692.5 1713.4h2v2h-2zM1679.9 1725.9h2v2h-2zM1661.5 1719.9h2v2h-2zM1689.2 1722.2h2v2h-2zM1684.7 1710.6h2v2h-2zM1706.1 1695.9h2v2h-2zM1635.7 1718.4h2v2h-2zM1747.4 1697.7h2v2h-2zM1686.2 1710.9h2v2h-2zM1717.4 1690.2h2v2h-2zM1663.0 1734.2h2v2h-2zM1698.3 1720.2h2v2h-2zM1711.2 1717.2h2v2h-2zM1693.6 1708.5h2v2h-2zM1671.5 1706.0h2v2h-2zM1684.1 1695.9h2v2h-2zM1688.3 1712.4h2v2h-2zM1683.0 1708.2h2v2h-2zM1699.6 1710.8h2v2h-2zM1702.0 1705.9h2v2h-2zM1722.2 1704.1h2v2h-2zM1709.7 1724.4h2v2h-2zM1652.1 1706.4h2v2h-2zM1712.7 1703.3h2v2h-2zM1708.8 1722.1h2v2h-2zM1684.2 1714.2h2v2h-2zM1671.2 1724.8h2v2h-2zM1721.0 1698.7h2v2h-2zM1671.1 1714.1h2v2h-2zM1721.4 1703.7h2v2h-2zM1697.3 1720.8h2v2h-2zM1671.5 1717.7h2v2h-2zM1682.2 1715.3h2v2h-2zM1707.7 1707.4h2v2h-2zM1700.1 1701.9h2v2h-2zM1700.4 1708.2h2v2h-2zM1718.0 1692.1h2v2h-2zM1706.0 1732.2h2v2h-2zM1743.7 1710.0h2v2h-2zM1699.3 1710.4h2v2h-2zM1709.1 1712.3h2v2h-2zM1691.3 1719.4h2v2h-2zM1652.5 1720.3h2v2h-2zM1711.6 1706.5h2v2h-2zM1722.5 1691.4h2v2h-2zM1669.0 1721.8h2v2h-2zM1686.3 1697.0h2v2h-2zM1647.9 1731.1h2v2h-2zM1693.4 1708.3h2v2h-2zM1705.2 1710.7h2v2h-2zM1678.9 1725.3h2v2h-2zM1719.8 1712.9h2v2h-2zM1674.2 1718.8h2v2h-2zM1671.0 1721.5h2v2h-2zM1764.6 1695.8h2v2h-2zM1678.2 1729.5h2v2h-2zM1690.5 1721.2h2v2h-2zM1715.4 1702.4h2v2h-2zM1721.6 1700.8h2v2h-2zM1725.4 1696.9h2v2h-2zM1707.7 1703.0h2v2h-2zM1734.9 1684.1h2v2h-2zM1731.2 1693.5h2v2h-2zM1726.3 1693.6h2v2h-2zM1698.8 1717.5h2v2h-2zM1691.8 1699.5h2v2h-2zM1708.4 1713.5h2v2h-2zM1706.8 1709.1h2v2h-2zM1727.2 1693.8h2v2h-2zM1685.7 1720.9h2v2h-2zM1688.2 1707.1h2v2h-2zM1691.3 1710.3h2v2h-2zM1680.3 1727.3h2v2h-2zM1646.2 1724.3h2v2h-2zM1708.9 1698.0h2v2h-2zM1684.6 1722.9h2v2h-2zM1670.1 1717.2h2v2h-2zM1694.5 1718.4h2v2h-2zM1714.7 1705.1h2v2h-2zM1647.8 1720.9h2v2h-2zM1674.3 1716.6h2v2h-2zM1700.6 1710.4h2v2h-2zM1657.1 1722.8h2v2h-2zM1673.0 1709.8h2v2h-2zM1705.4 1693.3h2v2h-2zM1677.0 1712.3h2v2h-2zM1689.1 1706.6h2v2h-2zM1714.2 1700.3h2v2h-2zM1687.3 1701.5h2v2h-2zM1689.6 1714.8h2v2h-2zM1701.8 1713.3h2v2h-2zM1685.5 1715.8h2v2h-2zM1694.1 1720.4h2v2h-2zM1697.2 1701.3h2v2h-2zM1700.1 1703.8h2v2h-2zM1699.9 1703.5h2v2h-2zM1731.6 1702.1h2v2h-2zM1701.2 1706.8h2v2h-2zM1689.7 1715.9h2v2h-2zM1717.7 1705.4h2v2h-2zM1724.6 1695.8h2v2h-2zM1686.6 1733.1h2v2h-2zM1725.5 1702.4h2v2h-2zM1694.7 1714.6h2v2h-2zM1698.2 1704.6h2v2h-2zM1718.5 1712.1h2v2h-2zM1703.9 1715.8h2v2h-2zM1723.0 1702.2h2v2h-2zM1679.9 1719.4h2v2h-2zM1674.4 1724.7h2v2h-2zM1688.6 1720.6h2v2h-2zM1700.7 1715.9h2v2h-2zM1700.3 1720.1h2v2h-2zM1731.3 1695.9h2v2h-2zM1649.7 1715.5h2v2h-2zM1729.2 1706.1h2v2h-2zM1674.5 1719.9h2v2h-2zM1710.5 1713.5h2v2h-2zM1687.5 1708.8h2v2h-2zM1697.9 1706.5h2v2h-2zM1701.3 1707.4h2v2h-2zM1694.4 1704.1h2v2h-2zM1662.5 1710.1h2v2h-2zM1656.6 1719.4h2v2h-2zM1694.0 1702.1h2v2h-2zM1677.8 1725.5h2v2h-2zM1680.6 1720.6h2v2h-2zM1727.2 1705.5h2v2h-2zM1694.5 1702.3h2v2h-2zM1712.4 1704.7h2v2h-2zM1691.4 1710.9h2v2h-2zM1684.0 1720.8h2v2h-2zM1732.7 1693.9h2v2h-2zM1701.3 1705.5h2v2h-2zM1689.8 1722.7h2v2h-2zM1683.7 1705.3h2v2h-2zM1711.8 1686.8h2v2h-2zM1667.2 1709.0h2v2h-2zM1674.5 1711.6h2v2h-2zM1708.2 1713.3h2v2h-2zM1669.6 1724.8h2v2h-2zM1731.8 1702.1h2v2h-2zM1668.4 1728.3h2v2h-2zM1654.8 1719.4h2v2h-2zM1687.5 1722.3h2v2h-2zM1673.0 1708.6h2v2h-2zM1701.6 1695.9h2v2h-2zM1625.7 1727.2h2v2h-2zM1710.8 1707.6h2v2h-2zM1726.4 1711.2h2v2h-2zM1701.6 1712.4h2v2h-2zM1680.6 1698.2h2v2h-2zM1718.8 1706.0h2v2h-2zM1702.9 1692.6h2v2h-2zM1695.4 1696.0h2v2h-2zM1675.4 1712.2h2v2h-2zM1653.2 1728.6h2v2h-2zM1665.7 1701.4h2v2h-2zM1693.4 1713.8h2v2h-2zM1718.7 1704.4h2v2h-2zM1703.3 1723.4h2v2h-2zM1692.8 1714.8h2v2h-2zM1701.2 1719.9h2v2h-2zM1706.1 1705.8h2v2h-2zM1680.8 1719.9h2v2h-2zM1721.1 1680.8h2v2h-2zM1706.8 1726.5h2v2h-2zM1712.6 1710.9h2v2h-2zM1674.9 1720.2h2v2h-2zM1695.6 1709.6h2v2h-2zM1690.3 1716.1h2v2h-2zM1676.5 1706.2h2v2h-2zM1687.2 1720.6h2v2h-2zM1698.9 1694.7h2v2h-2z" fill="#2c7bb9" fill-opacity="0.38"/>
<path d="M1615.0 1735.3h2.6v2.6h-2.6zM1630.4 1747.0h2.6v2.6h-2.6zM1665.0 1773.5h2.6v2.6h-2.6zM1652.5 1789.7h2.6v2.6h-2.6zM1698.8 1784.5h2.6v2.6h-2.6zM1706.2 1779.4h2.6v2.6h-2.6zM1767.9 1710.3h2.6v2.6h-2.6zM1758.4 1709.5h2.6v2.6h-2.6zM1639.3 1715.4h2.6v2.6h-2.6zM1643.7 1702.2h2.6v2.6h-2.6zM1704.0 1665.4h2.6v2.6h-2.6zM1712.8 1668.3h2.6v2.6h-2.6zM1751.7 1663.9h2.6v2.6h-2.6zM1737.7 1664.7h2.6v2.6h-2.6z" fill="#6f8fc0" fill-opacity="0.55"/>
<line x1="1658.20" y1="1603.00" x2="1658.20" y2="1855.00" stroke="#444" stroke-width="1.3" />
<line x1="1557.00" y1="1762.30" x2="1832.80" y2="1762.30" stroke="#444" stroke-width="1.3" />
<line x1="1569.10" y1="1843.70" x2="1820.20" y2="1614.30" stroke="#333" stroke-width="1.5" />
<rect x="1557.00" y="1603.00" width="275.80" height="252.00" fill="none" stroke="#1a1a1a" stroke-width="2.8"/>
<line x1="1550.50" y1="1836.30" x2="1557.00" y2="1836.30" stroke="#1a1a1a" stroke-width="2.8" />
<line x1="1577.20" y1="1855.00" x2="1577.20" y2="1861.50" stroke="#1a1a1a" stroke-width="2.8" />
<text x="1543.41" y="1842.90" font-size="19.20" text-anchor="end" fill="#1a1a1a">−5</text>
<line x1="1550.50" y1="1762.30" x2="1557.00" y2="1762.30" stroke="#1a1a1a" stroke-width="2.8" />
<line x1="1658.20" y1="1855.00" x2="1658.20" y2="1861.50" stroke="#1a1a1a" stroke-width="2.8" />
<text x="1543.35" y="1768.90" font-size="19.20" text-anchor="end" fill="#1a1a1a">0</text>
<line x1="1550.50" y1="1688.30" x2="1557.00" y2="1688.30" stroke="#1a1a1a" stroke-width="2.8" />
<line x1="1739.20" y1="1855.00" x2="1739.20" y2="1861.50" stroke="#1a1a1a" stroke-width="2.8" />
<text x="1543.41" y="1694.90" font-size="19.20" text-anchor="end" fill="#1a1a1a">5</text>
<line x1="1550.50" y1="1614.30" x2="1557.00" y2="1614.30" stroke="#1a1a1a" stroke-width="2.8" />
<line x1="1820.20" y1="1855.00" x2="1820.20" y2="1861.50" stroke="#1a1a1a" stroke-width="2.8" />
<text x="1543.35" y="1620.90" font-size="19.20" text-anchor="end" fill="#1a1a1a">10</text>
<text x="1592.55" y="1591.20" font-size="20.60" text-anchor="start" textLength="204.93" lengthAdjust="spacingAndGlyphs" fill="#1a1a1a">dilution factor = 0.30</text>
<text x="1576.53" y="1643.20" font-size="19.20" text-anchor="start" fill="#1a1a1a">r = 0.609</text>
<text x="1510.80" y="1854.62" font-size="21.50" text-anchor="start" textLength="258.19" lengthAdjust="spacingAndGlyphs" transform="rotate(-90 1510.80 1854.62)" fill="#1a1a1a">observed log2(heavy/light)</text>
<ellipse cx="1987.0" cy="1726.5" rx="29.9" ry="11.7" transform="rotate(-20.0 1987.0 1726.5)" fill="#2677b5" filter="url(#blur1)"/>
<path d="M1972.8 1740.6h2v2h-2zM1978.6 1724.2h2v2h-2zM2005.4 1729.4h2v2h-2zM1951.5 1739.7h2v2h-2zM1988.5 1738.1h2v2h-2zM1982.0 1719.0h2v2h-2zM1954.0 1730.7h2v2h-2zM2021.3 1720.6h2v2h-2zM1966.6 1744.2h2v2h-2zM1990.1 1718.5h2v2h-2zM1957.2 1739.5h2v2h-2zM1967.1 1722.1h2v2h-2zM2005.0 1716.6h2v2h-2zM1998.6 1723.4h2v2h-2zM1964.7 1743.2h2v2h-2zM1971.1 1737.2h2v2h-2zM1995.9 1731.8h2v2h-2zM1987.4 1746.8h2v2h-2zM1972.2 1749.5h2v2h-2zM1942.2 1748.4h2v2h-2zM2002.5 1714.9h2v2h-2zM1983.1 1720.6h2v2h-2zM2032.1 1716.1h2v2h-2zM2000.4 1726.6h2v2h-2zM1991.0 1730.6h2v2h-2zM1968.7 1756.3h2v2h-2zM2032.0 1716.1h2v2h-2zM1996.0 1729.7h2v2h-2zM1979.7 1729.1h2v2h-2zM2004.0 1698.6h2v2h-2zM1996.5 1720.5h2v2h-2zM2006.8 1724.7h2v2h-2zM2029.7 1721.3h2v2h-2zM1984.4 1744.6h2v2h-2zM1973.5 1733.9h2v2h-2zM1954.8 1737.9h2v2h-2zM1993.6 1722.6h2v2h-2zM1989.6 1734.9h2v2h-2zM1953.8 1743.3h2v2h-2zM2010.6 1724.7h2v2h-2zM2000.6 1736.8h2v2h-2zM1964.9 1742.5h2v2h-2zM1963.9 1732.3h2v2h-2zM1971.1 1726.6h2v2h-2zM2023.7 1703.7h2v2h-2zM1959.2 1740.6h2v2h-2zM2002.4 1732.8h2v2h-2zM2017.4 1738.8h2v2h-2zM1939.5 1738.3h2v2h-2zM1968.6 1723.2h2v2h-2zM1997.8 1724.2h2v2h-2zM1980.3 1748.2h2v2h-2zM1977.1 1727.0h2v2h-2zM1990.6 1713.4h2v2h-2zM1945.0 1724.9h2v2h-2zM2015.6 1719.3h2v2h-2zM1969.1 1742.0h2v2h-2zM1954.7 1732.1h2v2h-2zM1957.0 1731.4h2v2h-2zM2010.6 1722.8h2v2h-2zM1992.9 1711.4h2v2h-2zM1944.3 1738.7h2v2h-2zM1996.5 1712.4h2v2h-2zM1968.6 1720.2h2v2h-2zM1936.5 1740.0h2v2h-2zM1969.2 1732.2h2v2h-2zM1975.2 1717.2h2v2h-2zM1971.0 1754.7h2v2h-2zM2016.9 1735.9h2v2h-2zM1948.8 1741.1h2v2h-2zM1977.9 1724.0h2v2h-2zM2033.6 1707.7h2v2h-2zM1984.8 1718.7h2v2h-2zM1964.0 1727.5h2v2h-2zM1981.5 1730.3h2v2h-2zM2000.9 1725.5h2v2h-2zM1993.4 1738.2h2v2h-2zM1990.2 1726.3h2v2h-2zM1980.4 1729.2h2v2h-2zM1969.6 1736.1h2v2h-2zM2005.9 1707.9h2v2h-2zM1970.9 1724.6h2v2h-2zM1996.5 1720.7h2v2h-2zM1982.6 1721.0h2v2h-2zM2028.8 1710.1h2v2h-2zM2008.9 1728.7h2v2h-2zM2011.2 1697.7h2v2h-2zM1995.3 1719.1h2v2h-2zM2006.4 1717.2h2v2h-2zM1980.2 1727.0h2v2h-2zM2037.5 1702.0h2v2h-2zM2014.8 1713.0h2v2h-2zM1988.5 1725.9h2v2h-2zM1991.7 1724.2h2v2h-2zM1996.7 1730.2h2v2h-2zM1999.4 1715.6h2v2h-2zM1997.8 1718.8h2v2h-2zM1992.1 1726.6h2v2h-2zM2023.4 1732.2h2v2h-2zM1977.6 1734.0h2v2h-2zM1954.2 1737.1h2v2h-2zM1983.6 1735.0h2v2h-2zM1996.7 1726.7h2v2h-2zM2032.9 1722.4h2v2h-2zM1952.5 1738.4h2v2h-2zM2008.5 1703.4h2v2h-2zM1995.8 1706.2h2v2h-2zM1971.1 1721.7h2v2h-2zM1969.3 1737.3h2v2h-2zM2010.8 1729.1h2v2h-2zM1963.0 1723.6h2v2h-2zM2029.0 1700.4h2v2h-2zM1976.7 1717.3h2v2h-2zM1989.7 1727.5h2v2h-2zM1982.8 1714.8h2v2h-2zM2009.8 1716.0h2v2h-2zM2014.8 1706.5h2v2h-2zM1971.3 1732.7h2v2h-2zM1995.4 1731.9h2v2h-2zM1943.6 1738.4h2v2h-2zM1956.8 1727.5h2v2h-2zM2025.5 1714.3h2v2h-2zM1989.6 1712.1h2v2h-2zM1969.4 1745.4h2v2h-2zM1976.4 1731.9h2v2h-2zM1988.7 1721.6h2v2h-2zM2017.1 1730.8h2v2h-2zM1982.2 1735.9h2v2h-2zM1973.9 1717.9h2v2h-2zM1979.2 1746.3h2v2h-2zM1997.5 1735.2h2v2h-2zM1981.0 1742.4h2v2h-2zM1948.4 1733.3h2v2h-2zM2003.5 1723.8h2v2h-2zM2000.3 1737.4h2v2h-2zM1976.0 1729.3h2v2h-2zM1990.2 1729.4h2v2h-2zM1954.2 1718.8h2v2h-2zM1949.5 1744.7h2v2h-2zM1951.0 1745.1h2v2h-2zM1997.2 1714.8h2v2h-2zM1976.2 1714.4h2v2h-2zM1971.6 1737.2h2v2h-2zM1991.4 1711.3h2v2h-2zM1989.3 1723.7h2v2h-2zM1951.5 1729.6h2v2h-2zM1963.0 1717.0h2v2h-2zM1998.5 1717.9h2v2h-2zM1979.7 1724.2h2v2h-2zM1998.1 1715.9h2v2h-2zM2000.5 1711.3h2v2h-2zM1998.4 1720.3h2v2h-2zM1985.3 1735.6h2v2h-2zM1989.4 1725.9h2v2h-2zM2005.0 1737.1h2v2h-2zM1980.6 1711.1h2v2h-2zM1980.8 1723.4h2v2h-2zM1991.0 1709.4h2v2h-2zM1942.2 1749.0h2v2h-2zM2014.4 1720.5h2v2h-2zM1993.5 1727.8h2v2h-2zM1990.5 1721.5h2v2h-2zM1971.3 1730.1h2v2h-2zM2021.5 1716.4h2v2h-2zM1971.0 1741.7h2v2h-2zM1957.0 1736.5h2v2h-2zM2003.3 1726.8h2v2h-2zM1969.9 1740.8h2v2h-2zM2042.0 1713.2h2v2h-2zM1969.5 1727.7h2v2h-2zM2035.1 1712.7h2v2h-2zM1967.6 1718.0h2v2h-2zM2013.8 1725.1h2v2h-2zM2004.5 1700.9h2v2h-2zM2005.3 1737.3h2v2h-2zM2002.9 1727.2h2v2h-2zM2000.3 1710.7h2v2h-2zM1962.9 1727.7h2v2h-2zM2012.1 1708.7h2v2h-2zM1973.5 1734.2h2v2h-2zM2008.2 1719.4h2v2h-2zM1954.8 1730.9h2v2h-2zM2031.4 1702.3h2v2h-2zM1994.3 1742.8h2v2h-2zM1981.9 1732.8h2v2h-2zM1966.9 1727.4h2v2h-2zM1992.5 1730.9h2v2h-2zM1975.3 1739.9h2v2h-2zM2000.3 1734.1h2v2h-2zM1975.3 1735.4h2v2h-2zM1982.8 1738.4h2v2h-2zM1945.9 1721.7h2v2h-2zM1959.3 1748.6h2v2h-2zM1958.3 1751.6h2v2h-2zM1978.0 1728.2h2v2h-2zM1990.8 1716.7h2v2h-2zM1971.4 1723.2h2v2h-2zM1990.4 1719.1h2v2h-2zM1965.9 1748.6h2v2h-2zM1988.9 1731.3h2v2h-2zM1959.9 1725.9h2v2h-2zM1979.9 1729.6h2v2h-2zM2018.2 1730.4h2v2h-2zM1933.5 1759.5h2v2h-2zM1954.2 1746.1h2v2h-2zM1960.9 1733.5h2v2h-2zM1988.3 1710.2h2v2h-2zM1959.0 1741.1h2v2h-2zM1986.4 1733.9h2v2h-2zM2043.6 1704.6h2v2h-2zM2000.5 1734.5h2v2h-2zM2012.1 1723.6h2v2h-2zM1955.9 1744.6h2v2h-2zM2005.3 1720.2h2v2h-2zM1975.4 1728.5h2v2h-2zM1932.1 1744.6h2v2h-2zM1970.0 1742.2h2v2h-2zM1955.6 1731.4h2v2h-2zM1986.5 1745.9h2v2h-2zM1998.8 1723.1h2v2h-2zM2035.0 1704.9h2v2h-2zM2015.1 1725.0h2v2h-2zM2012.4 1716.5h2v2h-2zM1947.6 1733.6h2v2h-2zM2005.9 1731.3h2v2h-2zM1992.9 1716.7h2v2h-2zM2010.9 1712.0h2v2h-2zM1957.6 1728.1h2v2h-2zM2022.3 1716.2h2v2h-2zM1986.3 1729.8h2v2h-2zM1992.1 1726.7h2v2h-2zM1994.9 1708.3h2v2h-2zM1978.3 1730.6h2v2h-2zM1988.9 1723.5h2v2h-2zM1968.6 1713.7h2v2h-2zM2020.5 1707.0h2v2h-2zM1991.9 1723.9h2v2h-2zM1961.8 1723.5h2v2h-2zM1979.5 1727.8h2v2h-2zM1985.8 1720.4h2v2h-2zM1960.5 1725.2h2v2h-2zM1985.0 1727.1h2v2h-2zM2022.3 1715.1h2v2h-2zM2000.2 1718.5h2v2h-2zM1996.7 1721.4h2v2h-2zM2003.9 1710.1h2v2h-2zM1951.7 1731.5h2v2h-2zM1936.1 1750.4h2v2h-2zM1966.3 1717.0h2v2h-2zM1956.2 1747.0h2v2h-2zM2000.8 1721.6h2v2h-2zM1980.4 1729.2h2v2h-2zM2015.4 1707.1h2v2h-2zM2013.3 1720.9h2v2h-2zM2002.2 1720.0h2v2h-2zM1948.6 1731.4h2v2h-2zM1969.5 1727.1h2v2h-2zM1983.0 1738.2h2v2h-2zM1968.0 1736.4h2v2h-2zM1954.6 1738.8h2v2h-2zM1992.1 1742.0h2v2h-2zM1952.7 1741.4h2v2h-2zM1981.0 1745.1h2v2h-2zM2025.8 1724.4h2v2h-2zM1963.6 1736.6h2v2h-2zM2004.8 1727.3h2v2h-2zM1977.9 1731.7h2v2h-2zM1967.4 1734.9h2v2h-2zM1991.3 1723.6h2v2h-2zM1969.9 1725.1h2v2h-2zM1958.1 1736.6h2v2h-2zM1949.5 1755.7h2v2h-2zM1957.9 1737.0h2v2h-2zM1999.8 1731.0h2v2h-2zM1991.7 1724.5h2v2h-2zM1984.9 1714.9h2v2h-2zM1971.8 1729.7h2v2h-2zM1973.3 1717.9h2v2h-2zM1970.8 1719.9h2v2h-2zM1984.8 1719.9h2v2h-2zM2020.4 1718.3h2v2h-2zM2008.8 1727.9h2v2h-2zM1955.5 1731.1h2v2h-2zM1983.0 1749.8h2v2h-2zM1987.7 1733.2h2v2h-2zM2014.4 1723.6h2v2h-2zM1967.6 1726.1h2v2h-2zM2010.1 1691.3h2v2h-2zM1941.9 1747.4h2v2h-2zM1983.0 1727.7h2v2h-2zM1991.8 1739.7h2v2h-2zM2008.1 1723.4h2v2h-2zM1970.2 1722.3h2v2h-2zM1994.9 1718.5h2v2h-2zM2010.2 1714.3h2v2h-2zM1995.0 1743.0h2v2h-2zM2003.8 1732.8h2v2h-2zM1981.4 1722.0h2v2h-2zM2021.4 1724.6h2v2h-2zM1991.7 1709.6h2v2h-2zM2015.7 1711.3h2v2h-2zM1997.4 1715.9h2v2h-2zM1975.8 1739.1h2v2h-2zM2001.2 1711.7h2v2h-2zM1953.6 1730.5h2v2h-2zM1977.8 1731.3h2v2h-2zM1991.4 1725.3h2v2h-2zM1965.4 1738.3h2v2h-2zM1985.3 1725.0h2v2h-2zM1982.5 1735.8h2v2h-2zM2013.5 1716.5h2v2h-2zM1969.7 1740.3h2v2h-2zM1985.6 1721.3h2v2h-2zM2015.1 1727.6h2v2h-2zM1952.3 1744.0h2v2h-2zM2021.1 1715.4h2v2h-2zM1965.6 1743.4h2v2h-2zM2001.8 1724.6h2v2h-2zM1975.5 1719.9h2v2h-2zM2009.3 1717.7h2v2h-2zM1992.0 1726.8h2v2h-2zM1956.1 1736.6h2v2h-2zM1952.7 1745.4h2v2h-2zM2003.2 1726.1h2v2h-2zM1972.2 1746.9h2v2h-2z" fill="#2c7bb9" fill-opacity="0.38"/>
<path d="M1940.4 1735.4h2v2h-2zM1994.9 1723.4h2v2h-2zM2000.4 1717.1h2v2h-2zM1978.6 1725.9h2v2h-2zM2020.9 1709.0h2v2h-2zM2006.9 1723.6h2v2h-2zM1997.4 1721.5h2v2h-2zM2000.8 1718.2h2v2h-2zM1992.3 1721.4h2v2h-2zM1993.6 1720.2h2v2h-2zM2034.0 1690.7h2v2h-2zM1945.3 1736.2h2v2h-2zM2010.9 1731.5h2v2h-2zM1997.0 1730.0h2v2h-2zM2001.8 1732.8h2v2h-2zM1991.4 1707.9h2v2h-2zM1977.2 1736.4h2v2h-2zM1977.1 1739.5h2v2h-2zM2020.3 1723.9h2v2h-2zM1934.0 1743.8h2v2h-2zM1989.3 1729.4h2v2h-2zM1925.9 1760.3h2v2h-2zM1986.6 1731.9h2v2h-2zM1950.2 1746.2h2v2h-2zM1978.3 1720.1h2v2h-2zM1977.7 1729.1h2v2h-2zM1971.0 1723.1h2v2h-2zM1983.4 1746.3h2v2h-2zM2020.4 1702.9h2v2h-2zM1933.2 1745.4h2v2h-2zM1998.3 1719.1h2v2h-2zM2002.0 1737.7h2v2h-2zM1990.8 1728.6h2v2h-2zM2000.4 1740.2h2v2h-2zM2010.9 1722.8h2v2h-2zM1967.2 1737.8h2v2h-2zM1984.0 1722.3h2v2h-2zM1983.0 1750.4h2v2h-2zM1965.1 1725.8h2v2h-2zM2013.8 1702.3h2v2h-2zM2000.9 1718.5h2v2h-2zM1968.1 1748.4h2v2h-2zM2007.2 1716.5h2v2h-2zM2039.3 1720.2h2v2h-2zM1967.0 1752.7h2v2h-2zM2014.4 1718.6h2v2h-2zM1989.7 1732.8h2v2h-2zM1951.4 1718.1h2v2h-2zM1994.7 1715.7h2v2h-2zM2017.3 1722.9h2v2h-2zM1972.6 1715.7h2v2h-2zM1956.8 1745.7h2v2h-2zM1988.6 1727.4h2v2h-2zM1987.4 1719.9h2v2h-2zM1980.0 1747.7h2v2h-2zM1991.7 1715.5h2v2h-2zM1989.7 1716.8h2v2h-2zM1986.9 1725.1h2v2h-2zM2000.9 1731.7h2v2h-2zM1983.5 1731.4h2v2h-2zM1980.3 1726.5h2v2h-2zM1991.3 1721.9h2v2h-2zM1989.3 1724.2h2v2h-2zM1960.5 1735.4h2v2h-2zM1977.4 1729.4h2v2h-2zM1987.5 1723.7h2v2h-2zM1979.7 1722.9h2v2h-2zM2014.1 1704.4h2v2h-2zM1975.3 1706.6h2v2h-2zM2008.8 1723.4h2v2h-2zM1980.2 1750.6h2v2h-2zM2013.3 1732.4h2v2h-2zM1998.4 1732.8h2v2h-2zM2011.4 1721.7h2v2h-2zM1996.8 1730.0h2v2h-2zM2038.3 1705.9h2v2h-2zM1970.4 1746.0h2v2h-2zM2016.4 1719.2h2v2h-2zM2007.4 1722.9h2v2h-2zM2013.8 1724.9h2v2h-2zM1948.2 1732.8h2v2h-2zM2001.6 1715.2h2v2h-2zM2022.3 1714.6h2v2h-2zM2006.1 1708.6h2v2h-2zM2004.9 1723.2h2v2h-2zM1964.2 1742.2h2v2h-2zM1988.1 1718.2h2v2h-2zM2012.5 1717.0h2v2h-2zM1974.7 1739.6h2v2h-2zM1994.5 1737.8h2v2h-2zM1989.1 1720.7h2v2h-2zM2012.1 1733.0h2v2h-2zM2003.0 1719.3h2v2h-2zM2017.3 1717.1h2v2h-2zM2004.0 1727.8h2v2h-2zM1995.1 1724.0h2v2h-2zM1968.7 1734.6h2v2h-2zM1987.3 1712.0h2v2h-2zM1986.5 1719.5h2v2h-2zM1998.9 1707.6h2v2h-2zM2006.8 1714.3h2v2h-2zM2002.5 1719.4h2v2h-2zM1964.4 1746.1h2v2h-2zM1982.3 1730.4h2v2h-2zM1985.8 1723.2h2v2h-2zM1964.4 1736.9h2v2h-2zM1975.7 1721.4h2v2h-2zM2016.1 1714.2h2v2h-2zM1970.7 1731.3h2v2h-2zM1999.3 1720.7h2v2h-2zM1997.6 1711.7h2v2h-2zM2009.3 1715.0h2v2h-2zM2002.5 1729.2h2v2h-2zM2021.9 1721.2h2v2h-2zM1942.6 1722.4h2v2h-2zM1988.5 1712.5h2v2h-2zM1994.2 1728.7h2v2h-2zM1954.2 1730.7h2v2h-2zM2007.0 1723.2h2v2h-2zM1983.7 1728.6h2v2h-2zM1969.3 1727.6h2v2h-2zM1955.1 1731.9h2v2h-2zM1993.0 1719.3h2v2h-2zM2003.9 1706.9h2v2h-2zM2013.5 1733.6h2v2h-2zM1962.7 1728.8h2v2h-2zM1995.8 1729.2h2v2h-2zM1987.8 1743.0h2v2h-2zM1974.7 1740.3h2v2h-2zM1943.5 1740.9h2v2h-2zM1948.7 1739.6h2v2h-2zM1991.7 1734.2h2v2h-2zM1982.6 1738.6h2v2h-2zM2005.3 1715.7h2v2h-2zM2014.4 1731.7h2v2h-2zM1993.1 1742.1h2v2h-2zM2010.6 1712.8h2v2h-2zM1983.2 1734.5h2v2h-2zM1987.6 1729.2h2v2h-2zM1972.7 1750.4h2v2h-2zM1998.1 1713.2h2v2h-2zM1992.8 1718.8h2v2h-2zM1989.8 1722.2h2v2h-2zM1988.8 1716.2h2v2h-2zM2006.4 1723.5h2v2h-2zM2004.4 1726.3h2v2h-2zM2001.3 1714.7h2v2h-2zM1967.2 1732.1h2v2h-2zM2043.8 1715.7h2v2h-2zM1993.4 1725.3h2v2h-2zM1972.6 1733.0h2v2h-2zM1981.8 1740.4h2v2h-2zM1962.6 1730.4h2v2h-2zM1995.6 1720.6h2v2h-2zM1999.1 1728.6h2v2h-2zM1996.7 1724.3h2v2h-2zM1960.4 1734.6h2v2h-2zM1967.4 1738.5h2v2h-2zM1969.5 1729.1h2v2h-2zM2012.0 1703.8h2v2h-2zM2005.1 1708.5h2v2h-2zM1988.7 1723.4h2v2h-2zM1979.5 1737.3h2v2h-2zM1963.8 1746.0h2v2h-2zM1993.5 1735.9h2v2h-2zM1994.2 1743.0h2v2h-2zM1995.2 1724.7h2v2h-2zM1975.0 1735.1h2v2h-2zM1979.2 1730.7h2v2h-2zM2002.5 1710.4h2v2h-2zM1998.9 1729.9h2v2h-2zM1957.8 1748.0h2v2h-2zM1954.2 1753.3h2v2h-2zM2017.5 1718.7h2v2h-2zM1972.8 1721.4h2v2h-2zM1959.5 1721.9h2v2h-2zM2010.3 1710.9h2v2h-2zM1985.5 1733.8h2v2h-2zM2009.4 1725.3h2v2h-2zM1992.7 1712.0h2v2h-2zM1956.2 1730.4h2v2h-2zM1985.6 1727.1h2v2h-2zM2023.0 1724.4h2v2h-2zM1975.4 1746.6h2v2h-2zM2014.7 1725.8h2v2h-2zM1986.6 1734.7h2v2h-2zM2013.6 1715.1h2v2h-2zM1981.4 1721.7h2v2h-2zM1998.2 1726.1h2v2h-2zM1959.7 1749.7h2v2h-2zM1989.1 1739.4h2v2h-2zM1974.0 1732.5h2v2h-2zM1961.6 1747.3h2v2h-2zM2010.1 1712.6h2v2h-2zM1987.3 1723.4h2v2h-2zM1964.7 1744.3h2v2h-2zM2027.0 1719.3h2v2h-2zM1962.0 1720.4h2v2h-2zM1984.7 1737.8h2v2h-2zM1990.9 1734.9h2v2h-2zM1974.5 1728.1h2v2h-2zM1988.2 1734.6h2v2h-2zM1989.2 1726.3h2v2h-2zM2013.9 1726.7h2v2h-2zM1978.1 1721.1h2v2h-2zM2048.2 1693.6h2v2h-2zM1987.5 1706.5h2v2h-2zM1994.6 1726.9h2v2h-2zM2000.6 1722.9h2v2h-2zM1979.1 1732.7h2v2h-2zM2002.3 1705.0h2v2h-2zM1988.3 1715.8h2v2h-2zM1969.8 1741.4h2v2h-2zM1938.7 1729.3h2v2h-2zM1975.3 1727.1h2v2h-2zM2017.6 1728.2h2v2h-2zM1946.2 1739.4h2v2h-2zM1998.7 1712.3h2v2h-2zM1981.1 1734.6h2v2h-2zM2006.0 1722.8h2v2h-2zM1992.6 1725.6h2v2h-2zM1972.0 1738.1h2v2h-2zM2015.2 1717.5h2v2h-2zM2010.9 1726.4h2v2h-2zM1973.8 1745.0h2v2h-2zM1999.2 1720.7h2v2h-2zM1995.7 1720.4h2v2h-2zM1991.6 1727.9h2v2h-2zM1977.5 1732.0h2v2h-2zM1985.3 1715.4h2v2h-2zM1985.2 1718.1h2v2h-2zM1971.8 1721.7h2v2h-2zM1955.0 1746.7h2v2h-2zM2018.7 1711.0h2v2h-2zM1976.5 1719.6h2v2h-2zM2020.1 1725.7h2v2h-2zM1976.9 1725.9h2v2h-2zM1985.6 1720.2h2v2h-2zM2003.7 1721.2h2v2h-2zM1998.3 1729.2h2v2h-2zM2006.6 1727.9h2v2h-2zM1992.3 1733.5h2v2h-2zM1960.6 1740.1h2v2h-2zM2002.6 1717.3h2v2h-2zM1971.5 1733.6h2v2h-2zM1970.2 1746.9h2v2h-2zM1989.6 1710.1h2v2h-2zM1982.0 1735.6h2v2h-2zM1949.6 1728.0h2v2h-2zM1989.1 1729.5h2v2h-2zM2004.7 1707.2h2v2h-2zM1978.5 1734.7h2v2h-2zM1980.5 1717.0h2v2h-2zM1965.3 1713.0h2v2h-2zM1995.3 1715.9h2v2h-2zM1990.5 1734.5h2v2h-2zM1983.0 1754.3h2v2h-2zM1961.9 1724.9h2v2h-2zM1969.9 1737.1h2v2h-2zM1959.3 1732.1h2v2h-2zM2000.5 1715.2h2v2h-2zM1961.1 1730.5h2v2h-2zM1956.4 1727.9h2v2h-2zM1973.0 1739.7h2v2h-2zM2014.5 1712.8h2v2h-2zM2018.5 1725.9h2v2h-2zM2019.7 1714.0h2v2h-2zM1952.9 1752.9h2v2h-2zM1964.5 1740.5h2v2h-2zM1981.7 1711.2h2v2h-2zM1977.5 1739.4h2v2h-2zM2014.8 1729.1h2v2h-2zM1997.4 1728.6h2v2h-2zM1990.0 1731.4h2v2h-2zM1961.9 1735.7h2v2h-2zM2007.4 1717.2h2v2h-2zM2001.5 1723.0h2v2h-2zM1995.3 1734.1h2v2h-2zM1965.6 1732.7h2v2h-2zM1969.6 1737.5h2v2h-2zM2014.2 1715.1h2v2h-2zM1974.6 1735.3h2v2h-2zM2028.9 1718.0h2v2h-2zM1987.1 1741.1h2v2h-2zM1992.0 1718.7h2v2h-2zM1985.4 1718.0h2v2h-2zM1973.3 1725.9h2v2h-2zM1978.9 1724.3h2v2h-2zM1995.0 1722.3h2v2h-2zM1991.8 1732.3h2v2h-2zM1998.7 1729.8h2v2h-2zM2004.5 1725.4h2v2h-2zM1943.2 1743.2h2v2h-2zM2025.6 1703.3h2v2h-2zM1970.9 1737.8h2v2h-2zM2021.3 1702.4h2v2h-2zM1977.8 1737.1h2v2h-2zM2012.1 1712.3h2v2h-2zM1990.4 1721.5h2v2h-2zM1995.5 1726.3h2v2h-2zM1959.2 1715.7h2v2h-2zM1996.8 1732.5h2v2h-2zM1975.5 1729.9h2v2h-2zM1957.9 1748.2h2v2h-2zM1998.9 1743.1h2v2h-2zM1926.4 1748.6h2v2h-2zM1979.3 1727.5h2v2h-2zM2000.1 1735.8h2v2h-2zM1995.1 1717.0h2v2h-2zM2002.2 1722.7h2v2h-2zM1981.0 1730.3h2v2h-2zM2005.8 1700.7h2v2h-2zM1966.4 1737.5h2v2h-2zM1978.6 1736.4h2v2h-2zM1979.3 1735.1h2v2h-2zM1966.6 1720.8h2v2h-2zM2009.8 1716.5h2v2h-2zM1974.0 1738.9h2v2h-2zM1977.9 1715.5h2v2h-2zM1950.2 1745.0h2v2h-2zM1976.5 1721.3h2v2h-2zM1975.3 1711.0h2v2h-2zM1948.3 1740.2h2v2h-2zM1966.2 1725.8h2v2h-2zM2013.7 1718.9h2v2h-2z" fill="#2c7bb9" fill-opacity="0.38"/>
<path d="M2004.2 1733.3h2v2h-2zM2020.4 1703.4h2v2h-2zM1967.5 1730.9h2v2h-2zM1977.5 1729.7h2v2h-2zM1979.2 1727.9h2v2h-2zM1990.7 1723.7h2v2h-2zM1998.1 1724.2h2v2h-2zM1955.5 1750.5h2v2h-2zM1973.4 1742.0h2v2h-2zM2003.9 1722.6h2v2h-2zM2019.2 1716.6h2v2h-2zM1958.3 1749.1h2v2h-2zM2019.5 1717.7h2v2h-2zM1976.1 1721.0h2v2h-2zM1999.0 1738.0h2v2h-2zM2012.7 1709.4h2v2h-2zM1983.1 1732.6h2v2h-2zM1994.3 1719.9h2v2h-2zM1971.8 1711.7h2v2h-2zM1998.3 1708.0h2v2h-2zM1993.7 1727.9h2v2h-2zM1946.9 1733.2h2v2h-2zM1972.6 1734.3h2v2h-2zM1964.2 1747.6h2v2h-2zM2004.9 1704.1h2v2h-2zM1985.7 1718.6h2v2h-2zM1998.8 1716.3h2v2h-2zM1982.4 1740.3h2v2h-2zM1970.2 1730.2h2v2h-2zM1955.6 1752.8h2v2h-2zM1981.9 1734.5h2v2h-2zM1961.5 1733.2h2v2h-2zM1958.5 1729.1h2v2h-2zM2006.4 1718.3h2v2h-2zM2008.6 1735.6h2v2h-2zM2009.8 1720.7h2v2h-2zM1976.7 1749.5h2v2h-2zM1983.8 1729.0h2v2h-2zM1956.2 1729.6h2v2h-2zM2013.5 1718.2h2v2h-2zM1977.5 1739.7h2v2h-2zM1963.3 1718.7h2v2h-2zM1967.8 1747.1h2v2h-2zM1961.3 1717.6h2v2h-2zM1966.6 1727.4h2v2h-2zM1978.5 1735.8h2v2h-2zM2002.7 1704.7h2v2h-2zM1971.2 1733.9h2v2h-2zM1984.8 1748.6h2v2h-2zM1954.6 1741.0h2v2h-2zM1990.7 1742.7h2v2h-2zM1987.2 1708.2h2v2h-2zM2001.5 1716.7h2v2h-2zM2001.9 1712.3h2v2h-2zM1956.5 1726.1h2v2h-2zM1967.4 1741.9h2v2h-2zM1958.0 1727.4h2v2h-2zM1973.1 1732.7h2v2h-2zM1977.2 1741.3h2v2h-2zM1994.3 1739.3h2v2h-2zM2010.3 1716.9h2v2h-2zM1985.4 1729.4h2v2h-2zM1990.7 1729.6h2v2h-2zM1967.4 1727.8h2v2h-2zM1968.7 1742.1h2v2h-2zM1979.5 1721.3h2v2h-2zM1984.4 1717.6h2v2h-2zM2000.4 1728.5h2v2h-2zM1978.9 1721.0h2v2h-2zM1977.4 1712.9h2v2h-2zM1939.6 1748.2h2v2h-2zM1981.4 1730.6h2v2h-2zM1987.6 1736.2h2v2h-2zM1989.9 1723.9h2v2h-2zM2003.5 1720.6h2v2h-2zM1950.7 1736.9h2v2h-2zM1990.3 1727.8h2v2h-2zM2013.3 1724.2h2v2h-2zM2023.5 1704.0h2v2h-2zM1980.3 1732.1h2v2h-2zM1967.9 1719.9h2v2h-2zM1962.0 1740.4h2v2h-2zM1978.9 1720.9h2v2h-2zM1975.5 1744.8h2v2h-2zM2007.3 1733.4h2v2h-2zM1958.4 1748.4h2v2h-2zM1968.2 1737.7h2v2h-2zM1951.4 1738.7h2v2h-2zM1980.2 1734.7h2v2h-2zM1969.2 1749.0h2v2h-2zM1993.7 1729.7h2v2h-2zM1966.2 1738.4h2v2h-2zM1978.6 1743.9h2v2h-2zM1934.3 1757.3h2v2h-2zM1981.4 1711.8h2v2h-2zM1964.6 1721.6h2v2h-2zM1993.8 1701.5h2v2h-2zM1988.7 1722.7h2v2h-2zM2002.9 1720.2h2v2h-2zM1982.8 1720.8h2v2h-2zM1964.5 1729.6h2v2h-2zM1945.0 1727.3h2v2h-2zM1967.5 1749.4h2v2h-2zM2012.2 1722.6h2v2h-2zM2001.9 1701.2h2v2h-2zM1947.6 1716.9h2v2h-2zM2006.0 1716.4h2v2h-2zM1936.9 1753.8h2v2h-2zM1983.4 1738.4h2v2h-2zM2012.6 1714.5h2v2h-2zM1960.7 1744.1h2v2h-2zM1994.2 1716.0h2v2h-2zM1973.9 1744.7h2v2h-2zM1970.5 1727.4h2v2h-2zM1942.6 1734.0h2v2h-2zM2027.6 1714.6h2v2h-2zM1973.9 1751.2h2v2h-2zM1966.3 1719.4h2v2h-2zM1999.7 1719.3h2v2h-2zM2045.7 1712.2h2v2h-2zM1962.8 1724.4h2v2h-2zM1965.6 1713.4h2v2h-2zM1980.0 1731.3h2v2h-2zM1990.5 1726.2h2v2h-2zM1996.9 1729.2h2v2h-2zM2014.4 1713.7h2v2h-2zM1998.3 1721.0h2v2h-2zM1991.2 1744.9h2v2h-2zM2016.6 1724.4h2v2h-2zM1960.8 1744.5h2v2h-2zM1986.8 1725.5h2v2h-2zM2020.1 1721.0h2v2h-2zM1967.9 1732.2h2v2h-2zM1997.7 1733.1h2v2h-2zM1996.4 1727.5h2v2h-2zM1973.0 1725.8h2v2h-2zM1980.7 1725.6h2v2h-2zM2011.5 1707.1h2v2h-2zM1977.1 1714.9h2v2h-2zM1965.1 1737.4h2v2h-2zM2014.6 1728.7h2v2h-2zM1976.9 1743.1h2v2h-2zM1986.7 1728.7h2v2h-2zM1988.1 1730.2h2v2h-2zM1999.1 1727.1h2v2h-2zM1992.8 1728.7h2v2h-2zM2001.1 1715.2h2v2h-2zM1988.3 1734.3h2v2h-2zM2004.2 1724.5h2v2h-2zM1991.3 1720.6h2v2h-2zM1991.0 1730.7h2v2h-2zM2010.8 1716.3h2v2h-2zM1986.5 1732.0h2v2h-2zM1992.8 1719.0h2v2h-2zM1956.3 1737.3h2v2h-2zM1961.9 1728.4h2v2h-2zM1995.4 1713.1h2v2h-2zM1958.8 1741.7h2v2h-2zM1994.3 1718.4h2v2h-2zM2011.0 1701.1h2v2h-2zM2006.6 1732.4h2v2h-2zM1998.2 1727.3h2v2h-2zM2001.1 1711.5h2v2h-2zM2014.1 1720.4h2v2h-2zM1950.5 1733.0h2v2h-2zM1995.5 1734.6h2v2h-2zM2033.4 1723.2h2v2h-2zM1970.0 1725.2h2v2h-2zM1998.8 1714.1h2v2h-2zM2013.0 1729.2h2v2h-2zM1974.2 1745.2h2v2h-2zM1990.3 1722.4h2v2h-2zM1963.4 1728.6h2v2h-2zM1977.9 1730.1h2v2h-2zM1991.8 1709.8h2v2h-2zM1955.8 1727.6h2v2h-2zM1959.9 1725.4h2v2h-2zM1965.1 1728.1h2v2h-2zM1979.0 1704.7h2v2h-2zM1962.1 1727.3h2v2h-2zM1979.9 1740.2h2v2h-2zM1989.5 1734.5h2v2h-2zM1965.4 1737.9h2v2h-2zM1951.6 1727.8h2v2h-2zM1987.4 1724.2h2v2h-2zM2002.7 1709.1h2v2h-2zM1952.1 1739.7h2v2h-2zM1976.7 1742.2h2v2h-2zM2051.2 1711.8h2v2h-2zM1982.6 1734.8h2v2h-2zM1966.7 1717.4h2v2h-2zM1986.5 1727.6h2v2h-2zM2000.4 1730.3h2v2h-2zM1983.4 1701.9h2v2h-2zM1982.6 1742.9h2v2h-2zM1948.3 1731.5h2v2h-2zM1995.7 1742.5h2v2h-2zM1935.0 1741.7h2v2h-2zM2004.7 1699.1h2v2h-2zM1984.3 1716.7h2v2h-2zM1991.2 1733.2h2v2h-2zM1959.2 1720.9h2v2h-2zM1967.1 1743.4h2v2h-2zM1989.8 1726.7h2v2h-2zM2003.6 1714.9h2v2h-2zM1996.4 1722.7h2v2h-2zM1999.3 1716.4h2v2h-2zM1967.0 1733.2h2v2h-2zM1992.5 1731.2h2v2h-2zM1976.4 1727.1h2v2h-2zM1951.8 1734.2h2v2h-2zM1992.8 1726.8h2v2h-2zM1990.7 1726.1h2v2h-2zM1987.1 1736.9h2v2h-2zM1967.6 1752.5h2v2h-2zM1990.7 1729.0h2v2h-2zM2027.3 1719.5h2v2h-2zM2014.6 1711.0h2v2h-2zM1999.3 1729.4h2v2h-2zM1977.5 1713.0h2v2h-2zM1979.5 1739.4h2v2h-2zM1965.9 1740.0h2v2h-2zM2021.4 1711.2h2v2h-2zM2007.0 1719.7h2v2h-2zM1967.5 1745.4h2v2h-2zM1981.8 1722.6h2v2h-2zM1976.8 1734.6h2v2h-2zM2026.5 1707.9h2v2h-2zM1944.9 1733.5h2v2h-2zM1968.8 1747.0h2v2h-2zM2013.7 1713.0h2v2h-2zM1992.3 1736.2h2v2h-2zM1988.6 1721.5h2v2h-2zM1975.1 1740.0h2v2h-2zM2014.9 1713.9h2v2h-2zM1994.2 1706.6h2v2h-2zM2016.7 1708.7h2v2h-2zM1931.4 1743.1h2v2h-2zM1991.3 1726.5h2v2h-2zM1961.5 1737.0h2v2h-2zM1954.0 1720.9h2v2h-2zM1970.9 1723.7h2v2h-2zM2027.8 1717.6h2v2h-2zM1957.7 1740.2h2v2h-2zM2051.3 1716.9h2v2h-2zM2034.3 1711.0h2v2h-2zM1987.4 1721.9h2v2h-2zM2003.1 1712.4h2v2h-2zM1991.3 1718.8h2v2h-2zM1972.6 1742.1h2v2h-2zM1994.7 1729.9h2v2h-2zM2006.9 1717.9h2v2h-2zM1996.6 1713.6h2v2h-2zM2028.1 1733.3h2v2h-2zM1965.8 1728.6h2v2h-2zM2001.4 1717.5h2v2h-2zM1978.2 1723.3h2v2h-2zM1992.8 1715.9h2v2h-2zM1990.8 1734.1h2v2h-2zM1991.0 1729.1h2v2h-2zM1973.3 1739.0h2v2h-2zM1970.1 1727.5h2v2h-2zM1971.1 1728.9h2v2h-2zM2019.7 1721.1h2v2h-2zM1976.8 1725.5h2v2h-2zM1952.1 1743.4h2v2h-2zM1976.5 1734.8h2v2h-2zM2000.7 1731.4h2v2h-2zM1985.0 1735.0h2v2h-2zM1977.4 1747.3h2v2h-2zM2017.5 1732.0h2v2h-2zM1983.8 1738.5h2v2h-2zM1959.2 1739.7h2v2h-2zM1994.3 1718.1h2v2h-2zM1972.0 1721.9h2v2h-2zM1996.4 1707.4h2v2h-2zM2020.0 1734.4h2v2h-2zM2011.9 1716.9h2v2h-2zM1987.2 1722.8h2v2h-2zM1995.4 1727.2h2v2h-2zM1991.7 1723.2h2v2h-2zM1962.5 1754.7h2v2h-2zM2003.6 1702.4h2v2h-2zM1991.4 1731.4h2v2h-2zM1971.1 1737.4h2v2h-2zM1948.3 1745.3h2v2h-2zM1989.9 1727.6h2v2h-2zM2000.5 1736.2h2v2h-2zM2000.6 1715.6h2v2h-2zM1963.2 1722.0h2v2h-2zM1996.3 1725.2h2v2h-2zM2005.5 1730.6h2v2h-2zM1990.4 1725.4h2v2h-2zM2001.9 1720.9h2v2h-2zM1984.7 1719.3h2v2h-2zM2014.3 1711.5h2v2h-2zM2022.4 1725.8h2v2h-2zM2015.9 1715.3h2v2h-2zM2003.4 1723.8h2v2h-2zM1949.5 1740.8h2v2h-2zM1978.2 1715.6h2v2h-2zM2007.6 1710.1h2v2h-2zM2004.9 1728.0h2v2h-2zM1986.3 1733.8h2v2h-2zM1965.7 1736.3h2v2h-2zM2003.5 1725.3h2v2h-2zM2016.2 1713.7h2v2h-2zM2013.7 1722.1h2v2h-2zM2003.7 1720.2h2v2h-2zM1981.5 1724.5h2v2h-2zM1969.9 1733.6h2v2h-2zM1990.1 1727.9h2v2h-2zM1924.7 1745.2h2v2h-2zM1999.2 1701.4h2v2h-2zM1979.2 1715.7h2v2h-2zM2000.0 1719.2h2v2h-2zM2027.5 1724.7h2v2h-2zM2006.7 1710.5h2v2h-2zM2019.3 1708.6h2v2h-2zM1954.0 1737.8h2v2h-2zM1961.7 1735.4h2v2h-2zM1992.0 1701.4h2v2h-2zM1978.0 1740.1h2v2h-2zM1974.2 1742.4h2v2h-2zM1970.9 1736.2h2v2h-2z" fill="#2c7bb9" fill-opacity="0.38"/>
<path d="M2004.9 1725.7h2v2h-2zM2006.1 1707.6h2v2h-2zM2006.0 1713.9h2v2h-2zM1949.6 1739.9h2v2h-2zM1961.2 1736.7h2v2h-2zM1985.1 1721.4h2v2h-2zM2017.2 1719.2h2v2h-2zM1956.3 1738.6h2v2h-2zM2015.5 1716.7h2v2h-2zM1989.3 1710.0h2v2h-2zM2017.4 1707.6h2v2h-2zM1969.4 1749.0h2v2h-2zM2038.6 1724.3h2v2h-2zM1983.6 1739.9h2v2h-2zM1977.5 1727.5h2v2h-2zM1985.2 1716.1h2v2h-2zM1981.0 1731.3h2v2h-2zM2020.8 1731.9h2v2h-2zM1976.6 1722.7h2v2h-2zM1964.2 1737.2h2v2h-2zM2020.8 1729.6h2v2h-2zM2011.7 1728.8h2v2h-2zM1955.2 1732.7h2v2h-2zM1991.4 1729.5h2v2h-2zM1960.9 1738.3h2v2h-2zM1971.7 1707.1h2v2h-2zM1975.2 1733.6h2v2h-2zM2024.3 1719.9h2v2h-2zM1979.9 1738.4h2v2h-2zM1990.2 1734.2h2v2h-2zM1955.0 1735.8h2v2h-2zM1987.1 1720.9h2v2h-2zM1971.5 1712.9h2v2h-2zM1968.1 1738.6h2v2h-2zM2018.4 1720.3h2v2h-2zM1968.6 1741.1h2v2h-2zM2021.8 1722.1h2v2h-2zM1992.1 1723.8h2v2h-2zM1937.7 1735.3h2v2h-2zM1947.8 1740.3h2v2h-2zM2007.7 1727.8h2v2h-2zM1972.7 1736.7h2v2h-2zM1975.2 1726.2h2v2h-2zM2001.7 1735.0h2v2h-2zM1981.8 1735.0h2v2h-2zM2010.2 1719.0h2v2h-2zM1972.3 1707.0h2v2h-2zM2011.6 1712.5h2v2h-2zM1978.3 1739.9h2v2h-2zM2011.5 1737.7h2v2h-2zM2008.2 1737.3h2v2h-2zM1965.3 1723.9h2v2h-2zM2027.9 1716.7h2v2h-2zM1992.2 1721.6h2v2h-2zM1999.5 1714.1h2v2h-2zM2006.9 1727.2h2v2h-2zM1955.4 1733.0h2v2h-2zM1995.9 1721.6h2v2h-2zM2016.5 1723.2h2v2h-2zM1990.2 1719.0h2v2h-2zM1974.8 1727.1h2v2h-2zM2002.6 1713.3h2v2h-2zM1989.0 1723.5h2v2h-2zM1986.4 1731.0h2v2h-2zM1985.5 1728.3h2v2h-2zM2016.8 1721.2h2v2h-2zM1949.2 1745.0h2v2h-2zM1988.7 1725.6h2v2h-2zM1982.4 1734.3h2v2h-2zM1984.2 1725.2h2v2h-2zM1991.8 1729.6h2v2h-2zM1968.5 1737.8h2v2h-2zM2001.8 1711.0h2v2h-2zM1972.3 1723.1h2v2h-2zM1987.2 1722.2h2v2h-2zM1945.1 1746.2h2v2h-2zM1951.5 1737.2h2v2h-2zM1962.8 1733.9h2v2h-2zM1966.5 1734.2h2v2h-2zM1963.1 1729.9h2v2h-2zM2004.2 1708.8h2v2h-2zM2002.8 1717.8h2v2h-2zM1975.1 1717.6h2v2h-2zM1988.4 1740.0h2v2h-2zM1980.2 1742.9h2v2h-2zM1963.3 1724.6h2v2h-2zM1976.4 1721.4h2v2h-2zM2012.5 1706.6h2v2h-2zM1997.5 1722.5h2v2h-2zM1944.5 1732.2h2v2h-2zM1997.9 1722.2h2v2h-2zM1981.9 1720.1h2v2h-2zM1989.3 1707.2h2v2h-2zM1988.7 1725.8h2v2h-2zM1967.2 1727.9h2v2h-2zM1958.6 1740.1h2v2h-2zM2020.5 1716.7h2v2h-2zM2018.3 1719.3h2v2h-2zM1985.0 1718.1h2v2h-2zM1968.6 1733.0h2v2h-2zM1960.4 1728.2h2v2h-2zM2001.8 1724.3h2v2h-2zM1983.0 1727.2h2v2h-2zM2005.8 1714.8h2v2h-2zM1975.2 1727.5h2v2h-2zM1977.8 1730.7h2v2h-2zM1954.6 1741.2h2v2h-2zM1993.2 1722.5h2v2h-2zM1957.6 1744.3h2v2h-2zM1982.0 1701.5h2v2h-2zM1965.6 1729.2h2v2h-2zM2015.5 1704.5h2v2h-2zM1979.3 1727.2h2v2h-2zM2010.8 1719.9h2v2h-2zM1975.2 1740.3h2v2h-2zM1994.6 1734.4h2v2h-2zM2001.4 1717.0h2v2h-2zM1974.4 1717.2h2v2h-2zM2038.6 1726.3h2v2h-2zM1978.5 1723.0h2v2h-2zM1977.0 1731.1h2v2h-2zM2016.3 1709.8h2v2h-2zM2012.4 1731.1h2v2h-2zM1981.5 1722.5h2v2h-2zM1980.3 1732.8h2v2h-2zM2019.5 1720.7h2v2h-2zM1958.1 1736.7h2v2h-2zM1998.6 1713.6h2v2h-2zM1984.4 1738.1h2v2h-2zM1979.5 1719.3h2v2h-2zM1991.2 1714.4h2v2h-2zM1967.1 1720.9h2v2h-2zM1986.9 1728.4h2v2h-2zM2011.5 1698.2h2v2h-2zM1995.7 1730.7h2v2h-2zM1977.9 1720.5h2v2h-2zM2005.8 1735.5h2v2h-2zM1995.3 1725.0h2v2h-2zM1961.7 1736.1h2v2h-2zM1998.9 1710.3h2v2h-2zM1942.6 1750.4h2v2h-2zM1970.9 1723.6h2v2h-2zM2012.3 1712.5h2v2h-2zM1974.6 1744.5h2v2h-2zM1960.8 1725.3h2v2h-2zM1991.1 1717.1h2v2h-2zM1983.1 1731.7h2v2h-2zM1945.6 1745.8h2v2h-2zM2030.0 1726.9h2v2h-2zM1975.7 1719.2h2v2h-2zM2050.3 1698.7h2v2h-2zM1996.2 1718.7h2v2h-2zM1977.3 1725.5h2v2h-2zM1968.3 1734.4h2v2h-2zM1999.2 1734.5h2v2h-2zM1977.2 1718.6h2v2h-2zM1981.4 1729.6h2v2h-2zM1968.6 1752.5h2v2h-2zM2020.4 1718.3h2v2h-2zM2037.0 1715.2h2v2h-2zM1932.4 1748.6h2v2h-2zM1976.4 1728.8h2v2h-2zM1999.1 1724.5h2v2h-2zM2032.6 1718.2h2v2h-2zM1925.6 1746.9h2v2h-2zM1980.2 1734.4h2v2h-2zM1955.3 1737.4h2v2h-2zM1980.1 1741.1h2v2h-2zM1957.6 1745.0h2v2h-2zM1950.8 1739.9h2v2h-2zM1994.4 1714.2h2v2h-2zM2006.5 1722.1h2v2h-2zM1981.2 1724.4h2v2h-2zM1959.8 1737.3h2v2h-2zM2007.8 1709.6h2v2h-2zM1954.4 1742.7h2v2h-2zM1976.3 1735.6h2v2h-2zM1967.6 1735.4h2v2h-2zM2018.5 1735.0h2v2h-2zM1968.5 1731.7h2v2h-2zM1958.6 1735.2h2v2h-2zM1946.4 1727.3h2v2h-2zM1994.3 1724.7h2v2h-2zM1980.4 1715.3h2v2h-2zM1963.1 1739.9h2v2h-2zM1959.0 1739.4h2v2h-2zM2017.1 1716.4h2v2h-2zM1988.5 1710.9h2v2h-2zM1932.9 1758.1h2v2h-2zM1969.6 1733.9h2v2h-2zM2007.2 1721.7h2v2h-2zM2016.5 1715.8h2v2h-2zM1979.3 1703.7h2v2h-2zM1979.2 1731.5h2v2h-2zM1992.7 1722.4h2v2h-2zM2025.1 1723.0h2v2h-2zM1930.0 1757.4h2v2h-2zM1981.2 1713.9h2v2h-2zM2002.2 1717.4h2v2h-2zM1971.3 1733.3h2v2h-2zM1961.4 1716.9h2v2h-2zM2005.7 1711.9h2v2h-2zM1943.9 1748.8h2v2h-2zM1969.8 1727.0h2v2h-2zM1990.5 1721.5h2v2h-2zM1959.4 1744.7h2v2h-2zM1993.4 1725.1h2v2h-2zM1994.5 1743.7h2v2h-2zM1979.2 1732.8h2v2h-2zM1994.5 1720.2h2v2h-2zM1971.2 1726.1h2v2h-2zM1955.1 1741.6h2v2h-2zM2001.0 1716.0h2v2h-2zM1984.2 1718.8h2v2h-2zM1975.5 1725.5h2v2h-2zM2015.8 1710.1h2v2h-2zM1941.0 1755.9h2v2h-2zM1971.6 1737.9h2v2h-2zM1964.3 1731.3h2v2h-2zM1986.3 1723.5h2v2h-2zM2010.1 1720.2h2v2h-2zM2016.6 1712.5h2v2h-2zM1961.8 1739.5h2v2h-2zM1985.8 1714.8h2v2h-2zM1981.7 1722.0h2v2h-2zM2001.8 1728.8h2v2h-2zM2023.0 1712.7h2v2h-2zM2041.0 1710.3h2v2h-2zM1974.2 1725.9h2v2h-2zM1975.7 1732.3h2v2h-2zM1997.8 1717.9h2v2h-2zM1941.4 1733.3h2v2h-2zM1999.7 1724.5h2v2h-2zM1983.7 1724.3h2v2h-2zM1958.9 1743.1h2v2h-2zM1977.3 1723.6h2v2h-2zM1964.5 1741.1h2v2h-2zM2013.5 1700.3h2v2h-2zM1951.6 1748.6h2v2h-2zM1963.1 1729.4h2v2h-2zM1969.0 1738.9h2v2h-2zM2015.6 1699.8h2v2h-2zM1996.7 1722.5h2v2h-2zM1955.3 1726.0h2v2h-2zM1975.7 1726.6h2v2h-2zM2030.1 1718.5h2v2h-2zM2021.6 1717.1h2v2h-2zM1978.3 1728.9h2v2h-2zM1979.7 1726.4h2v2h-2zM1985.1 1709.0h2v2h-2zM1961.0 1730.4h2v2h-2zM1965.7 1722.5h2v2h-2zM1972.9 1724.5h2v2h-2zM1993.5 1721.0h2v2h-2zM2014.4 1711.6h2v2h-2zM2007.4 1717.7h2v2h-2zM1964.2 1738.8h2v2h-2zM1977.1 1719.4h2v2h-2zM1964.0 1726.2h2v2h-2zM1937.1 1718.9h2v2h-2zM1974.9 1722.0h2v2h-2zM1996.0 1737.1h2v2h-2zM1953.3 1725.4h2v2h-2zM1946.0 1730.4h2v2h-2zM2031.3 1710.5h2v2h-2zM1992.6 1735.8h2v2h-2zM1985.6 1728.7h2v2h-2zM1977.1 1732.2h2v2h-2zM1964.7 1733.1h2v2h-2zM1996.1 1724.6h2v2h-2zM1964.8 1726.3h2v2h-2zM1960.1 1733.9h2v2h-2zM1946.2 1742.3h2v2h-2zM1966.9 1720.3h2v2h-2zM1984.5 1719.0h2v2h-2zM1967.2 1741.9h2v2h-2zM1997.6 1724.3h2v2h-2zM2012.4 1704.2h2v2h-2zM1978.2 1743.0h2v2h-2zM1995.6 1714.8h2v2h-2zM1968.1 1733.5h2v2h-2zM1980.2 1727.9h2v2h-2zM2020.5 1731.3h2v2h-2zM1975.7 1729.8h2v2h-2zM1984.5 1730.1h2v2h-2zM1964.3 1732.8h2v2h-2zM1967.2 1738.2h2v2h-2zM1972.0 1749.6h2v2h-2zM2012.2 1734.4h2v2h-2zM1948.9 1734.0h2v2h-2zM1999.3 1707.6h2v2h-2zM1987.3 1714.5h2v2h-2zM2014.8 1713.6h2v2h-2zM1940.8 1732.6h2v2h-2zM1979.8 1726.6h2v2h-2zM1961.3 1737.4h2v2h-2zM2028.1 1719.4h2v2h-2zM2010.4 1720.0h2v2h-2zM1996.4 1731.1h2v2h-2zM1989.4 1722.0h2v2h-2zM1928.5 1747.1h2v2h-2zM2021.3 1705.9h2v2h-2zM1977.8 1722.8h2v2h-2zM1962.9 1724.1h2v2h-2zM1983.2 1751.0h2v2h-2zM1998.4 1735.7h2v2h-2zM1993.0 1721.4h2v2h-2zM1983.2 1722.6h2v2h-2zM1993.0 1711.0h2v2h-2zM1981.5 1727.9h2v2h-2zM2001.9 1730.2h2v2h-2zM2016.0 1736.7h2v2h-2zM1962.3 1720.4h2v2h-2zM2009.4 1715.9h2v2h-2zM2019.9 1721.0h2v2h-2zM1995.8 1729.4h2v2h-2zM1963.8 1735.0h2v2h-2zM2010.6 1718.7h2v2h-2zM1979.9 1722.0h2v2h-2zM2007.2 1712.8h2v2h-2zM1993.8 1735.3h2v2h-2zM1981.5 1736.7h2v2h-2zM1937.1 1748.7h2v2h-2zM1982.1 1746.4h2v2h-2zM1961.5 1747.5h2v2h-2z" fill="#2c7bb9" fill-opacity="0.38"/>
<path d="M1915.3 1753.6h2.6v2.6h-2.6zM1927.8 1763.9h2.6v2.6h-2.6zM1937.4 1791.9h2.6v2.6h-2.6zM1964.6 1809.5h2.6v2.6h-2.6zM1987.4 1791.9h2.6v2.6h-2.6zM1975.6 1766.9h2.6v2.6h-2.6zM1956.5 1776.4h2.6v2.6h-2.6zM2051.3 1726.4h2.6v2.6h-2.6zM2041.8 1727.9h2.6v2.6h-2.6zM2058.0 1670.6h2.6v2.6h-2.6zM1944.7 1704.4h2.6v2.6h-2.6zM1996.9 1683.1h2.6v2.6h-2.6z" fill="#6f8fc0" fill-opacity="0.55"/>
<line x1="1961.50" y1="1603.00" x2="1961.50" y2="1855.00" stroke="#444" stroke-width="1.3" />
<line x1="1860.30" y1="1762.30" x2="2136.10" y2="1762.30" stroke="#444" stroke-width="1.3" />
<line x1="1872.40" y1="1843.70" x2="2123.50" y2="1614.30" stroke="#333" stroke-width="1.5" />
<rect x="1860.30" y="1603.00" width="275.80" height="252.00" fill="none" stroke="#1a1a1a" stroke-width="2.8"/>
<line x1="1853.80" y1="1836.30" x2="1860.30" y2="1836.30" stroke="#1a1a1a" stroke-width="2.8" />
<line x1="1880.50" y1="1855.00" x2="1880.50" y2="1861.50" stroke="#1a1a1a" stroke-width="2.8" />
<line x1="1853.80" y1="1762.30" x2="1860.30" y2="1762.30" stroke="#1a1a1a" stroke-width="2.8" />
<line x1="1961.50" y1="1855.00" x2="1961.50" y2="1861.50" stroke="#1a1a1a" stroke-width="2.8" />
<line x1="1853.80" y1="1688.30" x2="1860.30" y2="1688.30" stroke="#1a1a1a" stroke-width="2.8" />
<line x1="2042.50" y1="1855.00" x2="2042.50" y2="1861.50" stroke="#1a1a1a" stroke-width="2.8" />
<line x1="1853.80" y1="1614.30" x2="1860.30" y2="1614.30" stroke="#1a1a1a" stroke-width="2.8" />
<line x1="2123.50" y1="1855.00" x2="2123.50" y2="1861.50" stroke="#1a1a1a" stroke-width="2.8" />
<text x="1895.85" y="1591.20" font-size="20.60" text-anchor="start" textLength="204.93" lengthAdjust="spacingAndGlyphs" fill="#1a1a1a">dilution factor = 0.50</text>
<text x="1879.83" y="1643.20" font-size="19.20" text-anchor="start" fill="#1a1a1a">r = 0.607</text>
<ellipse cx="1674.5" cy="2044.0" rx="28.6" ry="12.3" transform="rotate(-27.0 1674.5 2044.0)" fill="#2677b5" filter="url(#blur1)"/>
<path d="M1686.8 2037.9h2v2h-2zM1659.6 2043.6h2v2h-2zM1632.9 2056.5h2v2h-2zM1669.8 2049.1h2v2h-2zM1668.4 2055.5h2v2h-2zM1663.5 2041.2h2v2h-2zM1730.1 2037.4h2v2h-2zM1673.0 2052.9h2v2h-2zM1710.9 2042.2h2v2h-2zM1691.9 2062.9h2v2h-2zM1683.1 2044.8h2v2h-2zM1691.3 2034.8h2v2h-2zM1643.2 2040.9h2v2h-2zM1650.5 2050.4h2v2h-2zM1658.0 2069.3h2v2h-2zM1678.4 2032.7h2v2h-2zM1650.8 2053.9h2v2h-2zM1670.0 2042.9h2v2h-2zM1645.9 2066.8h2v2h-2zM1670.2 2043.0h2v2h-2zM1705.5 2044.5h2v2h-2zM1682.1 2040.1h2v2h-2zM1699.5 2026.7h2v2h-2zM1692.7 2030.2h2v2h-2zM1627.1 2058.7h2v2h-2zM1672.4 2025.1h2v2h-2zM1689.4 2035.5h2v2h-2zM1693.7 2044.9h2v2h-2zM1669.1 2056.0h2v2h-2zM1658.2 2062.8h2v2h-2zM1663.3 2051.1h2v2h-2zM1706.4 2033.8h2v2h-2zM1661.0 2051.5h2v2h-2zM1672.8 2040.5h2v2h-2zM1679.2 2024.5h2v2h-2zM1715.1 2034.5h2v2h-2zM1624.3 2073.7h2v2h-2zM1667.4 2047.1h2v2h-2zM1676.2 2035.0h2v2h-2zM1673.6 2041.4h2v2h-2zM1679.3 2043.3h2v2h-2zM1672.1 2029.4h2v2h-2zM1671.8 2042.9h2v2h-2zM1708.3 2032.8h2v2h-2zM1640.2 2061.8h2v2h-2zM1700.8 2033.2h2v2h-2zM1662.8 2049.3h2v2h-2zM1681.5 2044.8h2v2h-2zM1673.1 2041.8h2v2h-2zM1692.9 2040.6h2v2h-2zM1660.4 2073.9h2v2h-2zM1665.6 2027.9h2v2h-2zM1634.7 2059.6h2v2h-2zM1681.3 2026.8h2v2h-2zM1676.2 2042.9h2v2h-2zM1693.0 2043.0h2v2h-2zM1663.6 2055.1h2v2h-2zM1658.0 2048.4h2v2h-2zM1658.9 2045.7h2v2h-2zM1672.6 2047.1h2v2h-2zM1685.9 2039.3h2v2h-2zM1669.3 2038.5h2v2h-2zM1661.3 2051.5h2v2h-2zM1671.7 2042.3h2v2h-2zM1674.2 2042.3h2v2h-2zM1704.4 2017.3h2v2h-2zM1663.3 2042.1h2v2h-2zM1664.7 2045.7h2v2h-2zM1687.2 2040.3h2v2h-2zM1662.8 2049.3h2v2h-2zM1647.9 2063.8h2v2h-2zM1685.3 2044.7h2v2h-2zM1717.6 2018.9h2v2h-2zM1664.5 2054.2h2v2h-2zM1678.4 2042.6h2v2h-2zM1666.2 2046.9h2v2h-2zM1641.2 2049.5h2v2h-2zM1694.7 2031.2h2v2h-2zM1699.3 2035.0h2v2h-2zM1648.1 2061.9h2v2h-2zM1665.1 2059.9h2v2h-2zM1680.9 2055.7h2v2h-2zM1687.3 2024.2h2v2h-2zM1644.5 2042.7h2v2h-2zM1654.9 2041.0h2v2h-2zM1654.4 2045.5h2v2h-2zM1687.6 2037.0h2v2h-2zM1664.0 2057.4h2v2h-2zM1711.8 2037.3h2v2h-2zM1665.5 2042.0h2v2h-2zM1738.6 2024.5h2v2h-2zM1677.8 2047.5h2v2h-2zM1697.0 2038.9h2v2h-2zM1664.4 2040.5h2v2h-2zM1687.4 2036.7h2v2h-2zM1669.7 2056.1h2v2h-2zM1669.3 2039.8h2v2h-2zM1715.5 2002.4h2v2h-2zM1679.5 2060.6h2v2h-2zM1682.9 2049.4h2v2h-2zM1680.0 2047.8h2v2h-2zM1668.5 2044.3h2v2h-2zM1679.4 2040.4h2v2h-2zM1704.4 2043.5h2v2h-2zM1665.9 2036.7h2v2h-2zM1681.1 2044.1h2v2h-2zM1723.4 2028.3h2v2h-2zM1686.2 2057.9h2v2h-2zM1680.0 2049.5h2v2h-2zM1696.9 2043.6h2v2h-2zM1672.5 2037.1h2v2h-2zM1690.8 2049.0h2v2h-2zM1690.9 2035.3h2v2h-2zM1681.1 2035.7h2v2h-2zM1677.6 2041.1h2v2h-2zM1694.6 2027.5h2v2h-2zM1687.4 2044.9h2v2h-2zM1701.7 2022.7h2v2h-2zM1680.7 2037.6h2v2h-2zM1652.7 2058.7h2v2h-2zM1689.8 2042.7h2v2h-2zM1643.2 2063.4h2v2h-2zM1634.5 2053.4h2v2h-2zM1677.0 2043.4h2v2h-2zM1690.3 2048.6h2v2h-2zM1644.3 2064.1h2v2h-2zM1721.3 2019.7h2v2h-2zM1657.1 2064.9h2v2h-2zM1684.6 2060.7h2v2h-2zM1687.0 2022.5h2v2h-2zM1643.3 2058.6h2v2h-2zM1690.5 2038.3h2v2h-2zM1676.7 2053.7h2v2h-2zM1662.7 2024.7h2v2h-2zM1628.3 2061.0h2v2h-2zM1668.6 2061.5h2v2h-2zM1647.0 2050.8h2v2h-2zM1679.8 2028.5h2v2h-2zM1660.7 2058.6h2v2h-2zM1663.6 2033.9h2v2h-2zM1673.2 2051.3h2v2h-2zM1650.5 2073.5h2v2h-2zM1651.2 2051.6h2v2h-2zM1687.8 2044.1h2v2h-2zM1676.1 2047.6h2v2h-2zM1681.8 2020.9h2v2h-2zM1673.6 2052.9h2v2h-2zM1670.9 2042.5h2v2h-2zM1665.9 2039.4h2v2h-2zM1675.4 2034.5h2v2h-2zM1688.0 2035.4h2v2h-2zM1676.9 2031.5h2v2h-2zM1680.9 2047.7h2v2h-2zM1700.9 2029.2h2v2h-2zM1652.3 2034.4h2v2h-2zM1705.9 2033.1h2v2h-2zM1672.3 2048.1h2v2h-2zM1680.1 2029.3h2v2h-2zM1677.7 2063.6h2v2h-2zM1671.7 2056.8h2v2h-2zM1647.0 2055.7h2v2h-2zM1669.3 2039.3h2v2h-2zM1705.5 2018.2h2v2h-2zM1706.5 2041.4h2v2h-2zM1674.1 2057.5h2v2h-2zM1636.0 2041.6h2v2h-2zM1679.0 2049.9h2v2h-2zM1667.4 2042.4h2v2h-2zM1640.5 2056.6h2v2h-2zM1677.2 2035.1h2v2h-2zM1682.8 2049.0h2v2h-2zM1656.0 2052.5h2v2h-2zM1660.9 2057.1h2v2h-2zM1664.4 2056.3h2v2h-2zM1672.2 2032.7h2v2h-2zM1672.1 2048.4h2v2h-2zM1674.5 2043.4h2v2h-2zM1665.4 2048.0h2v2h-2zM1689.0 2030.5h2v2h-2zM1687.4 2046.0h2v2h-2zM1670.0 2039.5h2v2h-2zM1698.6 2043.9h2v2h-2zM1676.6 2047.0h2v2h-2zM1659.1 2051.0h2v2h-2zM1638.9 2054.5h2v2h-2zM1675.5 2039.8h2v2h-2zM1660.2 2055.1h2v2h-2zM1690.6 2031.2h2v2h-2zM1670.5 2038.2h2v2h-2zM1661.3 2057.0h2v2h-2zM1672.4 2054.5h2v2h-2zM1651.5 2053.2h2v2h-2zM1710.2 2035.3h2v2h-2zM1691.2 2042.8h2v2h-2zM1690.7 2022.3h2v2h-2zM1698.3 2039.6h2v2h-2zM1675.7 2048.3h2v2h-2zM1668.0 2067.0h2v2h-2zM1652.5 2051.2h2v2h-2zM1672.5 2046.2h2v2h-2zM1669.0 2041.3h2v2h-2zM1684.1 2046.8h2v2h-2zM1676.9 2049.4h2v2h-2zM1689.9 2043.7h2v2h-2zM1720.2 2025.0h2v2h-2zM1699.4 2037.0h2v2h-2zM1663.5 2045.8h2v2h-2zM1687.3 2045.5h2v2h-2zM1672.3 2018.8h2v2h-2zM1629.6 2062.5h2v2h-2zM1691.3 2044.1h2v2h-2zM1718.4 2032.9h2v2h-2zM1710.3 2048.8h2v2h-2zM1661.0 2047.8h2v2h-2zM1669.2 2047.3h2v2h-2zM1666.5 2039.9h2v2h-2zM1679.6 2043.3h2v2h-2zM1658.7 2055.8h2v2h-2zM1670.6 2055.7h2v2h-2zM1666.1 2064.1h2v2h-2zM1635.2 2066.6h2v2h-2zM1672.9 2031.8h2v2h-2zM1668.8 2036.8h2v2h-2zM1634.9 2072.3h2v2h-2zM1662.1 2041.8h2v2h-2zM1668.9 2041.6h2v2h-2zM1699.6 2040.8h2v2h-2zM1668.0 2052.1h2v2h-2zM1670.2 2044.2h2v2h-2zM1672.2 2044.9h2v2h-2zM1686.9 2054.1h2v2h-2zM1661.2 2053.5h2v2h-2zM1662.3 2060.4h2v2h-2zM1691.7 2050.8h2v2h-2zM1677.9 2068.4h2v2h-2zM1684.0 2033.6h2v2h-2zM1645.1 2056.1h2v2h-2zM1676.9 2037.1h2v2h-2zM1684.2 2049.2h2v2h-2zM1677.0 2038.1h2v2h-2zM1704.0 2035.4h2v2h-2zM1699.3 2030.9h2v2h-2zM1668.1 2048.4h2v2h-2zM1693.0 2011.3h2v2h-2zM1647.0 2074.2h2v2h-2zM1667.3 2057.1h2v2h-2zM1660.2 2041.4h2v2h-2zM1663.3 2046.5h2v2h-2zM1666.8 2041.1h2v2h-2zM1652.7 2040.0h2v2h-2zM1695.8 2015.5h2v2h-2zM1654.3 2055.9h2v2h-2zM1676.8 2031.9h2v2h-2zM1678.5 2039.1h2v2h-2zM1677.6 2024.5h2v2h-2zM1691.3 2032.4h2v2h-2zM1652.4 2054.6h2v2h-2zM1673.7 2046.3h2v2h-2zM1661.1 2046.1h2v2h-2zM1672.0 2027.6h2v2h-2zM1684.8 2050.6h2v2h-2zM1681.2 2037.3h2v2h-2zM1680.1 2044.1h2v2h-2zM1689.1 2044.2h2v2h-2zM1692.3 2028.7h2v2h-2zM1639.7 2060.8h2v2h-2zM1652.7 2054.0h2v2h-2zM1677.1 2038.8h2v2h-2zM1672.7 2066.4h2v2h-2zM1649.9 2069.0h2v2h-2zM1679.4 2022.3h2v2h-2zM1676.7 2051.1h2v2h-2zM1691.4 2056.7h2v2h-2zM1701.5 2040.2h2v2h-2zM1652.5 2038.4h2v2h-2zM1701.0 2036.9h2v2h-2zM1666.0 2040.7h2v2h-2zM1707.7 2022.7h2v2h-2zM1671.2 2036.6h2v2h-2zM1665.5 2060.8h2v2h-2zM1677.7 2051.7h2v2h-2zM1696.3 2039.3h2v2h-2zM1688.5 2027.3h2v2h-2zM1661.7 2045.8h2v2h-2zM1680.3 2028.5h2v2h-2zM1675.0 2040.4h2v2h-2zM1656.4 2044.4h2v2h-2zM1674.6 2044.9h2v2h-2zM1671.4 2037.2h2v2h-2zM1703.0 2037.8h2v2h-2zM1692.3 2032.5h2v2h-2zM1671.2 2040.6h2v2h-2zM1619.6 2064.8h2v2h-2zM1632.3 2063.7h2v2h-2zM1670.8 2058.1h2v2h-2zM1662.9 2050.4h2v2h-2zM1702.6 2047.7h2v2h-2zM1665.8 2047.0h2v2h-2zM1681.5 2036.1h2v2h-2zM1661.6 2057.9h2v2h-2zM1687.5 2045.5h2v2h-2zM1683.9 2044.4h2v2h-2zM1660.6 2044.4h2v2h-2zM1683.4 2034.3h2v2h-2zM1683.3 2041.5h2v2h-2zM1660.2 2053.5h2v2h-2zM1675.8 2039.1h2v2h-2zM1638.6 2069.7h2v2h-2zM1676.1 2033.8h2v2h-2zM1693.8 2028.8h2v2h-2zM1688.0 2049.6h2v2h-2zM1684.8 2040.0h2v2h-2zM1669.3 2049.8h2v2h-2zM1677.8 2044.0h2v2h-2zM1681.3 2057.3h2v2h-2zM1677.1 2032.4h2v2h-2zM1679.5 2047.5h2v2h-2zM1661.8 2044.0h2v2h-2zM1662.1 2049.6h2v2h-2zM1667.5 2038.9h2v2h-2zM1658.3 2065.4h2v2h-2zM1693.9 2040.1h2v2h-2zM1661.4 2064.8h2v2h-2zM1690.8 2055.6h2v2h-2zM1642.7 2058.9h2v2h-2z" fill="#2c7bb9" fill-opacity="0.38"/>
<path d="M1716.0 2020.5h2v2h-2zM1692.7 2038.1h2v2h-2zM1714.9 2020.8h2v2h-2zM1655.3 2035.6h2v2h-2zM1663.2 2064.9h2v2h-2zM1688.5 2054.0h2v2h-2zM1686.5 2034.2h2v2h-2zM1636.8 2067.9h2v2h-2zM1691.5 2065.2h2v2h-2zM1680.2 2040.0h2v2h-2zM1675.9 2021.5h2v2h-2zM1635.2 2072.9h2v2h-2zM1665.0 2019.0h2v2h-2zM1663.8 2059.8h2v2h-2zM1653.0 2072.6h2v2h-2zM1708.0 2025.1h2v2h-2zM1691.7 2039.3h2v2h-2zM1664.9 2044.8h2v2h-2zM1658.0 2038.4h2v2h-2zM1682.6 2040.3h2v2h-2zM1696.0 2031.0h2v2h-2zM1654.0 2056.3h2v2h-2zM1684.8 2043.3h2v2h-2zM1673.2 2049.1h2v2h-2zM1684.9 2045.7h2v2h-2zM1673.8 2053.0h2v2h-2zM1645.3 2057.9h2v2h-2zM1673.8 2046.7h2v2h-2zM1720.1 2033.7h2v2h-2zM1658.5 2039.4h2v2h-2zM1686.6 2022.7h2v2h-2zM1680.3 2042.4h2v2h-2zM1665.7 2047.3h2v2h-2zM1660.8 2042.1h2v2h-2zM1645.6 2054.8h2v2h-2zM1648.2 2052.8h2v2h-2zM1667.7 2017.6h2v2h-2zM1696.7 2041.5h2v2h-2zM1644.9 2059.9h2v2h-2zM1685.3 2026.0h2v2h-2zM1672.1 2028.6h2v2h-2zM1681.6 2032.0h2v2h-2zM1673.3 2047.1h2v2h-2zM1652.0 2053.5h2v2h-2zM1669.7 2028.4h2v2h-2zM1651.7 2044.2h2v2h-2zM1676.5 2053.1h2v2h-2zM1673.3 2047.4h2v2h-2zM1690.5 2043.1h2v2h-2zM1660.5 2049.0h2v2h-2zM1672.3 2044.5h2v2h-2zM1688.8 2033.0h2v2h-2zM1619.9 2064.8h2v2h-2zM1641.4 2059.8h2v2h-2zM1689.2 2032.4h2v2h-2zM1636.2 2058.2h2v2h-2zM1649.0 2068.6h2v2h-2zM1656.9 2061.8h2v2h-2zM1682.5 2043.4h2v2h-2zM1676.3 2051.7h2v2h-2zM1697.8 2026.2h2v2h-2zM1664.1 2055.5h2v2h-2zM1689.2 2052.2h2v2h-2zM1699.5 2040.2h2v2h-2zM1686.0 2055.8h2v2h-2zM1680.4 2028.3h2v2h-2zM1682.5 2038.2h2v2h-2zM1694.7 2033.8h2v2h-2zM1680.9 2051.6h2v2h-2zM1659.0 2050.6h2v2h-2zM1713.7 2017.9h2v2h-2zM1669.0 2035.9h2v2h-2zM1676.1 2039.9h2v2h-2zM1662.4 2045.6h2v2h-2zM1658.5 2040.6h2v2h-2zM1666.7 2060.4h2v2h-2zM1680.8 2019.7h2v2h-2zM1693.3 2043.7h2v2h-2zM1655.8 2061.3h2v2h-2zM1706.2 2028.6h2v2h-2zM1667.6 2059.1h2v2h-2zM1682.6 2056.9h2v2h-2zM1652.8 2067.2h2v2h-2zM1682.7 2029.9h2v2h-2zM1650.1 2045.6h2v2h-2zM1698.2 2036.4h2v2h-2zM1672.0 2038.4h2v2h-2zM1682.5 2051.0h2v2h-2zM1683.0 2042.3h2v2h-2zM1661.8 2044.6h2v2h-2zM1742.5 2032.2h2v2h-2zM1682.9 2013.2h2v2h-2zM1707.3 2037.4h2v2h-2zM1662.8 2042.4h2v2h-2zM1683.1 2050.8h2v2h-2zM1681.1 2033.2h2v2h-2zM1679.8 2048.4h2v2h-2zM1659.6 2051.8h2v2h-2zM1687.3 2033.6h2v2h-2zM1688.6 2045.3h2v2h-2zM1683.3 2022.3h2v2h-2zM1653.4 2054.6h2v2h-2zM1634.8 2077.2h2v2h-2zM1649.8 2047.5h2v2h-2zM1669.6 2059.9h2v2h-2zM1692.7 2038.4h2v2h-2zM1661.4 2063.0h2v2h-2zM1667.7 2041.5h2v2h-2zM1664.3 2030.3h2v2h-2zM1680.9 2052.0h2v2h-2zM1691.5 2043.6h2v2h-2zM1696.7 2037.4h2v2h-2zM1675.9 2042.2h2v2h-2zM1654.1 2055.1h2v2h-2zM1652.1 2063.6h2v2h-2zM1661.2 2045.3h2v2h-2zM1661.2 2048.9h2v2h-2zM1700.5 2025.1h2v2h-2zM1640.8 2049.1h2v2h-2zM1669.3 2042.0h2v2h-2zM1665.8 2042.4h2v2h-2zM1649.2 2054.4h2v2h-2zM1656.9 2063.4h2v2h-2zM1700.9 2026.7h2v2h-2zM1701.9 2038.1h2v2h-2zM1691.9 2040.2h2v2h-2zM1644.0 2048.3h2v2h-2zM1680.6 2021.9h2v2h-2zM1697.8 2039.7h2v2h-2zM1643.2 2072.5h2v2h-2zM1649.7 2049.1h2v2h-2zM1693.5 2027.5h2v2h-2zM1660.0 2051.2h2v2h-2zM1691.0 2065.4h2v2h-2zM1657.1 2042.4h2v2h-2zM1668.6 2055.9h2v2h-2zM1700.1 2040.1h2v2h-2zM1684.2 2031.3h2v2h-2zM1667.3 2051.5h2v2h-2zM1681.3 2015.8h2v2h-2zM1667.9 2032.8h2v2h-2zM1646.1 2061.5h2v2h-2zM1679.4 2034.5h2v2h-2zM1665.2 2036.6h2v2h-2zM1643.4 2040.6h2v2h-2zM1672.5 2038.3h2v2h-2zM1701.2 2023.1h2v2h-2zM1675.0 2041.6h2v2h-2zM1686.9 2040.0h2v2h-2zM1661.7 2042.6h2v2h-2zM1675.4 2059.2h2v2h-2zM1657.1 2053.3h2v2h-2zM1698.5 2047.1h2v2h-2zM1659.2 2048.1h2v2h-2zM1689.2 2044.5h2v2h-2zM1642.6 2069.0h2v2h-2zM1669.9 2049.0h2v2h-2zM1685.7 2031.5h2v2h-2zM1649.4 2042.9h2v2h-2zM1643.6 2047.9h2v2h-2zM1675.9 2041.4h2v2h-2zM1669.5 2056.4h2v2h-2zM1690.6 2044.3h2v2h-2zM1649.7 2068.3h2v2h-2zM1691.0 2039.6h2v2h-2zM1675.3 2042.8h2v2h-2zM1691.6 2027.7h2v2h-2zM1662.4 2048.4h2v2h-2zM1620.2 2063.9h2v2h-2zM1707.0 2036.9h2v2h-2zM1679.6 2049.7h2v2h-2zM1660.8 2059.2h2v2h-2zM1703.1 2039.2h2v2h-2zM1665.0 2031.6h2v2h-2zM1686.5 2016.4h2v2h-2zM1702.9 2023.4h2v2h-2zM1667.5 2033.4h2v2h-2zM1684.3 2037.4h2v2h-2zM1678.6 2043.2h2v2h-2zM1671.7 2048.9h2v2h-2zM1626.1 2055.3h2v2h-2zM1690.1 2031.3h2v2h-2zM1675.3 2041.4h2v2h-2zM1668.4 2054.3h2v2h-2zM1675.6 2047.5h2v2h-2zM1682.0 2042.3h2v2h-2zM1664.3 2043.3h2v2h-2zM1667.0 2044.6h2v2h-2zM1686.2 2067.9h2v2h-2zM1661.1 2032.8h2v2h-2zM1639.8 2065.9h2v2h-2zM1689.2 2045.2h2v2h-2zM1657.0 2053.2h2v2h-2zM1687.5 2035.2h2v2h-2zM1672.3 2030.3h2v2h-2zM1684.8 2036.4h2v2h-2zM1678.6 2046.7h2v2h-2zM1670.2 2032.4h2v2h-2zM1620.1 2067.2h2v2h-2zM1671.2 2059.0h2v2h-2zM1669.3 2050.2h2v2h-2zM1682.3 2051.4h2v2h-2zM1669.3 2063.2h2v2h-2zM1735.3 2032.4h2v2h-2zM1659.2 2053.2h2v2h-2zM1660.2 2053.0h2v2h-2zM1641.0 2049.1h2v2h-2zM1687.8 2035.4h2v2h-2zM1668.7 2034.9h2v2h-2zM1666.2 2057.1h2v2h-2zM1663.0 2079.7h2v2h-2zM1715.4 2001.2h2v2h-2zM1687.0 2046.8h2v2h-2zM1685.7 2033.4h2v2h-2zM1670.2 2050.9h2v2h-2zM1653.1 2059.0h2v2h-2zM1712.9 2025.3h2v2h-2zM1682.0 2055.7h2v2h-2zM1665.2 2049.5h2v2h-2zM1672.4 2054.1h2v2h-2zM1681.9 2043.0h2v2h-2zM1678.7 2041.9h2v2h-2zM1661.4 2061.2h2v2h-2zM1667.5 2049.6h2v2h-2zM1668.7 2046.3h2v2h-2zM1667.1 2046.7h2v2h-2zM1663.6 2047.4h2v2h-2zM1675.7 2054.6h2v2h-2zM1679.2 2044.6h2v2h-2zM1674.0 2051.4h2v2h-2zM1662.1 2035.3h2v2h-2zM1690.6 2036.9h2v2h-2zM1698.7 2047.3h2v2h-2zM1671.7 2021.9h2v2h-2zM1680.3 2066.0h2v2h-2zM1673.8 2055.6h2v2h-2zM1669.5 2045.9h2v2h-2zM1662.7 2066.2h2v2h-2zM1663.0 2047.7h2v2h-2zM1670.0 2051.9h2v2h-2zM1646.8 2042.6h2v2h-2zM1666.7 2051.9h2v2h-2zM1655.9 2067.5h2v2h-2zM1659.0 2060.7h2v2h-2zM1714.2 2030.0h2v2h-2zM1660.7 2046.5h2v2h-2zM1688.1 2022.1h2v2h-2zM1662.6 2057.5h2v2h-2zM1682.1 2037.3h2v2h-2zM1678.6 2046.1h2v2h-2zM1688.7 2026.6h2v2h-2zM1698.8 2023.1h2v2h-2zM1665.9 2051.3h2v2h-2zM1669.0 2030.1h2v2h-2zM1690.2 2061.0h2v2h-2zM1663.2 2057.1h2v2h-2zM1646.4 2044.5h2v2h-2zM1660.5 2054.3h2v2h-2zM1670.5 2059.2h2v2h-2zM1685.9 2021.9h2v2h-2zM1653.0 2050.9h2v2h-2zM1691.4 2028.8h2v2h-2zM1704.4 2031.3h2v2h-2zM1662.7 2062.1h2v2h-2zM1685.3 2037.4h2v2h-2zM1702.4 2041.4h2v2h-2zM1637.3 2058.0h2v2h-2zM1685.6 2055.8h2v2h-2zM1687.6 2034.4h2v2h-2zM1645.3 2050.9h2v2h-2zM1631.8 2065.5h2v2h-2zM1667.5 2039.8h2v2h-2zM1658.8 2034.8h2v2h-2zM1667.5 2043.5h2v2h-2zM1667.5 2040.1h2v2h-2zM1642.1 2042.8h2v2h-2zM1664.7 2027.1h2v2h-2zM1673.2 2049.9h2v2h-2zM1662.1 2053.2h2v2h-2zM1673.2 2044.1h2v2h-2zM1670.9 2041.4h2v2h-2zM1677.0 2035.8h2v2h-2zM1640.1 2056.0h2v2h-2zM1690.7 2031.2h2v2h-2zM1654.1 2058.5h2v2h-2zM1663.8 2045.6h2v2h-2zM1677.3 2029.9h2v2h-2zM1671.8 2036.4h2v2h-2zM1669.0 2039.3h2v2h-2zM1660.6 2063.2h2v2h-2zM1675.6 2035.7h2v2h-2zM1676.7 2048.4h2v2h-2zM1663.6 2036.6h2v2h-2zM1690.4 2050.7h2v2h-2zM1678.8 2029.3h2v2h-2zM1709.7 2023.9h2v2h-2zM1681.8 2056.0h2v2h-2zM1667.9 2041.4h2v2h-2zM1703.1 2041.1h2v2h-2zM1701.6 2056.9h2v2h-2zM1666.3 2047.9h2v2h-2zM1699.3 2027.2h2v2h-2zM1689.7 2055.5h2v2h-2zM1658.8 2045.4h2v2h-2zM1626.4 2077.3h2v2h-2zM1667.9 2059.6h2v2h-2zM1640.6 2077.9h2v2h-2zM1667.2 2032.1h2v2h-2zM1662.5 2040.1h2v2h-2zM1656.9 2055.9h2v2h-2zM1663.4 2062.8h2v2h-2zM1630.1 2058.7h2v2h-2zM1696.5 2048.7h2v2h-2zM1687.8 2024.5h2v2h-2zM1691.3 2029.0h2v2h-2zM1714.9 2042.3h2v2h-2zM1701.0 2044.4h2v2h-2zM1686.3 2040.3h2v2h-2zM1695.6 2037.1h2v2h-2zM1692.7 2024.1h2v2h-2zM1684.9 2046.1h2v2h-2zM1690.7 2033.6h2v2h-2zM1666.2 2062.6h2v2h-2zM1687.9 2021.9h2v2h-2zM1699.6 2039.4h2v2h-2z" fill="#2c7bb9" fill-opacity="0.38"/>
<path d="M1690.3 2028.7h2v2h-2zM1675.9 2048.9h2v2h-2zM1717.4 2036.8h2v2h-2zM1677.1 2066.9h2v2h-2zM1692.0 2041.6h2v2h-2zM1641.1 2045.7h2v2h-2zM1673.6 2041.4h2v2h-2zM1703.8 2058.9h2v2h-2zM1688.0 2042.2h2v2h-2zM1682.3 2056.3h2v2h-2zM1654.2 2039.5h2v2h-2zM1698.5 2044.8h2v2h-2zM1658.9 2054.8h2v2h-2zM1652.4 2064.5h2v2h-2zM1695.6 2034.7h2v2h-2zM1689.0 2040.6h2v2h-2zM1690.4 2052.7h2v2h-2zM1637.4 2077.2h2v2h-2zM1682.6 2037.4h2v2h-2zM1633.5 2055.2h2v2h-2zM1644.2 2062.7h2v2h-2zM1648.0 2063.2h2v2h-2zM1653.4 2053.3h2v2h-2zM1663.0 2047.7h2v2h-2zM1657.6 2082.5h2v2h-2zM1669.0 2074.1h2v2h-2zM1661.6 2066.9h2v2h-2zM1663.0 2051.2h2v2h-2zM1694.8 2020.0h2v2h-2zM1672.7 2056.9h2v2h-2zM1649.2 2047.6h2v2h-2zM1684.2 2040.1h2v2h-2zM1679.3 2042.6h2v2h-2zM1670.5 2042.8h2v2h-2zM1667.1 2041.2h2v2h-2zM1672.1 2019.2h2v2h-2zM1716.6 2028.5h2v2h-2zM1662.0 2043.8h2v2h-2zM1682.4 2036.5h2v2h-2zM1708.0 2028.5h2v2h-2zM1640.2 2068.8h2v2h-2zM1718.1 2032.0h2v2h-2zM1670.1 2037.5h2v2h-2zM1668.3 2031.9h2v2h-2zM1627.2 2058.6h2v2h-2zM1651.5 2036.7h2v2h-2zM1662.5 2057.9h2v2h-2zM1628.1 2067.7h2v2h-2zM1649.4 2030.1h2v2h-2zM1681.3 2023.8h2v2h-2zM1700.5 2032.5h2v2h-2zM1683.5 2028.7h2v2h-2zM1640.1 2060.0h2v2h-2zM1693.3 2046.6h2v2h-2zM1665.3 2037.3h2v2h-2zM1676.5 2058.6h2v2h-2zM1699.9 2030.0h2v2h-2zM1671.1 2048.3h2v2h-2zM1674.3 2036.9h2v2h-2zM1651.8 2052.9h2v2h-2zM1683.1 2039.3h2v2h-2zM1638.2 2046.1h2v2h-2zM1647.3 2051.2h2v2h-2zM1686.2 2023.9h2v2h-2zM1679.0 2042.4h2v2h-2zM1695.3 2011.4h2v2h-2zM1681.5 2029.2h2v2h-2zM1670.5 2067.7h2v2h-2zM1652.3 2044.9h2v2h-2zM1715.5 2024.5h2v2h-2zM1636.1 2053.0h2v2h-2zM1680.2 2043.6h2v2h-2zM1682.2 2045.0h2v2h-2zM1677.5 2043.8h2v2h-2zM1655.4 2064.9h2v2h-2zM1658.7 2041.1h2v2h-2zM1659.1 2050.9h2v2h-2zM1640.9 2074.4h2v2h-2zM1663.1 2051.5h2v2h-2zM1654.8 2077.5h2v2h-2zM1685.0 2035.1h2v2h-2zM1646.2 2074.4h2v2h-2zM1701.7 2037.1h2v2h-2zM1683.6 2033.0h2v2h-2zM1659.5 2052.7h2v2h-2zM1656.0 2040.0h2v2h-2zM1658.3 2043.1h2v2h-2zM1663.7 2048.1h2v2h-2zM1642.0 2055.6h2v2h-2zM1655.8 2048.9h2v2h-2zM1706.2 2026.3h2v2h-2zM1660.4 2037.7h2v2h-2zM1681.4 2040.6h2v2h-2zM1673.8 2041.1h2v2h-2zM1663.5 2038.8h2v2h-2zM1686.9 2049.6h2v2h-2zM1659.5 2047.8h2v2h-2zM1669.6 2056.1h2v2h-2zM1694.0 2049.5h2v2h-2zM1670.5 2051.4h2v2h-2zM1653.5 2057.9h2v2h-2zM1651.9 2045.7h2v2h-2zM1664.0 2071.7h2v2h-2zM1672.8 2033.2h2v2h-2zM1690.4 2033.6h2v2h-2zM1667.1 2071.9h2v2h-2zM1695.7 2027.2h2v2h-2zM1674.6 2044.0h2v2h-2zM1665.9 2048.5h2v2h-2zM1670.7 2043.0h2v2h-2zM1665.1 2063.8h2v2h-2zM1617.1 2071.5h2v2h-2zM1687.6 2035.9h2v2h-2zM1676.0 2056.5h2v2h-2zM1678.4 2037.7h2v2h-2zM1680.9 2032.4h2v2h-2zM1651.2 2050.0h2v2h-2zM1665.6 2022.7h2v2h-2zM1711.2 2020.3h2v2h-2zM1659.8 2061.1h2v2h-2zM1676.1 2038.9h2v2h-2zM1715.1 2028.1h2v2h-2zM1657.7 2052.0h2v2h-2zM1714.8 2031.8h2v2h-2zM1658.3 2031.4h2v2h-2zM1664.6 2066.1h2v2h-2zM1670.6 2059.8h2v2h-2zM1633.8 2042.4h2v2h-2zM1639.5 2062.0h2v2h-2zM1675.9 2040.5h2v2h-2zM1684.5 2023.9h2v2h-2zM1671.7 2039.7h2v2h-2zM1689.7 2038.5h2v2h-2zM1649.2 2065.1h2v2h-2zM1686.2 2029.6h2v2h-2zM1664.7 2049.0h2v2h-2zM1682.6 2038.5h2v2h-2zM1672.0 2062.0h2v2h-2zM1680.6 2048.4h2v2h-2zM1660.9 2049.6h2v2h-2zM1648.9 2044.0h2v2h-2zM1667.4 2041.4h2v2h-2zM1711.7 2012.8h2v2h-2zM1635.8 2065.0h2v2h-2zM1676.9 2043.4h2v2h-2zM1673.8 2033.8h2v2h-2zM1645.2 2043.2h2v2h-2zM1648.2 2059.5h2v2h-2zM1662.3 2050.3h2v2h-2zM1655.3 2040.8h2v2h-2zM1677.3 2031.3h2v2h-2zM1684.8 2051.2h2v2h-2zM1664.1 2021.7h2v2h-2zM1631.6 2068.9h2v2h-2zM1679.4 2046.0h2v2h-2zM1679.0 2035.7h2v2h-2zM1676.6 2061.2h2v2h-2zM1694.3 2049.1h2v2h-2zM1671.0 2037.4h2v2h-2zM1650.6 2057.3h2v2h-2zM1640.9 2067.5h2v2h-2zM1699.6 2039.2h2v2h-2zM1647.1 2050.0h2v2h-2zM1655.1 2061.5h2v2h-2zM1696.6 2042.1h2v2h-2zM1666.7 2045.2h2v2h-2zM1663.6 2058.0h2v2h-2zM1678.5 2036.6h2v2h-2zM1670.2 2040.0h2v2h-2zM1673.2 2041.2h2v2h-2zM1681.7 2053.7h2v2h-2zM1675.1 2051.3h2v2h-2zM1709.9 2050.5h2v2h-2zM1641.5 2055.9h2v2h-2zM1667.5 2062.4h2v2h-2zM1651.9 2052.6h2v2h-2zM1638.9 2059.3h2v2h-2zM1667.2 2055.1h2v2h-2zM1663.6 2045.9h2v2h-2zM1672.3 2046.1h2v2h-2zM1695.9 2048.1h2v2h-2zM1625.3 2047.4h2v2h-2zM1670.6 2041.2h2v2h-2zM1681.4 2017.2h2v2h-2zM1658.1 2061.7h2v2h-2zM1678.4 2052.3h2v2h-2zM1685.7 2027.1h2v2h-2zM1705.3 2033.5h2v2h-2zM1659.7 2064.5h2v2h-2zM1669.6 2030.9h2v2h-2zM1697.5 2032.3h2v2h-2zM1678.3 2053.8h2v2h-2zM1681.1 2039.2h2v2h-2zM1661.3 2053.8h2v2h-2zM1696.6 2045.6h2v2h-2zM1668.1 2055.1h2v2h-2zM1684.7 2050.3h2v2h-2zM1677.0 2053.9h2v2h-2zM1663.1 2058.1h2v2h-2zM1670.9 2047.7h2v2h-2zM1682.6 2038.1h2v2h-2zM1632.3 2042.9h2v2h-2zM1661.0 2046.9h2v2h-2zM1655.4 2053.3h2v2h-2zM1679.8 2029.1h2v2h-2zM1688.0 2044.5h2v2h-2zM1652.2 2041.7h2v2h-2zM1656.7 2053.5h2v2h-2zM1664.9 2056.9h2v2h-2zM1680.8 2063.3h2v2h-2zM1684.0 2034.7h2v2h-2zM1676.3 2030.4h2v2h-2zM1685.9 2039.9h2v2h-2zM1696.2 2026.0h2v2h-2zM1683.2 2024.9h2v2h-2zM1685.1 2044.5h2v2h-2zM1696.2 2019.7h2v2h-2zM1640.3 2056.5h2v2h-2zM1674.3 2060.6h2v2h-2zM1666.8 2040.4h2v2h-2zM1642.1 2076.1h2v2h-2zM1673.1 2032.7h2v2h-2zM1669.4 2032.3h2v2h-2zM1663.2 2064.7h2v2h-2zM1611.4 2060.8h2v2h-2zM1694.5 2022.4h2v2h-2zM1647.5 2051.0h2v2h-2zM1620.1 2060.0h2v2h-2zM1684.0 2044.9h2v2h-2zM1689.4 2029.6h2v2h-2zM1666.6 2053.1h2v2h-2zM1671.2 2063.2h2v2h-2zM1674.6 2049.4h2v2h-2zM1658.3 2042.9h2v2h-2zM1659.6 2050.6h2v2h-2zM1703.9 2025.1h2v2h-2zM1670.0 2032.1h2v2h-2zM1675.0 2053.6h2v2h-2zM1656.9 2045.1h2v2h-2zM1674.0 2054.7h2v2h-2zM1720.2 2009.9h2v2h-2zM1685.2 2043.8h2v2h-2zM1669.0 2056.8h2v2h-2zM1698.8 2008.5h2v2h-2zM1694.2 2030.0h2v2h-2zM1699.3 2042.7h2v2h-2zM1709.5 2019.1h2v2h-2zM1700.4 2051.2h2v2h-2zM1688.6 2041.1h2v2h-2zM1676.8 2031.5h2v2h-2zM1664.3 2058.7h2v2h-2zM1678.2 2059.1h2v2h-2zM1697.1 2052.9h2v2h-2zM1613.6 2069.8h2v2h-2zM1621.1 2084.6h2v2h-2zM1655.8 2054.9h2v2h-2zM1647.0 2060.8h2v2h-2zM1655.6 2069.1h2v2h-2zM1675.0 2059.3h2v2h-2zM1650.1 2066.2h2v2h-2zM1679.7 2062.9h2v2h-2zM1694.4 2030.7h2v2h-2zM1662.0 2049.4h2v2h-2zM1680.7 2051.3h2v2h-2zM1688.4 2018.3h2v2h-2zM1705.1 2026.1h2v2h-2zM1694.0 2026.6h2v2h-2zM1664.8 2055.0h2v2h-2zM1699.4 2028.2h2v2h-2zM1671.4 2065.7h2v2h-2zM1678.9 2051.3h2v2h-2zM1630.0 2048.7h2v2h-2zM1664.7 2052.4h2v2h-2zM1647.2 2058.2h2v2h-2zM1661.9 2036.1h2v2h-2zM1699.4 2027.9h2v2h-2zM1680.7 2038.1h2v2h-2zM1706.2 2026.5h2v2h-2zM1688.6 2047.4h2v2h-2zM1688.2 2034.8h2v2h-2zM1663.2 2057.5h2v2h-2zM1668.9 2044.0h2v2h-2zM1627.4 2061.7h2v2h-2zM1649.9 2054.1h2v2h-2zM1714.5 2020.4h2v2h-2zM1659.5 2035.2h2v2h-2zM1634.0 2045.4h2v2h-2zM1678.5 2052.4h2v2h-2zM1663.7 2058.0h2v2h-2zM1644.5 2035.1h2v2h-2zM1686.8 2033.3h2v2h-2zM1701.0 2044.0h2v2h-2zM1693.6 2029.4h2v2h-2zM1680.2 2016.0h2v2h-2zM1667.8 2032.6h2v2h-2zM1672.7 2040.4h2v2h-2zM1686.7 2025.1h2v2h-2zM1717.5 2031.4h2v2h-2zM1691.1 2042.3h2v2h-2zM1694.9 2028.7h2v2h-2zM1665.2 2054.9h2v2h-2zM1679.4 2032.0h2v2h-2zM1691.0 2039.1h2v2h-2zM1698.0 2029.9h2v2h-2zM1671.9 2036.1h2v2h-2zM1690.8 2042.6h2v2h-2zM1684.6 2036.4h2v2h-2zM1665.9 2069.0h2v2h-2zM1690.3 2011.4h2v2h-2zM1671.7 2030.0h2v2h-2zM1666.0 2051.4h2v2h-2zM1683.2 2021.4h2v2h-2zM1629.1 2069.6h2v2h-2zM1662.4 2065.2h2v2h-2zM1642.3 2041.7h2v2h-2zM1678.7 2040.9h2v2h-2zM1685.6 2029.3h2v2h-2zM1651.0 2050.7h2v2h-2zM1681.8 2032.1h2v2h-2zM1659.6 2026.1h2v2h-2zM1675.1 2064.0h2v2h-2zM1666.6 2054.6h2v2h-2zM1692.0 2008.4h2v2h-2zM1690.3 2038.8h2v2h-2zM1709.8 2027.6h2v2h-2z" fill="#2c7bb9" fill-opacity="0.38"/>
<path d="M1656.7 2061.3h2v2h-2zM1691.2 2019.0h2v2h-2zM1646.0 2058.2h2v2h-2zM1695.2 2036.3h2v2h-2zM1699.6 2025.2h2v2h-2zM1700.7 2043.1h2v2h-2zM1638.9 2071.2h2v2h-2zM1711.1 2023.3h2v2h-2zM1660.4 2046.1h2v2h-2zM1616.7 2060.5h2v2h-2zM1678.5 2028.3h2v2h-2zM1662.6 2045.8h2v2h-2zM1662.4 2046.5h2v2h-2zM1668.5 2065.0h2v2h-2zM1671.2 2038.5h2v2h-2zM1666.8 2029.8h2v2h-2zM1693.7 2031.0h2v2h-2zM1677.3 2023.2h2v2h-2zM1679.8 2053.3h2v2h-2zM1667.5 2030.7h2v2h-2zM1691.0 2031.8h2v2h-2zM1666.2 2038.2h2v2h-2zM1676.1 2045.0h2v2h-2zM1673.8 2022.6h2v2h-2zM1668.7 2040.2h2v2h-2zM1662.9 2043.7h2v2h-2zM1671.6 2025.6h2v2h-2zM1687.3 2037.1h2v2h-2zM1711.0 2024.0h2v2h-2zM1652.6 2066.2h2v2h-2zM1665.9 2044.3h2v2h-2zM1677.7 2051.8h2v2h-2zM1662.9 2053.0h2v2h-2zM1706.1 2029.7h2v2h-2zM1704.8 2013.3h2v2h-2zM1679.1 2054.5h2v2h-2zM1661.0 2055.2h2v2h-2zM1669.0 2057.4h2v2h-2zM1647.0 2058.1h2v2h-2zM1656.1 2048.5h2v2h-2zM1665.5 2032.7h2v2h-2zM1676.0 2042.7h2v2h-2zM1683.3 2038.5h2v2h-2zM1632.5 2082.4h2v2h-2zM1692.5 2064.7h2v2h-2zM1667.3 2031.8h2v2h-2zM1692.0 2037.7h2v2h-2zM1663.0 2059.0h2v2h-2zM1677.8 2023.1h2v2h-2zM1677.2 2060.8h2v2h-2zM1677.2 2032.3h2v2h-2zM1676.6 2040.6h2v2h-2zM1712.1 2039.4h2v2h-2zM1646.0 2062.2h2v2h-2zM1684.6 2029.7h2v2h-2zM1685.9 2049.5h2v2h-2zM1684.8 2059.7h2v2h-2zM1695.2 2035.3h2v2h-2zM1672.2 2058.0h2v2h-2zM1643.6 2060.4h2v2h-2zM1649.8 2043.1h2v2h-2zM1640.7 2032.8h2v2h-2zM1693.4 2031.4h2v2h-2zM1675.7 2041.7h2v2h-2zM1684.6 2033.1h2v2h-2zM1685.6 2022.7h2v2h-2zM1692.6 2039.7h2v2h-2zM1667.2 2040.9h2v2h-2zM1645.3 2051.7h2v2h-2zM1653.2 2056.0h2v2h-2zM1661.3 2050.2h2v2h-2zM1703.3 2029.2h2v2h-2zM1668.4 2050.6h2v2h-2zM1664.1 2052.0h2v2h-2zM1669.4 2056.8h2v2h-2zM1681.7 2039.9h2v2h-2zM1665.9 2041.6h2v2h-2zM1678.7 2043.5h2v2h-2zM1694.0 2024.8h2v2h-2zM1654.5 2047.2h2v2h-2zM1687.0 2055.8h2v2h-2zM1660.1 2054.1h2v2h-2zM1661.2 2034.2h2v2h-2zM1654.2 2044.3h2v2h-2zM1627.8 2072.3h2v2h-2zM1669.8 2023.6h2v2h-2zM1659.3 2047.7h2v2h-2zM1685.7 2036.2h2v2h-2zM1675.2 2034.9h2v2h-2zM1661.8 2037.8h2v2h-2zM1650.2 2045.8h2v2h-2zM1682.5 2034.4h2v2h-2zM1682.6 2048.3h2v2h-2zM1673.2 2052.3h2v2h-2zM1703.1 2033.7h2v2h-2zM1660.5 2050.6h2v2h-2zM1649.7 2065.0h2v2h-2zM1659.9 2034.0h2v2h-2zM1658.9 2048.1h2v2h-2zM1687.5 2021.4h2v2h-2zM1708.3 2029.2h2v2h-2zM1663.6 2062.7h2v2h-2zM1699.7 2041.8h2v2h-2zM1682.6 2048.0h2v2h-2zM1678.9 2062.7h2v2h-2zM1663.0 2061.9h2v2h-2zM1693.9 2020.7h2v2h-2zM1656.6 2040.5h2v2h-2zM1672.6 2053.6h2v2h-2zM1715.7 2028.5h2v2h-2zM1655.6 2053.7h2v2h-2zM1690.8 2039.8h2v2h-2zM1665.9 2075.0h2v2h-2zM1665.1 2042.1h2v2h-2zM1681.9 2040.3h2v2h-2zM1654.1 2035.4h2v2h-2zM1657.6 2039.6h2v2h-2zM1679.8 2048.7h2v2h-2zM1655.1 2050.5h2v2h-2zM1677.5 2034.4h2v2h-2zM1665.6 2055.2h2v2h-2zM1670.4 2041.0h2v2h-2zM1679.8 2018.7h2v2h-2zM1686.3 2037.8h2v2h-2zM1677.6 2062.6h2v2h-2zM1677.5 2036.0h2v2h-2zM1658.7 2062.0h2v2h-2zM1681.6 2044.6h2v2h-2zM1649.8 2057.1h2v2h-2zM1693.7 2029.5h2v2h-2zM1646.1 2052.3h2v2h-2zM1676.7 2055.5h2v2h-2zM1698.7 2060.3h2v2h-2zM1652.7 2051.1h2v2h-2zM1676.9 2039.9h2v2h-2zM1699.7 2047.1h2v2h-2zM1649.0 2069.6h2v2h-2zM1707.3 2024.6h2v2h-2zM1675.5 2024.0h2v2h-2zM1673.3 2019.4h2v2h-2zM1672.3 2048.3h2v2h-2zM1695.3 2048.7h2v2h-2zM1680.8 2033.5h2v2h-2zM1659.4 2038.3h2v2h-2zM1661.6 2057.8h2v2h-2zM1680.1 2039.0h2v2h-2zM1669.2 2076.5h2v2h-2zM1697.2 2043.8h2v2h-2zM1666.8 2055.8h2v2h-2zM1682.5 2047.7h2v2h-2zM1666.5 2068.8h2v2h-2zM1650.4 2048.7h2v2h-2zM1635.3 2048.8h2v2h-2zM1711.4 2031.8h2v2h-2zM1705.9 2018.7h2v2h-2zM1649.1 2049.6h2v2h-2zM1644.5 2048.6h2v2h-2zM1712.5 2032.8h2v2h-2zM1622.5 2069.1h2v2h-2zM1646.5 2058.3h2v2h-2zM1655.5 2063.0h2v2h-2zM1673.8 2048.2h2v2h-2zM1665.6 2043.4h2v2h-2zM1636.9 2067.7h2v2h-2zM1661.8 2036.6h2v2h-2zM1682.5 2029.6h2v2h-2zM1680.3 2060.4h2v2h-2zM1628.9 2043.1h2v2h-2zM1684.0 2030.8h2v2h-2zM1646.0 2037.0h2v2h-2zM1694.7 2035.1h2v2h-2zM1695.9 2031.8h2v2h-2zM1667.9 2051.6h2v2h-2zM1700.2 2022.2h2v2h-2zM1683.9 2054.6h2v2h-2zM1700.7 2038.9h2v2h-2zM1666.9 2037.8h2v2h-2zM1664.3 2055.9h2v2h-2zM1683.9 2054.9h2v2h-2zM1699.3 2021.7h2v2h-2zM1705.5 2043.7h2v2h-2zM1661.9 2065.0h2v2h-2zM1652.3 2065.9h2v2h-2zM1715.0 2026.3h2v2h-2zM1697.4 2048.7h2v2h-2zM1657.2 2047.6h2v2h-2zM1716.4 2036.5h2v2h-2zM1679.1 2041.1h2v2h-2zM1642.5 2056.3h2v2h-2zM1653.3 2066.4h2v2h-2zM1663.8 2054.4h2v2h-2zM1650.5 2050.2h2v2h-2zM1660.6 2046.9h2v2h-2zM1659.9 2052.3h2v2h-2zM1678.9 2037.9h2v2h-2zM1704.6 2028.4h2v2h-2zM1704.1 2042.6h2v2h-2zM1664.5 2035.6h2v2h-2zM1698.9 2046.0h2v2h-2zM1693.7 2041.7h2v2h-2zM1685.5 2016.9h2v2h-2zM1643.5 2062.6h2v2h-2zM1683.8 2054.2h2v2h-2zM1672.9 2034.4h2v2h-2zM1649.2 2048.2h2v2h-2zM1694.9 2047.6h2v2h-2zM1677.4 2044.9h2v2h-2zM1695.9 2023.0h2v2h-2zM1657.9 2060.4h2v2h-2zM1708.1 2040.2h2v2h-2zM1653.8 2057.3h2v2h-2zM1664.9 2050.8h2v2h-2zM1683.1 2046.6h2v2h-2zM1687.0 2056.3h2v2h-2zM1692.7 2029.4h2v2h-2zM1666.7 2042.4h2v2h-2zM1634.8 2057.8h2v2h-2zM1632.7 2055.6h2v2h-2zM1677.0 2038.9h2v2h-2zM1695.1 2041.1h2v2h-2zM1633.8 2042.5h2v2h-2zM1670.0 2045.5h2v2h-2zM1700.1 2036.3h2v2h-2zM1638.1 2054.8h2v2h-2zM1637.8 2087.5h2v2h-2zM1657.2 2035.1h2v2h-2zM1685.7 2058.7h2v2h-2zM1689.5 2057.7h2v2h-2zM1702.4 2021.3h2v2h-2zM1699.5 2040.9h2v2h-2zM1655.7 2039.3h2v2h-2zM1688.2 2043.6h2v2h-2zM1699.6 2029.5h2v2h-2zM1663.6 2048.4h2v2h-2zM1684.9 2038.2h2v2h-2zM1675.6 2046.5h2v2h-2zM1671.6 2055.0h2v2h-2zM1680.2 2062.2h2v2h-2zM1665.2 2032.3h2v2h-2zM1651.8 2060.6h2v2h-2zM1669.2 2044.5h2v2h-2zM1678.8 2045.6h2v2h-2zM1642.0 2049.1h2v2h-2zM1673.0 2051.6h2v2h-2zM1667.8 2049.3h2v2h-2zM1646.5 2054.7h2v2h-2zM1668.2 2062.0h2v2h-2zM1652.0 2038.9h2v2h-2zM1693.4 2043.2h2v2h-2zM1691.7 2038.5h2v2h-2zM1678.6 2040.6h2v2h-2zM1669.9 2040.6h2v2h-2zM1687.1 2032.2h2v2h-2zM1670.1 2054.7h2v2h-2zM1682.7 2029.4h2v2h-2zM1678.2 2050.8h2v2h-2zM1699.4 2038.3h2v2h-2zM1685.4 2043.3h2v2h-2zM1668.6 2057.9h2v2h-2zM1648.9 2047.3h2v2h-2zM1699.0 2028.1h2v2h-2zM1692.8 2029.6h2v2h-2zM1665.5 2056.2h2v2h-2zM1668.5 2057.0h2v2h-2zM1664.5 2047.9h2v2h-2zM1656.7 2048.5h2v2h-2zM1642.1 2041.5h2v2h-2zM1664.4 2037.2h2v2h-2zM1699.7 2032.2h2v2h-2zM1686.7 2052.7h2v2h-2zM1699.7 2056.2h2v2h-2zM1693.5 2014.3h2v2h-2zM1690.4 2038.7h2v2h-2zM1679.4 2032.1h2v2h-2zM1656.2 2064.5h2v2h-2zM1660.7 2061.1h2v2h-2zM1653.7 2053.0h2v2h-2zM1691.3 2034.1h2v2h-2zM1686.6 2044.1h2v2h-2zM1692.2 2023.2h2v2h-2zM1648.9 2050.9h2v2h-2zM1697.1 2027.5h2v2h-2zM1681.6 2053.1h2v2h-2zM1688.7 2041.3h2v2h-2zM1667.3 2067.0h2v2h-2zM1658.8 2058.6h2v2h-2zM1666.2 2035.6h2v2h-2zM1717.3 2034.8h2v2h-2zM1710.3 2049.5h2v2h-2zM1648.0 2041.8h2v2h-2zM1657.4 2057.4h2v2h-2zM1658.8 2053.0h2v2h-2zM1710.8 2029.5h2v2h-2zM1674.2 2033.4h2v2h-2zM1702.6 2024.3h2v2h-2zM1656.0 2034.3h2v2h-2zM1688.3 2042.9h2v2h-2zM1649.6 2046.8h2v2h-2zM1697.1 2026.1h2v2h-2zM1641.9 2058.0h2v2h-2zM1685.4 2025.2h2v2h-2zM1644.7 2070.4h2v2h-2zM1659.3 2042.1h2v2h-2zM1681.6 2044.9h2v2h-2zM1680.9 2048.2h2v2h-2zM1669.9 2067.2h2v2h-2zM1640.9 2073.7h2v2h-2zM1652.2 2066.5h2v2h-2zM1681.9 2057.4h2v2h-2zM1732.2 2019.7h2v2h-2zM1664.7 2043.6h2v2h-2zM1672.7 2024.4h2v2h-2zM1710.0 2031.3h2v2h-2zM1678.7 2032.8h2v2h-2zM1719.2 2025.1h2v2h-2zM1674.4 2038.2h2v2h-2zM1660.9 2057.5h2v2h-2zM1681.3 2032.2h2v2h-2zM1684.8 2035.5h2v2h-2zM1699.0 2018.2h2v2h-2zM1701.7 2021.3h2v2h-2zM1673.3 2039.4h2v2h-2zM1661.9 2071.2h2v2h-2zM1703.3 2017.9h2v2h-2zM1654.4 2050.5h2v2h-2z" fill="#2c7bb9" fill-opacity="0.38"/>
<path d="M1691.5 2128.0h2.6v2.6h-2.6zM1661.3 2144.9h2.6v2.6h-2.6zM1609.8 2077.3h2.6v2.6h-2.6zM1621.6 2086.8h2.6v2.6h-2.6zM1643.7 2092.7h2.6v2.6h-2.6zM1729.0 2050.1h2.6v2.6h-2.6zM1729.7 2015.5h2.6v2.6h-2.6zM1731.9 2003.8h2.6v2.6h-2.6z" fill="#6f8fc0" fill-opacity="0.55"/>
<line x1="1658.20" y1="1908.70" x2="1658.20" y2="2160.70" stroke="#444" stroke-width="1.3" />
<line x1="1557.00" y1="2068.00" x2="1832.80" y2="2068.00" stroke="#444" stroke-width="1.3" />
<line x1="1569.10" y1="2149.40" x2="1820.20" y2="1920.00" stroke="#333" stroke-width="1.5" />
<rect x="1557.00" y="1908.70" width="275.80" height="252.00" fill="none" stroke="#1a1a1a" stroke-width="2.8"/>
<line x1="1550.50" y1="2142.00" x2="1557.00" y2="2142.00" stroke="#1a1a1a" stroke-width="2.8" />
<line x1="1577.20" y1="2160.70" x2="1577.20" y2="2167.20" stroke="#1a1a1a" stroke-width="2.8" />
<text x="1543.41" y="2148.60" font-size="19.20" text-anchor="end" fill="#1a1a1a">−5</text>
<text x="1566.19" y="2187.20" font-size="19.20" text-anchor="start" fill="#1a1a1a">−5</text>
<line x1="1550.50" y1="2068.00" x2="1557.00" y2="2068.00" stroke="#1a1a1a" stroke-width="2.8" />
<line x1="1658.20" y1="2160.70" x2="1658.20" y2="2167.20" stroke="#1a1a1a" stroke-width="2.8" />
<text x="1543.35" y="2074.60" font-size="19.20" text-anchor="end" fill="#1a1a1a">0</text>
<text x="1652.86" y="2187.20" font-size="19.20" text-anchor="start" fill="#1a1a1a">0</text>
<line x1="1550.50" y1="1994.00" x2="1557.00" y2="1994.00" stroke="#1a1a1a" stroke-width="2.8" />
<line x1="1739.20" y1="2160.70" x2="1739.20" y2="2167.20" stroke="#1a1a1a" stroke-width="2.8" />
<text x="1543.41" y="2000.60" font-size="19.20" text-anchor="end" fill="#1a1a1a">5</text>
<text x="1733.88" y="2187.20" font-size="19.20" text-anchor="start" fill="#1a1a1a">5</text>
<line x1="1550.50" y1="1920.00" x2="1557.00" y2="1920.00" stroke="#1a1a1a" stroke-width="2.8" />
<line x1="1820.20" y1="2160.70" x2="1820.20" y2="2167.20" stroke="#1a1a1a" stroke-width="2.8" />
<text x="1543.35" y="1926.60" font-size="19.20" text-anchor="end" fill="#1a1a1a">10</text>
<text x="1809.17" y="2187.20" font-size="19.20" text-anchor="start" fill="#1a1a1a">10</text>
<text x="1592.55" y="1896.90" font-size="20.60" text-anchor="start" textLength="204.93" lengthAdjust="spacingAndGlyphs" fill="#1a1a1a">dilution factor = 0.70</text>
<text x="1576.53" y="1948.90" font-size="19.20" text-anchor="start" fill="#1a1a1a">r = 0.647</text>
<text x="1510.80" y="2160.32" font-size="21.50" text-anchor="start" textLength="258.19" lengthAdjust="spacingAndGlyphs" transform="rotate(-90 1510.80 2160.32)" fill="#1a1a1a">observed log2(heavy/light)</text>
<text x="1573.57" y="2211.50" font-size="21.50" text-anchor="start" textLength="257.59" lengthAdjust="spacingAndGlyphs" fill="#1a1a1a">expected log2(heavy/light)</text>
<ellipse cx="1967.0" cy="2059.5" rx="28.6" ry="9.1" transform="rotate(-39.5 1967.0 2059.5)" fill="#2677b5" filter="url(#blur1)"/>
<path d="M1984.0 2041.9h2v2h-2zM1989.7 2049.9h2v2h-2zM1935.5 2094.2h2v2h-2zM1960.1 2070.7h2v2h-2zM1967.8 2061.4h2v2h-2zM1951.2 2077.0h2v2h-2zM1979.2 2065.1h2v2h-2zM1968.6 2062.4h2v2h-2zM1973.1 2048.6h2v2h-2zM1963.6 2068.4h2v2h-2zM1986.9 2045.1h2v2h-2zM1933.9 2082.9h2v2h-2zM1964.2 2057.6h2v2h-2zM1966.1 2048.0h2v2h-2zM1974.2 2058.7h2v2h-2zM1979.3 2039.7h2v2h-2zM1962.3 2060.6h2v2h-2zM1937.2 2077.8h2v2h-2zM1983.9 2042.4h2v2h-2zM1960.9 2067.3h2v2h-2zM1960.5 2060.8h2v2h-2zM1949.1 2074.5h2v2h-2zM1949.7 2064.2h2v2h-2zM1973.2 2054.6h2v2h-2zM1956.5 2069.4h2v2h-2zM1940.0 2072.9h2v2h-2zM1990.3 2049.2h2v2h-2zM1986.9 2045.9h2v2h-2zM1998.6 2040.2h2v2h-2zM1948.3 2074.2h2v2h-2zM1986.0 2038.2h2v2h-2zM1958.0 2067.3h2v2h-2zM1950.9 2080.9h2v2h-2zM1944.9 2075.3h2v2h-2zM1974.5 2058.8h2v2h-2zM1946.8 2060.9h2v2h-2zM1977.4 2057.1h2v2h-2zM1999.6 2033.4h2v2h-2zM1960.4 2061.4h2v2h-2zM1967.1 2068.0h2v2h-2zM1969.9 2047.6h2v2h-2zM1951.0 2073.9h2v2h-2zM1972.5 2048.6h2v2h-2zM1957.4 2064.1h2v2h-2zM1959.9 2070.7h2v2h-2zM1984.6 2064.7h2v2h-2zM1961.6 2068.5h2v2h-2zM1972.6 2045.9h2v2h-2zM1950.6 2060.3h2v2h-2zM1958.6 2059.5h2v2h-2zM1948.1 2068.9h2v2h-2zM1976.0 2063.4h2v2h-2zM1966.9 2067.6h2v2h-2zM2019.2 2019.1h2v2h-2zM1992.3 2052.1h2v2h-2zM1992.6 2041.7h2v2h-2zM1940.2 2072.8h2v2h-2zM1969.7 2043.0h2v2h-2zM1949.4 2085.5h2v2h-2zM1953.5 2083.8h2v2h-2zM1979.2 2041.9h2v2h-2zM1996.9 2038.4h2v2h-2zM1956.9 2058.6h2v2h-2zM1957.8 2078.0h2v2h-2zM1952.4 2082.1h2v2h-2zM1983.2 2065.0h2v2h-2zM1958.4 2068.9h2v2h-2zM1936.7 2067.6h2v2h-2zM1985.3 2042.7h2v2h-2zM1971.0 2057.6h2v2h-2zM1990.0 2056.4h2v2h-2zM1979.1 2042.7h2v2h-2zM1963.0 2060.9h2v2h-2zM1960.2 2064.8h2v2h-2zM1948.9 2067.2h2v2h-2zM1952.2 2062.2h2v2h-2zM1957.8 2070.2h2v2h-2zM1977.6 2051.7h2v2h-2zM1936.6 2088.7h2v2h-2zM1965.5 2054.1h2v2h-2zM1949.5 2072.4h2v2h-2zM1940.3 2070.0h2v2h-2zM1945.2 2065.7h2v2h-2zM1991.2 2037.3h2v2h-2zM1984.6 2045.0h2v2h-2zM1968.9 2062.7h2v2h-2zM1967.3 2063.0h2v2h-2zM1932.7 2081.6h2v2h-2zM1960.1 2067.2h2v2h-2zM1964.1 2070.4h2v2h-2zM1955.3 2068.8h2v2h-2zM1988.2 2051.3h2v2h-2zM1972.2 2045.4h2v2h-2zM1963.4 2060.4h2v2h-2zM1981.6 2051.5h2v2h-2zM1967.7 2042.6h2v2h-2zM1980.6 2040.2h2v2h-2zM1950.6 2064.8h2v2h-2zM1947.0 2074.0h2v2h-2zM1960.5 2054.3h2v2h-2zM2007.5 2028.2h2v2h-2zM1969.1 2047.5h2v2h-2zM1998.6 2033.4h2v2h-2zM1983.8 2052.6h2v2h-2zM1931.3 2076.2h2v2h-2zM1940.7 2084.7h2v2h-2zM1985.1 2048.4h2v2h-2zM1991.4 2036.5h2v2h-2zM1945.4 2073.7h2v2h-2zM1975.3 2041.2h2v2h-2zM1952.0 2076.9h2v2h-2zM1975.0 2063.5h2v2h-2zM1940.9 2060.5h2v2h-2zM1968.3 2054.9h2v2h-2zM1976.0 2061.8h2v2h-2zM1985.8 2052.8h2v2h-2zM1974.5 2060.8h2v2h-2zM1946.2 2063.7h2v2h-2zM1969.6 2053.7h2v2h-2zM1971.1 2065.7h2v2h-2zM1949.3 2068.8h2v2h-2zM1987.5 2039.9h2v2h-2zM1967.5 2059.3h2v2h-2zM1981.9 2047.9h2v2h-2zM1976.0 2053.8h2v2h-2zM1951.6 2049.7h2v2h-2zM1943.2 2078.4h2v2h-2zM1987.8 2053.3h2v2h-2zM1989.9 2054.3h2v2h-2zM1960.6 2070.8h2v2h-2zM1953.8 2054.8h2v2h-2zM1947.1 2068.2h2v2h-2zM1968.7 2054.3h2v2h-2zM1977.5 2056.8h2v2h-2zM1949.5 2077.4h2v2h-2zM1971.7 2057.4h2v2h-2zM1981.0 2046.6h2v2h-2zM1964.1 2059.5h2v2h-2zM1967.9 2052.3h2v2h-2zM1942.8 2076.4h2v2h-2zM1975.7 2066.7h2v2h-2zM1962.4 2078.3h2v2h-2zM1959.4 2079.9h2v2h-2zM1949.1 2072.6h2v2h-2zM1947.4 2084.0h2v2h-2zM1965.9 2071.3h2v2h-2zM1957.8 2068.2h2v2h-2zM1961.1 2071.0h2v2h-2zM1953.6 2069.8h2v2h-2zM1932.7 2073.9h2v2h-2zM1974.3 2060.8h2v2h-2zM1957.1 2074.8h2v2h-2zM1951.2 2079.5h2v2h-2zM1960.5 2057.2h2v2h-2zM1959.0 2062.0h2v2h-2zM1946.0 2086.1h2v2h-2zM1979.6 2053.0h2v2h-2zM1970.5 2044.2h2v2h-2zM1962.2 2075.1h2v2h-2zM1980.8 2049.9h2v2h-2zM1957.4 2056.9h2v2h-2zM1981.1 2047.1h2v2h-2zM1980.1 2051.5h2v2h-2zM2023.4 2032.3h2v2h-2zM1977.3 2046.7h2v2h-2zM1976.9 2052.7h2v2h-2zM1978.9 2055.9h2v2h-2zM1981.7 2047.3h2v2h-2zM1995.1 2034.3h2v2h-2zM1973.9 2066.1h2v2h-2zM1959.9 2071.4h2v2h-2zM1970.0 2063.2h2v2h-2zM1990.3 2045.5h2v2h-2zM1973.4 2061.0h2v2h-2zM1945.5 2057.0h2v2h-2zM1972.0 2066.2h2v2h-2zM1979.2 2051.7h2v2h-2zM1941.4 2086.2h2v2h-2zM2000.9 2040.1h2v2h-2zM1929.4 2084.6h2v2h-2zM1944.2 2067.7h2v2h-2zM1972.2 2062.3h2v2h-2zM1973.1 2051.3h2v2h-2zM2013.7 2024.7h2v2h-2zM1956.1 2068.5h2v2h-2zM1963.9 2059.5h2v2h-2zM1972.9 2052.9h2v2h-2zM1964.0 2078.7h2v2h-2zM1960.0 2070.4h2v2h-2zM1968.9 2046.3h2v2h-2zM1951.1 2076.8h2v2h-2zM1953.4 2063.1h2v2h-2zM1940.5 2093.0h2v2h-2zM1960.7 2058.5h2v2h-2zM1948.9 2054.0h2v2h-2zM1943.4 2082.6h2v2h-2zM1922.7 2083.5h2v2h-2zM1968.8 2047.6h2v2h-2zM1963.1 2064.0h2v2h-2zM1937.8 2065.7h2v2h-2zM1975.6 2042.0h2v2h-2zM1978.5 2053.3h2v2h-2zM1989.7 2039.4h2v2h-2zM1973.9 2044.1h2v2h-2zM1976.6 2057.7h2v2h-2zM1972.2 2065.2h2v2h-2zM1947.2 2070.6h2v2h-2zM1973.3 2056.7h2v2h-2zM1958.7 2074.4h2v2h-2zM1983.4 2053.1h2v2h-2zM1958.3 2074.6h2v2h-2zM1997.5 2043.5h2v2h-2zM1989.9 2048.2h2v2h-2zM1965.5 2061.2h2v2h-2zM1964.9 2062.1h2v2h-2zM1948.5 2062.9h2v2h-2zM1975.1 2046.1h2v2h-2zM1978.3 2059.1h2v2h-2zM1972.7 2053.6h2v2h-2zM1960.3 2074.2h2v2h-2zM1962.4 2058.9h2v2h-2zM1973.4 2046.1h2v2h-2zM1941.9 2084.9h2v2h-2zM1955.2 2065.2h2v2h-2zM1984.5 2045.8h2v2h-2zM1980.5 2061.7h2v2h-2zM1976.0 2061.3h2v2h-2zM1960.7 2067.5h2v2h-2zM1938.2 2085.2h2v2h-2zM1976.2 2047.8h2v2h-2zM1973.5 2059.2h2v2h-2zM1974.9 2044.0h2v2h-2zM1961.6 2045.7h2v2h-2zM1978.0 2050.3h2v2h-2zM1961.6 2057.0h2v2h-2zM1947.3 2077.7h2v2h-2zM1954.0 2074.5h2v2h-2zM1967.7 2048.4h2v2h-2zM1978.6 2061.3h2v2h-2zM1962.2 2061.5h2v2h-2zM1982.7 2035.4h2v2h-2zM1966.5 2058.1h2v2h-2zM1959.7 2084.9h2v2h-2zM1978.1 2049.2h2v2h-2zM1984.0 2047.3h2v2h-2zM1974.5 2050.3h2v2h-2zM1922.3 2091.2h2v2h-2zM1955.5 2062.9h2v2h-2zM1945.7 2066.6h2v2h-2zM1971.3 2051.0h2v2h-2zM1976.5 2062.5h2v2h-2zM2000.1 2035.5h2v2h-2zM1928.3 2086.7h2v2h-2zM1959.3 2063.0h2v2h-2zM1950.6 2064.4h2v2h-2zM1988.8 2032.6h2v2h-2zM1969.7 2058.4h2v2h-2zM1993.9 2035.5h2v2h-2zM1942.4 2095.8h2v2h-2zM1990.8 2043.0h2v2h-2zM1954.7 2069.8h2v2h-2zM1980.5 2044.9h2v2h-2zM1967.6 2053.0h2v2h-2zM1975.9 2053.8h2v2h-2zM1960.3 2076.1h2v2h-2zM1951.3 2072.2h2v2h-2zM1967.9 2050.1h2v2h-2zM1940.7 2088.2h2v2h-2zM1976.6 2053.3h2v2h-2zM1971.8 2053.4h2v2h-2zM1971.0 2041.7h2v2h-2zM1966.7 2069.8h2v2h-2zM1977.6 2057.3h2v2h-2zM1955.2 2066.1h2v2h-2zM1941.2 2071.3h2v2h-2zM1958.1 2083.5h2v2h-2zM1969.4 2054.4h2v2h-2zM1978.4 2055.3h2v2h-2zM1979.3 2045.2h2v2h-2zM1944.5 2073.0h2v2h-2zM1954.4 2071.8h2v2h-2zM1982.0 2041.5h2v2h-2zM1973.9 2053.2h2v2h-2zM1934.7 2080.8h2v2h-2zM1953.0 2072.8h2v2h-2zM1974.2 2065.5h2v2h-2zM1968.1 2056.3h2v2h-2zM1960.4 2064.9h2v2h-2zM1991.3 2057.3h2v2h-2zM1971.1 2056.2h2v2h-2zM1962.7 2077.5h2v2h-2zM1980.3 2052.1h2v2h-2zM1984.4 2049.2h2v2h-2zM1996.5 2047.1h2v2h-2zM1954.3 2069.9h2v2h-2zM1999.9 2032.4h2v2h-2zM1953.0 2085.8h2v2h-2zM1971.8 2059.8h2v2h-2zM1964.5 2070.2h2v2h-2zM1961.0 2064.9h2v2h-2zM1975.1 2046.4h2v2h-2zM1986.0 2047.5h2v2h-2zM1970.2 2054.6h2v2h-2zM1945.6 2066.0h2v2h-2zM1985.4 2037.8h2v2h-2zM1951.1 2067.5h2v2h-2zM1973.9 2048.3h2v2h-2zM1991.2 2043.7h2v2h-2zM1976.4 2071.2h2v2h-2zM1951.2 2073.9h2v2h-2zM1952.6 2070.7h2v2h-2zM1992.1 2037.9h2v2h-2zM1955.7 2081.0h2v2h-2zM1933.0 2076.9h2v2h-2zM1992.2 2041.9h2v2h-2zM1965.2 2059.4h2v2h-2zM1957.0 2075.6h2v2h-2zM1964.9 2063.0h2v2h-2zM1974.4 2051.2h2v2h-2zM1986.8 2040.0h2v2h-2zM1988.1 2051.4h2v2h-2zM1981.5 2054.3h2v2h-2zM1983.4 2052.9h2v2h-2zM1955.5 2079.2h2v2h-2zM1981.5 2045.7h2v2h-2z" fill="#2c7bb9" fill-opacity="0.38"/>
<path d="M1957.7 2092.5h2v2h-2zM1931.5 2070.2h2v2h-2zM1984.8 2051.6h2v2h-2zM1970.0 2037.3h2v2h-2zM1963.0 2064.6h2v2h-2zM1962.6 2073.1h2v2h-2zM1976.5 2054.5h2v2h-2zM2001.2 2040.1h2v2h-2zM1970.7 2066.4h2v2h-2zM1970.8 2053.0h2v2h-2zM1950.4 2078.5h2v2h-2zM1978.8 2052.3h2v2h-2zM1989.1 2065.2h2v2h-2zM1946.4 2084.4h2v2h-2zM1929.2 2084.7h2v2h-2zM1948.4 2060.6h2v2h-2zM1961.0 2067.0h2v2h-2zM1962.9 2065.5h2v2h-2zM1975.6 2066.3h2v2h-2zM1964.1 2061.6h2v2h-2zM1974.8 2058.1h2v2h-2zM1964.4 2054.1h2v2h-2zM1971.4 2052.7h2v2h-2zM1956.7 2062.8h2v2h-2zM1983.2 2052.0h2v2h-2zM1984.2 2059.7h2v2h-2zM1964.3 2063.5h2v2h-2zM1961.5 2076.1h2v2h-2zM1975.5 2056.0h2v2h-2zM1969.7 2059.0h2v2h-2zM1990.3 2037.0h2v2h-2zM1975.4 2039.2h2v2h-2zM1986.6 2038.4h2v2h-2zM1972.5 2055.3h2v2h-2zM1969.9 2054.4h2v2h-2zM1988.3 2046.0h2v2h-2zM1945.6 2073.4h2v2h-2zM1965.9 2064.1h2v2h-2zM1968.9 2054.8h2v2h-2zM1961.2 2051.7h2v2h-2zM1959.1 2061.9h2v2h-2zM1958.5 2080.9h2v2h-2zM1951.3 2068.9h2v2h-2zM1957.2 2082.2h2v2h-2zM1965.9 2058.0h2v2h-2zM1970.4 2046.3h2v2h-2zM1947.2 2070.2h2v2h-2zM1961.6 2071.3h2v2h-2zM1997.7 2029.9h2v2h-2zM1967.8 2081.8h2v2h-2zM1973.2 2054.4h2v2h-2zM1942.6 2082.2h2v2h-2zM1983.0 2037.8h2v2h-2zM1984.8 2043.1h2v2h-2zM1963.0 2061.3h2v2h-2zM1976.7 2041.4h2v2h-2zM1975.2 2037.1h2v2h-2zM1965.6 2064.8h2v2h-2zM1995.2 2043.6h2v2h-2zM2006.0 2028.2h2v2h-2zM1974.1 2055.9h2v2h-2zM1980.4 2066.9h2v2h-2zM1971.4 2051.0h2v2h-2zM1975.3 2061.9h2v2h-2zM1962.1 2063.4h2v2h-2zM1972.4 2055.3h2v2h-2zM1972.6 2050.2h2v2h-2zM1943.2 2073.0h2v2h-2zM1994.8 2039.7h2v2h-2zM1991.4 2035.5h2v2h-2zM1989.1 2042.1h2v2h-2zM1956.0 2062.6h2v2h-2zM1965.6 2053.7h2v2h-2zM1973.6 2055.0h2v2h-2zM1943.5 2071.0h2v2h-2zM1940.3 2083.1h2v2h-2zM1975.1 2042.1h2v2h-2zM1981.1 2049.6h2v2h-2zM1973.2 2061.6h2v2h-2zM1958.1 2065.8h2v2h-2zM1962.5 2048.6h2v2h-2zM1978.6 2065.6h2v2h-2zM1994.0 2049.2h2v2h-2zM1989.8 2049.6h2v2h-2zM1995.4 2036.1h2v2h-2zM1988.0 2042.0h2v2h-2zM1981.7 2070.1h2v2h-2zM1976.5 2056.7h2v2h-2zM1981.3 2044.7h2v2h-2zM1961.4 2064.4h2v2h-2zM1970.1 2062.3h2v2h-2zM1975.3 2055.2h2v2h-2zM1959.2 2054.9h2v2h-2zM1967.1 2064.8h2v2h-2zM1952.3 2075.0h2v2h-2zM1985.4 2053.8h2v2h-2zM1966.9 2064.4h2v2h-2zM1979.4 2049.7h2v2h-2zM1964.0 2054.3h2v2h-2zM1974.7 2048.2h2v2h-2zM1939.6 2073.3h2v2h-2zM1963.9 2074.2h2v2h-2zM1956.8 2076.2h2v2h-2zM1969.0 2069.0h2v2h-2zM1960.2 2055.8h2v2h-2zM1958.0 2077.4h2v2h-2zM1963.7 2055.0h2v2h-2zM1972.7 2064.9h2v2h-2zM1957.8 2062.4h2v2h-2zM1966.7 2057.3h2v2h-2zM1958.9 2068.6h2v2h-2zM1966.1 2051.9h2v2h-2zM1960.3 2071.4h2v2h-2zM1922.8 2088.7h2v2h-2zM1990.9 2044.7h2v2h-2zM1938.5 2080.0h2v2h-2zM1950.2 2068.2h2v2h-2zM1956.9 2070.5h2v2h-2zM1978.8 2045.4h2v2h-2zM1955.3 2077.2h2v2h-2zM1965.7 2057.3h2v2h-2zM1972.1 2044.7h2v2h-2zM1966.8 2061.0h2v2h-2zM2000.8 2035.1h2v2h-2zM1959.8 2063.6h2v2h-2zM2000.1 2044.6h2v2h-2zM1975.3 2058.2h2v2h-2zM1952.7 2077.0h2v2h-2zM1935.0 2067.4h2v2h-2zM1936.7 2076.2h2v2h-2zM1986.2 2049.6h2v2h-2zM1981.4 2051.5h2v2h-2zM1963.8 2071.8h2v2h-2zM1986.7 2051.2h2v2h-2zM1993.9 2038.2h2v2h-2zM1965.3 2066.7h2v2h-2zM1954.0 2060.2h2v2h-2zM1972.0 2060.3h2v2h-2zM1950.3 2072.9h2v2h-2zM1958.7 2080.5h2v2h-2zM2004.6 2048.3h2v2h-2zM1991.6 2028.8h2v2h-2zM1949.3 2082.1h2v2h-2zM1992.4 2029.8h2v2h-2zM1950.4 2052.0h2v2h-2zM1986.9 2050.1h2v2h-2zM1988.2 2040.9h2v2h-2zM1937.7 2079.6h2v2h-2zM1969.4 2052.7h2v2h-2zM1958.7 2076.8h2v2h-2zM1992.8 2027.4h2v2h-2zM1929.4 2085.3h2v2h-2zM1980.0 2044.3h2v2h-2zM1995.3 2033.0h2v2h-2zM1946.8 2073.1h2v2h-2zM1992.0 2045.5h2v2h-2zM1937.4 2070.5h2v2h-2zM1983.0 2057.4h2v2h-2zM1974.6 2043.1h2v2h-2zM1974.3 2057.2h2v2h-2zM1987.6 2050.3h2v2h-2zM1958.3 2070.1h2v2h-2zM1984.2 2064.0h2v2h-2zM1953.1 2067.2h2v2h-2zM1966.7 2052.8h2v2h-2zM1957.2 2070.9h2v2h-2zM1972.7 2062.1h2v2h-2zM1974.6 2050.0h2v2h-2zM1973.2 2044.8h2v2h-2zM1964.7 2063.4h2v2h-2zM2006.4 2039.4h2v2h-2zM1963.5 2052.4h2v2h-2zM1964.6 2052.9h2v2h-2zM1960.2 2063.7h2v2h-2zM1983.2 2045.2h2v2h-2zM1959.0 2074.6h2v2h-2zM1970.4 2043.2h2v2h-2zM1956.8 2056.1h2v2h-2zM1979.5 2055.1h2v2h-2zM1983.9 2031.9h2v2h-2zM1950.3 2069.5h2v2h-2zM1988.3 2026.4h2v2h-2zM1954.5 2054.1h2v2h-2zM1977.5 2040.1h2v2h-2zM1997.5 2036.8h2v2h-2zM1989.3 2041.6h2v2h-2zM1944.1 2068.1h2v2h-2zM1978.1 2060.1h2v2h-2zM1955.5 2074.5h2v2h-2zM1967.9 2048.7h2v2h-2zM1969.6 2065.6h2v2h-2zM1953.9 2073.1h2v2h-2zM1949.9 2075.6h2v2h-2zM1989.5 2043.0h2v2h-2zM1968.3 2052.2h2v2h-2zM1991.2 2040.1h2v2h-2zM1970.6 2066.0h2v2h-2zM1965.2 2072.2h2v2h-2zM1992.5 2052.8h2v2h-2zM1943.3 2067.0h2v2h-2zM1978.3 2058.3h2v2h-2zM1974.5 2046.5h2v2h-2zM1964.5 2062.3h2v2h-2zM1971.3 2071.0h2v2h-2zM1984.5 2040.8h2v2h-2zM1965.1 2046.2h2v2h-2zM1997.2 2028.4h2v2h-2zM1986.8 2039.6h2v2h-2zM1957.2 2074.5h2v2h-2zM1968.2 2060.2h2v2h-2zM1976.9 2062.9h2v2h-2zM1931.6 2078.5h2v2h-2zM1984.4 2045.8h2v2h-2zM2008.2 2039.0h2v2h-2zM1972.6 2064.6h2v2h-2zM1936.8 2081.7h2v2h-2zM1941.0 2070.4h2v2h-2zM1954.3 2067.5h2v2h-2zM1954.0 2082.2h2v2h-2zM1946.1 2075.6h2v2h-2zM1963.5 2059.5h2v2h-2zM1938.3 2078.4h2v2h-2zM1967.7 2063.2h2v2h-2zM1963.8 2045.4h2v2h-2zM1972.2 2044.1h2v2h-2zM1963.9 2056.8h2v2h-2zM1971.1 2052.4h2v2h-2zM1970.5 2046.6h2v2h-2zM1989.4 2036.2h2v2h-2zM1957.4 2055.9h2v2h-2zM1958.8 2048.0h2v2h-2zM1980.1 2045.6h2v2h-2zM1974.7 2056.2h2v2h-2zM1960.1 2062.4h2v2h-2zM1965.5 2068.6h2v2h-2zM1959.1 2057.1h2v2h-2zM1948.8 2075.9h2v2h-2zM1994.8 2036.9h2v2h-2zM1977.3 2039.8h2v2h-2zM2002.8 2038.6h2v2h-2zM1955.7 2070.1h2v2h-2zM1968.6 2067.7h2v2h-2zM1968.5 2048.0h2v2h-2zM1974.8 2038.6h2v2h-2zM1971.8 2061.8h2v2h-2zM1956.8 2064.6h2v2h-2zM1964.7 2055.8h2v2h-2zM1964.1 2054.2h2v2h-2zM1980.4 2047.3h2v2h-2zM1955.8 2071.8h2v2h-2zM1986.1 2037.3h2v2h-2zM2007.1 2017.6h2v2h-2zM1935.5 2072.3h2v2h-2zM1962.9 2066.2h2v2h-2zM1961.6 2060.4h2v2h-2zM1949.6 2055.7h2v2h-2zM1941.6 2063.2h2v2h-2zM1963.7 2056.2h2v2h-2zM1966.1 2062.4h2v2h-2zM1958.5 2056.9h2v2h-2zM1943.5 2078.3h2v2h-2zM1961.3 2063.3h2v2h-2zM1950.0 2072.9h2v2h-2zM1966.8 2060.1h2v2h-2zM1927.7 2088.2h2v2h-2zM2014.0 2032.7h2v2h-2zM1981.7 2022.9h2v2h-2zM1996.9 2049.4h2v2h-2zM1969.6 2052.1h2v2h-2zM1975.3 2051.5h2v2h-2zM1984.2 2046.2h2v2h-2zM1945.8 2070.6h2v2h-2zM1973.2 2039.3h2v2h-2zM1977.2 2051.2h2v2h-2zM1955.0 2067.7h2v2h-2zM1971.8 2055.8h2v2h-2zM1967.5 2050.8h2v2h-2zM1959.0 2064.6h2v2h-2zM1968.9 2050.3h2v2h-2zM1972.8 2061.0h2v2h-2zM1982.2 2041.0h2v2h-2zM1976.0 2046.1h2v2h-2zM1979.4 2063.4h2v2h-2zM1963.9 2052.6h2v2h-2zM1979.3 2044.4h2v2h-2zM1958.0 2069.6h2v2h-2zM1969.0 2061.6h2v2h-2zM1947.0 2080.8h2v2h-2zM1958.1 2074.6h2v2h-2zM1969.9 2069.1h2v2h-2zM1986.4 2059.6h2v2h-2zM1971.7 2047.1h2v2h-2zM1986.1 2049.1h2v2h-2zM1981.6 2042.7h2v2h-2zM1965.5 2050.6h2v2h-2zM1954.2 2075.6h2v2h-2zM1987.6 2055.3h2v2h-2zM1961.3 2053.0h2v2h-2zM1942.5 2076.5h2v2h-2zM1952.2 2066.1h2v2h-2zM1993.0 2057.4h2v2h-2zM1952.3 2057.2h2v2h-2zM1956.7 2060.3h2v2h-2zM1977.3 2044.7h2v2h-2zM1964.9 2050.6h2v2h-2zM1983.6 2049.5h2v2h-2zM1949.0 2070.4h2v2h-2zM1979.7 2042.5h2v2h-2zM1937.5 2076.6h2v2h-2zM1958.2 2069.6h2v2h-2zM1957.9 2081.7h2v2h-2zM1988.0 2057.5h2v2h-2zM1979.8 2048.2h2v2h-2zM1973.7 2052.4h2v2h-2zM1960.7 2061.8h2v2h-2zM1983.8 2061.4h2v2h-2zM1987.9 2041.3h2v2h-2zM1980.9 2045.1h2v2h-2zM1980.8 2052.9h2v2h-2zM1943.3 2070.6h2v2h-2zM1998.6 2035.4h2v2h-2zM1945.8 2081.0h2v2h-2zM1984.7 2047.1h2v2h-2zM1974.2 2046.0h2v2h-2zM1969.2 2048.0h2v2h-2z" fill="#2c7bb9" fill-opacity="0.38"/>
<path d="M1976.4 2048.5h2v2h-2zM1956.2 2070.9h2v2h-2zM1934.5 2073.8h2v2h-2zM1955.7 2073.9h2v2h-2zM1974.6 2053.2h2v2h-2zM1972.2 2060.0h2v2h-2zM1922.7 2083.2h2v2h-2zM2000.7 2045.2h2v2h-2zM1953.0 2067.7h2v2h-2zM1976.7 2047.7h2v2h-2zM1966.6 2058.5h2v2h-2zM1978.9 2049.1h2v2h-2zM1983.1 2056.4h2v2h-2zM1972.2 2055.8h2v2h-2zM1999.5 2048.3h2v2h-2zM1968.1 2074.2h2v2h-2zM1957.1 2060.3h2v2h-2zM1952.1 2072.1h2v2h-2zM1975.8 2062.0h2v2h-2zM1999.5 2037.3h2v2h-2zM1993.0 2039.7h2v2h-2zM1964.9 2056.1h2v2h-2zM1963.4 2070.0h2v2h-2zM1961.0 2054.5h2v2h-2zM1966.0 2060.2h2v2h-2zM1949.7 2077.7h2v2h-2zM1955.7 2054.8h2v2h-2zM1943.4 2072.6h2v2h-2zM1994.3 2037.7h2v2h-2zM1969.2 2064.2h2v2h-2zM1979.3 2046.8h2v2h-2zM1951.7 2075.3h2v2h-2zM1954.5 2056.7h2v2h-2zM1978.3 2041.9h2v2h-2zM1972.4 2064.6h2v2h-2zM1964.6 2052.8h2v2h-2zM1948.8 2081.1h2v2h-2zM1985.1 2053.0h2v2h-2zM1963.0 2070.8h2v2h-2zM1981.1 2033.9h2v2h-2zM1964.3 2062.3h2v2h-2zM1947.3 2065.7h2v2h-2zM1950.5 2063.0h2v2h-2zM1957.8 2075.7h2v2h-2zM1960.2 2062.6h2v2h-2zM1929.4 2081.6h2v2h-2zM1983.9 2053.3h2v2h-2zM2003.1 2040.3h2v2h-2zM1950.8 2068.6h2v2h-2zM1958.7 2074.9h2v2h-2zM1967.6 2063.5h2v2h-2zM1973.5 2050.0h2v2h-2zM1924.4 2079.6h2v2h-2zM1974.2 2048.4h2v2h-2zM1957.5 2058.1h2v2h-2zM1948.5 2087.4h2v2h-2zM1953.3 2074.7h2v2h-2zM1949.8 2082.1h2v2h-2zM1974.1 2035.6h2v2h-2zM1974.1 2045.2h2v2h-2zM1985.4 2054.2h2v2h-2zM1947.3 2077.2h2v2h-2zM1975.8 2060.2h2v2h-2zM1958.8 2069.8h2v2h-2zM1950.2 2057.1h2v2h-2zM1969.4 2055.7h2v2h-2zM1973.2 2063.6h2v2h-2zM1981.0 2047.1h2v2h-2zM1955.6 2065.5h2v2h-2zM2000.6 2025.0h2v2h-2zM1946.9 2068.1h2v2h-2zM1993.2 2032.3h2v2h-2zM1983.3 2055.5h2v2h-2zM1967.4 2057.2h2v2h-2zM1918.3 2101.9h2v2h-2zM1966.6 2077.5h2v2h-2zM1974.9 2048.0h2v2h-2zM1938.1 2076.6h2v2h-2zM1958.4 2074.3h2v2h-2zM1962.2 2063.8h2v2h-2zM1954.5 2084.5h2v2h-2zM1952.6 2060.1h2v2h-2zM1961.9 2064.9h2v2h-2zM1994.8 2030.7h2v2h-2zM1976.2 2058.9h2v2h-2zM1950.6 2061.3h2v2h-2zM1974.4 2049.7h2v2h-2zM1967.4 2069.4h2v2h-2zM1981.4 2051.1h2v2h-2zM1990.3 2037.1h2v2h-2zM1930.4 2099.8h2v2h-2zM1932.4 2080.8h2v2h-2zM1963.6 2059.3h2v2h-2zM1979.6 2053.9h2v2h-2zM1966.2 2043.6h2v2h-2zM1957.3 2061.0h2v2h-2zM1948.4 2066.4h2v2h-2zM1972.0 2045.6h2v2h-2zM1964.4 2059.5h2v2h-2zM1941.9 2057.9h2v2h-2zM1992.5 2038.8h2v2h-2zM1946.6 2069.1h2v2h-2zM1985.2 2039.8h2v2h-2zM1956.6 2070.8h2v2h-2zM1961.7 2061.8h2v2h-2zM1973.1 2054.2h2v2h-2zM1970.5 2040.1h2v2h-2zM1953.5 2073.2h2v2h-2zM1981.5 2051.3h2v2h-2zM1931.0 2077.2h2v2h-2zM1993.5 2032.7h2v2h-2zM1955.6 2075.8h2v2h-2zM1974.1 2068.9h2v2h-2zM1971.8 2056.0h2v2h-2zM1939.0 2082.7h2v2h-2zM1987.3 2040.3h2v2h-2zM1971.2 2052.1h2v2h-2zM1949.6 2070.6h2v2h-2zM1971.6 2055.7h2v2h-2zM1985.0 2049.6h2v2h-2zM1938.3 2090.1h2v2h-2zM1976.8 2047.9h2v2h-2zM1945.5 2072.5h2v2h-2zM1960.6 2065.1h2v2h-2zM1957.9 2063.3h2v2h-2zM1941.1 2084.8h2v2h-2zM1974.9 2049.3h2v2h-2zM1999.5 2046.6h2v2h-2zM1989.7 2055.7h2v2h-2zM1976.4 2043.2h2v2h-2zM1985.9 2048.4h2v2h-2zM1967.1 2052.0h2v2h-2zM1986.5 2042.8h2v2h-2zM1996.4 2028.6h2v2h-2zM1965.0 2046.3h2v2h-2zM1946.1 2079.3h2v2h-2zM1954.6 2061.7h2v2h-2zM1984.2 2050.1h2v2h-2zM1975.7 2035.4h2v2h-2zM1965.4 2062.5h2v2h-2zM1979.6 2057.5h2v2h-2zM1956.8 2071.2h2v2h-2zM1985.4 2054.1h2v2h-2zM1981.0 2041.1h2v2h-2zM1970.0 2075.9h2v2h-2zM2011.2 2027.2h2v2h-2zM1993.2 2027.0h2v2h-2zM1974.5 2054.8h2v2h-2zM1987.9 2042.1h2v2h-2zM1978.6 2074.9h2v2h-2zM1967.8 2056.6h2v2h-2zM1966.3 2064.1h2v2h-2zM1941.1 2073.5h2v2h-2zM1968.6 2049.8h2v2h-2zM1954.1 2064.2h2v2h-2zM1985.5 2044.2h2v2h-2zM1916.4 2092.6h2v2h-2zM1980.4 2043.9h2v2h-2zM1975.6 2046.5h2v2h-2zM1976.3 2060.5h2v2h-2zM1936.6 2086.7h2v2h-2zM1943.3 2086.2h2v2h-2zM1971.1 2052.2h2v2h-2zM1955.3 2067.2h2v2h-2zM1976.0 2057.9h2v2h-2zM1968.2 2050.7h2v2h-2zM1963.4 2084.8h2v2h-2zM1934.0 2071.4h2v2h-2zM1957.0 2058.5h2v2h-2zM1974.2 2044.6h2v2h-2zM1986.8 2043.7h2v2h-2zM1926.9 2096.0h2v2h-2zM1973.2 2046.7h2v2h-2zM1944.2 2072.1h2v2h-2zM1982.0 2038.9h2v2h-2zM1999.5 2043.2h2v2h-2zM1960.9 2063.3h2v2h-2zM1982.5 2052.6h2v2h-2zM1962.4 2073.2h2v2h-2zM1964.6 2046.4h2v2h-2zM1978.1 2048.3h2v2h-2zM1971.5 2044.5h2v2h-2zM1983.7 2046.7h2v2h-2zM1936.5 2071.4h2v2h-2zM1964.5 2051.9h2v2h-2zM1980.7 2039.6h2v2h-2zM1964.7 2063.0h2v2h-2zM1954.2 2076.6h2v2h-2zM1944.1 2067.4h2v2h-2zM1951.5 2064.3h2v2h-2zM1970.1 2045.0h2v2h-2zM1969.2 2054.5h2v2h-2zM1952.5 2054.4h2v2h-2zM1944.1 2073.9h2v2h-2zM1964.4 2071.1h2v2h-2zM1954.9 2062.8h2v2h-2zM1956.0 2067.2h2v2h-2zM1941.7 2075.5h2v2h-2zM1983.5 2041.7h2v2h-2zM1960.2 2061.9h2v2h-2zM1989.0 2059.5h2v2h-2zM1972.9 2056.7h2v2h-2zM1939.3 2074.8h2v2h-2zM1962.9 2064.0h2v2h-2zM1972.4 2048.5h2v2h-2zM1952.2 2068.8h2v2h-2zM1988.5 2032.6h2v2h-2zM1988.6 2043.7h2v2h-2zM1960.0 2048.2h2v2h-2zM1959.5 2071.7h2v2h-2zM1978.3 2061.8h2v2h-2zM1922.2 2095.8h2v2h-2zM1978.4 2045.4h2v2h-2zM1962.8 2077.0h2v2h-2zM1955.2 2078.0h2v2h-2zM1953.9 2083.6h2v2h-2zM1959.8 2073.8h2v2h-2zM1985.9 2058.1h2v2h-2zM1982.5 2057.5h2v2h-2zM1959.2 2068.7h2v2h-2zM1953.7 2079.6h2v2h-2zM1984.9 2036.3h2v2h-2zM1984.5 2044.9h2v2h-2zM1971.0 2056.8h2v2h-2zM1983.5 2061.4h2v2h-2zM1957.1 2064.5h2v2h-2zM1962.9 2059.4h2v2h-2zM1969.6 2066.0h2v2h-2zM1977.9 2060.9h2v2h-2zM1981.7 2061.3h2v2h-2zM1972.4 2075.1h2v2h-2zM1984.2 2049.7h2v2h-2zM1971.5 2052.8h2v2h-2zM1982.2 2054.5h2v2h-2zM1960.1 2061.7h2v2h-2zM1966.3 2060.9h2v2h-2zM1959.6 2071.8h2v2h-2zM1999.6 2040.8h2v2h-2zM1974.6 2048.9h2v2h-2zM1973.8 2046.4h2v2h-2zM1963.2 2061.8h2v2h-2zM1961.0 2066.9h2v2h-2zM1987.1 2042.1h2v2h-2zM1949.6 2074.1h2v2h-2zM1953.0 2059.9h2v2h-2zM1942.3 2105.2h2v2h-2zM1923.6 2089.4h2v2h-2zM1973.2 2053.1h2v2h-2zM1980.2 2054.4h2v2h-2zM1973.7 2061.1h2v2h-2zM1950.9 2055.4h2v2h-2zM1950.4 2075.7h2v2h-2zM1992.8 2029.4h2v2h-2zM1986.8 2044.8h2v2h-2zM1959.6 2073.3h2v2h-2zM1971.4 2058.2h2v2h-2zM1978.2 2048.5h2v2h-2zM1987.3 2045.5h2v2h-2zM1992.6 2025.5h2v2h-2zM1943.5 2080.6h2v2h-2zM1993.1 2031.8h2v2h-2zM1976.7 2038.8h2v2h-2zM1981.5 2054.1h2v2h-2zM1980.8 2048.9h2v2h-2zM1956.4 2064.3h2v2h-2zM1994.9 2042.0h2v2h-2zM1967.7 2063.9h2v2h-2zM1994.0 2044.4h2v2h-2zM1979.1 2063.3h2v2h-2zM1948.5 2072.0h2v2h-2zM1952.1 2064.4h2v2h-2zM1951.8 2060.9h2v2h-2zM1972.3 2056.5h2v2h-2zM1951.7 2065.0h2v2h-2zM1957.9 2057.9h2v2h-2zM1977.0 2054.0h2v2h-2zM1966.6 2058.9h2v2h-2zM1964.8 2048.8h2v2h-2zM1964.1 2061.5h2v2h-2zM2001.4 2048.1h2v2h-2zM1949.9 2067.5h2v2h-2zM1994.3 2034.0h2v2h-2zM1968.3 2061.3h2v2h-2zM1951.0 2070.8h2v2h-2zM1970.2 2051.6h2v2h-2zM1987.4 2045.2h2v2h-2zM1968.4 2061.0h2v2h-2zM1933.5 2085.9h2v2h-2zM1979.8 2053.8h2v2h-2zM1974.3 2069.5h2v2h-2zM2005.5 2031.4h2v2h-2zM1970.4 2066.3h2v2h-2zM1943.2 2077.3h2v2h-2zM1978.3 2042.9h2v2h-2zM1988.1 2039.4h2v2h-2zM1958.4 2062.4h2v2h-2zM1978.1 2048.0h2v2h-2zM1945.7 2071.5h2v2h-2zM1947.2 2074.9h2v2h-2zM1966.6 2060.0h2v2h-2zM1998.4 2027.3h2v2h-2zM1956.3 2068.6h2v2h-2zM1977.2 2065.4h2v2h-2zM1953.3 2086.0h2v2h-2zM1979.6 2064.8h2v2h-2zM1968.6 2069.1h2v2h-2zM1968.7 2061.7h2v2h-2zM1942.2 2084.1h2v2h-2zM1951.0 2059.2h2v2h-2zM1970.8 2054.7h2v2h-2zM1927.7 2072.4h2v2h-2zM1938.4 2073.3h2v2h-2zM1934.0 2087.6h2v2h-2zM1989.7 2045.6h2v2h-2zM1995.2 2040.3h2v2h-2zM2005.3 2023.3h2v2h-2zM1968.1 2055.8h2v2h-2zM1951.5 2066.0h2v2h-2zM1965.8 2075.4h2v2h-2zM1952.2 2073.2h2v2h-2zM1978.5 2056.3h2v2h-2zM1960.7 2083.0h2v2h-2zM1977.8 2046.3h2v2h-2zM1970.0 2049.3h2v2h-2zM1984.1 2053.8h2v2h-2z" fill="#2c7bb9" fill-opacity="0.38"/>
<path d="M1945.9 2075.4h2v2h-2zM1960.0 2071.9h2v2h-2zM1946.3 2079.6h2v2h-2zM1999.2 2029.8h2v2h-2zM1967.6 2064.8h2v2h-2zM1990.7 2033.7h2v2h-2zM1965.3 2066.7h2v2h-2zM1970.6 2059.8h2v2h-2zM1967.0 2059.0h2v2h-2zM1970.3 2070.4h2v2h-2zM1970.5 2056.8h2v2h-2zM1996.2 2035.3h2v2h-2zM1936.4 2079.0h2v2h-2zM1977.0 2046.3h2v2h-2zM1972.3 2055.4h2v2h-2zM2000.3 2027.6h2v2h-2zM1978.5 2038.8h2v2h-2zM2006.0 2020.0h2v2h-2zM1961.7 2060.9h2v2h-2zM1971.6 2075.1h2v2h-2zM1976.9 2054.8h2v2h-2zM1935.6 2067.1h2v2h-2zM1999.6 2040.6h2v2h-2zM1944.8 2063.8h2v2h-2zM1930.0 2080.8h2v2h-2zM1960.3 2061.7h2v2h-2zM1961.9 2066.4h2v2h-2zM1972.3 2062.2h2v2h-2zM1988.9 2042.2h2v2h-2zM1967.7 2058.4h2v2h-2zM1987.5 2040.3h2v2h-2zM1970.9 2074.1h2v2h-2zM1980.4 2046.5h2v2h-2zM1966.1 2052.0h2v2h-2zM1957.6 2057.5h2v2h-2zM1966.5 2052.8h2v2h-2zM1943.1 2073.4h2v2h-2zM1940.7 2087.5h2v2h-2zM1992.0 2048.0h2v2h-2zM1996.6 2035.8h2v2h-2zM1988.0 2039.5h2v2h-2zM1986.5 2044.3h2v2h-2zM1969.6 2060.9h2v2h-2zM1957.7 2053.6h2v2h-2zM1960.2 2075.3h2v2h-2zM1968.2 2050.9h2v2h-2zM1961.2 2042.9h2v2h-2zM1970.6 2045.8h2v2h-2zM1990.9 2035.4h2v2h-2zM1946.2 2069.6h2v2h-2zM1946.3 2091.5h2v2h-2zM1963.6 2071.9h2v2h-2zM2003.8 2026.8h2v2h-2zM1950.9 2064.0h2v2h-2zM1948.4 2065.0h2v2h-2zM1958.4 2052.6h2v2h-2zM1958.6 2051.8h2v2h-2zM1956.0 2061.9h2v2h-2zM1939.2 2087.6h2v2h-2zM1960.2 2062.4h2v2h-2zM1961.8 2066.7h2v2h-2zM1972.4 2067.7h2v2h-2zM1975.3 2065.6h2v2h-2zM1999.0 2041.2h2v2h-2zM1946.2 2069.4h2v2h-2zM1990.0 2034.1h2v2h-2zM1974.1 2058.4h2v2h-2zM1944.0 2073.1h2v2h-2zM1968.1 2048.6h2v2h-2zM1978.0 2044.1h2v2h-2zM1964.2 2058.0h2v2h-2zM1953.6 2075.6h2v2h-2zM1951.9 2073.6h2v2h-2zM1979.4 2054.8h2v2h-2zM1937.2 2072.1h2v2h-2zM1978.6 2049.0h2v2h-2zM1974.0 2071.8h2v2h-2zM1996.3 2043.0h2v2h-2zM1953.9 2066.5h2v2h-2zM1967.2 2064.4h2v2h-2zM1978.8 2056.3h2v2h-2zM1984.5 2029.1h2v2h-2zM1938.2 2078.5h2v2h-2zM1963.2 2066.0h2v2h-2zM2018.0 2017.7h2v2h-2zM1956.5 2063.1h2v2h-2zM1985.6 2053.8h2v2h-2zM1942.1 2081.9h2v2h-2zM1946.6 2080.2h2v2h-2zM1963.4 2060.9h2v2h-2zM1965.3 2053.0h2v2h-2zM2006.1 2023.0h2v2h-2zM1982.1 2049.5h2v2h-2zM1950.6 2077.6h2v2h-2zM1985.8 2046.3h2v2h-2zM1951.4 2067.9h2v2h-2zM1956.5 2065.6h2v2h-2zM1992.8 2040.7h2v2h-2zM1928.6 2084.9h2v2h-2zM1944.2 2075.5h2v2h-2zM1974.9 2058.3h2v2h-2zM1993.5 2041.7h2v2h-2zM1966.4 2058.6h2v2h-2zM1944.0 2085.3h2v2h-2zM1947.4 2077.4h2v2h-2zM1983.4 2050.5h2v2h-2zM1944.3 2076.2h2v2h-2zM1952.6 2077.3h2v2h-2zM1958.6 2077.9h2v2h-2zM1941.8 2071.0h2v2h-2zM2005.0 2027.4h2v2h-2zM1983.8 2045.0h2v2h-2zM1977.7 2045.8h2v2h-2zM1959.2 2066.3h2v2h-2zM1967.9 2056.1h2v2h-2zM1979.5 2055.2h2v2h-2zM1988.0 2062.3h2v2h-2zM1977.7 2066.2h2v2h-2zM1956.2 2062.3h2v2h-2zM1953.4 2077.4h2v2h-2zM1972.3 2051.7h2v2h-2zM1973.6 2050.9h2v2h-2zM1975.5 2058.3h2v2h-2zM1970.9 2051.4h2v2h-2zM1957.6 2061.5h2v2h-2zM1953.3 2082.6h2v2h-2zM1944.0 2064.4h2v2h-2zM1971.5 2061.6h2v2h-2zM1968.8 2056.5h2v2h-2zM1986.9 2058.9h2v2h-2zM1988.7 2046.6h2v2h-2zM1953.3 2064.4h2v2h-2zM1965.7 2060.4h2v2h-2zM1987.1 2057.6h2v2h-2zM1986.3 2040.9h2v2h-2zM1969.7 2054.6h2v2h-2zM1959.5 2072.7h2v2h-2zM1968.9 2071.6h2v2h-2zM1965.1 2055.5h2v2h-2zM1983.6 2039.0h2v2h-2zM1954.6 2072.6h2v2h-2zM1948.9 2063.8h2v2h-2zM1989.2 2053.7h2v2h-2zM1966.6 2068.7h2v2h-2zM1985.1 2055.6h2v2h-2zM1956.1 2071.1h2v2h-2zM1936.1 2086.3h2v2h-2zM1971.0 2059.1h2v2h-2zM1914.8 2099.9h2v2h-2zM1975.3 2054.5h2v2h-2zM1954.1 2069.3h2v2h-2zM1975.0 2049.6h2v2h-2zM1976.4 2046.9h2v2h-2zM1970.5 2054.3h2v2h-2zM1949.4 2071.5h2v2h-2zM1981.9 2057.3h2v2h-2zM1970.8 2043.6h2v2h-2zM1976.8 2044.9h2v2h-2zM1998.1 2039.1h2v2h-2zM1948.5 2062.8h2v2h-2zM1952.5 2071.2h2v2h-2zM1970.7 2045.8h2v2h-2zM1946.6 2081.6h2v2h-2zM1972.4 2039.4h2v2h-2zM1986.6 2055.2h2v2h-2zM1984.9 2063.1h2v2h-2zM1977.9 2050.4h2v2h-2zM1982.4 2060.2h2v2h-2zM1977.0 2056.0h2v2h-2zM1969.8 2047.7h2v2h-2zM1930.9 2069.5h2v2h-2zM1950.0 2077.4h2v2h-2zM1973.9 2055.8h2v2h-2zM1933.3 2075.1h2v2h-2zM1980.2 2024.9h2v2h-2zM1984.7 2040.1h2v2h-2zM1989.8 2039.8h2v2h-2zM1974.8 2063.1h2v2h-2zM1957.9 2071.6h2v2h-2zM1979.1 2045.6h2v2h-2zM1955.5 2058.2h2v2h-2zM1977.4 2051.7h2v2h-2zM1967.4 2045.2h2v2h-2zM1962.0 2056.2h2v2h-2zM1946.4 2069.5h2v2h-2zM1975.0 2055.4h2v2h-2zM1965.7 2056.7h2v2h-2zM1987.3 2044.3h2v2h-2zM1966.4 2067.6h2v2h-2zM1970.7 2056.8h2v2h-2zM1967.2 2055.1h2v2h-2zM1977.6 2076.1h2v2h-2zM1968.1 2058.7h2v2h-2zM1987.6 2039.2h2v2h-2zM1969.2 2056.3h2v2h-2zM1971.1 2068.2h2v2h-2zM1979.8 2047.5h2v2h-2zM1989.8 2038.1h2v2h-2zM1984.4 2026.8h2v2h-2zM1952.4 2062.6h2v2h-2zM1975.7 2058.9h2v2h-2zM1963.3 2067.6h2v2h-2zM1941.3 2088.0h2v2h-2zM1943.8 2071.4h2v2h-2zM1955.7 2076.1h2v2h-2zM1958.7 2085.0h2v2h-2zM1955.2 2043.8h2v2h-2zM1988.5 2055.6h2v2h-2zM1970.9 2032.8h2v2h-2zM1998.3 2037.9h2v2h-2zM1975.8 2048.9h2v2h-2zM1970.8 2044.4h2v2h-2zM1964.8 2054.9h2v2h-2zM1978.1 2032.4h2v2h-2zM1965.4 2067.9h2v2h-2zM1932.1 2086.2h2v2h-2zM1998.6 2049.6h2v2h-2zM1966.4 2057.1h2v2h-2zM1971.6 2065.6h2v2h-2zM1949.4 2076.8h2v2h-2zM1985.7 2046.5h2v2h-2zM1946.4 2064.7h2v2h-2zM1984.2 2031.3h2v2h-2zM1989.8 2037.6h2v2h-2zM1977.8 2057.8h2v2h-2zM1999.5 2045.8h2v2h-2zM1971.2 2047.6h2v2h-2zM1990.0 2041.7h2v2h-2zM1956.2 2077.8h2v2h-2zM1957.2 2052.2h2v2h-2zM1961.8 2069.9h2v2h-2zM1950.9 2048.4h2v2h-2zM1970.4 2058.9h2v2h-2zM1956.5 2077.9h2v2h-2zM1981.6 2040.8h2v2h-2zM1970.2 2043.8h2v2h-2zM1965.8 2060.1h2v2h-2zM1982.1 2049.6h2v2h-2zM1967.2 2061.7h2v2h-2zM1956.0 2065.7h2v2h-2zM1965.8 2046.4h2v2h-2zM1958.0 2068.3h2v2h-2zM1948.0 2061.0h2v2h-2zM1990.8 2051.7h2v2h-2zM1974.7 2043.3h2v2h-2zM1986.9 2037.7h2v2h-2zM1961.7 2066.0h2v2h-2zM1980.8 2055.0h2v2h-2zM1963.5 2084.4h2v2h-2zM1950.7 2079.8h2v2h-2zM1972.0 2057.0h2v2h-2zM1956.5 2058.6h2v2h-2zM1963.0 2065.8h2v2h-2zM1949.0 2080.0h2v2h-2zM1975.2 2059.2h2v2h-2zM1992.7 2039.8h2v2h-2zM1983.5 2052.0h2v2h-2zM1982.9 2034.9h2v2h-2zM1964.5 2084.8h2v2h-2zM1923.6 2092.4h2v2h-2zM1929.9 2094.5h2v2h-2zM1942.9 2082.5h2v2h-2zM1989.6 2038.5h2v2h-2zM1974.5 2049.2h2v2h-2zM1925.7 2088.4h2v2h-2zM1960.8 2073.7h2v2h-2zM1933.5 2083.3h2v2h-2zM1985.0 2038.1h2v2h-2zM1965.1 2068.2h2v2h-2zM2009.2 2039.6h2v2h-2zM1971.3 2062.4h2v2h-2zM2003.6 2022.3h2v2h-2zM1975.9 2061.5h2v2h-2zM1974.4 2050.3h2v2h-2zM1975.2 2049.3h2v2h-2zM1981.5 2047.6h2v2h-2zM1944.8 2071.6h2v2h-2zM1994.9 2037.2h2v2h-2zM1958.6 2066.6h2v2h-2zM1979.3 2058.2h2v2h-2zM1948.1 2062.2h2v2h-2zM1950.7 2074.2h2v2h-2zM1977.7 2070.2h2v2h-2zM1974.4 2061.5h2v2h-2zM1966.8 2061.0h2v2h-2zM1975.4 2052.2h2v2h-2zM1973.0 2060.0h2v2h-2zM1941.7 2077.6h2v2h-2zM1994.9 2043.9h2v2h-2zM1983.9 2045.4h2v2h-2zM1975.9 2041.8h2v2h-2zM1944.2 2073.5h2v2h-2zM1966.3 2050.3h2v2h-2zM1958.0 2069.3h2v2h-2zM1961.2 2065.8h2v2h-2zM1992.7 2044.4h2v2h-2zM1982.4 2053.8h2v2h-2zM1965.5 2061.8h2v2h-2zM1972.6 2037.8h2v2h-2zM1938.2 2083.4h2v2h-2zM1974.5 2072.6h2v2h-2zM1957.3 2065.4h2v2h-2zM1948.0 2061.7h2v2h-2zM1963.3 2066.8h2v2h-2zM1963.1 2069.3h2v2h-2zM1956.9 2047.6h2v2h-2zM1912.1 2096.7h2v2h-2zM1962.1 2048.0h2v2h-2zM1941.6 2061.9h2v2h-2zM1942.5 2063.5h2v2h-2zM1962.3 2059.9h2v2h-2zM1974.0 2064.3h2v2h-2zM1992.0 2051.6h2v2h-2zM1962.0 2053.2h2v2h-2zM1956.6 2066.5h2v2h-2zM1953.1 2066.5h2v2h-2zM1964.4 2079.9h2v2h-2zM1950.2 2068.1h2v2h-2zM1966.5 2062.1h2v2h-2zM1991.5 2038.8h2v2h-2zM1975.2 2058.5h2v2h-2zM1976.7 2046.0h2v2h-2zM1971.4 2054.2h2v2h-2zM1941.4 2077.3h2v2h-2zM1954.1 2069.8h2v2h-2z" fill="#2c7bb9" fill-opacity="0.38"/>
<path d="M1985.9 2096.4h2.6v2.6h-2.6zM1889.6 2121.4h2.6v2.6h-2.6zM1913.8 2097.1h2.6v2.6h-2.6zM1913.8 2102.3h2.6v2.6h-2.6zM1947.7 2091.3h2.6v2.6h-2.6zM2002.8 2067.0h2.6v2.6h-2.6z" fill="#6f8fc0" fill-opacity="0.55"/>
<line x1="1961.50" y1="1908.70" x2="1961.50" y2="2160.70" stroke="#444" stroke-width="1.3" />
<line x1="1860.30" y1="2068.00" x2="2136.10" y2="2068.00" stroke="#444" stroke-width="1.3" />
<line x1="1872.40" y1="2149.40" x2="2123.50" y2="1920.00" stroke="#333" stroke-width="1.5" />
<rect x="1860.30" y="1908.70" width="275.80" height="252.00" fill="none" stroke="#1a1a1a" stroke-width="2.8"/>
<line x1="1853.80" y1="2142.00" x2="1860.30" y2="2142.00" stroke="#1a1a1a" stroke-width="2.8" />
<line x1="1880.50" y1="2160.70" x2="1880.50" y2="2167.20" stroke="#1a1a1a" stroke-width="2.8" />
<text x="1869.49" y="2187.20" font-size="19.20" text-anchor="start" fill="#1a1a1a">−5</text>
<line x1="1853.80" y1="2068.00" x2="1860.30" y2="2068.00" stroke="#1a1a1a" stroke-width="2.8" />
<line x1="1961.50" y1="2160.70" x2="1961.50" y2="2167.20" stroke="#1a1a1a" stroke-width="2.8" />
<text x="1956.16" y="2187.20" font-size="19.20" text-anchor="start" fill="#1a1a1a">0</text>
<line x1="1853.80" y1="1994.00" x2="1860.30" y2="1994.00" stroke="#1a1a1a" stroke-width="2.8" />
<line x1="2042.50" y1="2160.70" x2="2042.50" y2="2167.20" stroke="#1a1a1a" stroke-width="2.8" />
<text x="2037.18" y="2187.20" font-size="19.20" text-anchor="start" fill="#1a1a1a">5</text>
<line x1="1853.80" y1="1920.00" x2="1860.30" y2="1920.00" stroke="#1a1a1a" stroke-width="2.8" />
<line x1="2123.50" y1="2160.70" x2="2123.50" y2="2167.20" stroke="#1a1a1a" stroke-width="2.8" />
<text x="2112.47" y="2187.20" font-size="19.20" text-anchor="start" fill="#1a1a1a">10</text>
<text x="1895.85" y="1896.90" font-size="20.60" text-anchor="start" textLength="204.93" lengthAdjust="spacingAndGlyphs" fill="#1a1a1a">dilution factor = 0.90</text>
<text x="1879.83" y="1948.90" font-size="19.20" text-anchor="start" fill="#1a1a1a">r = 0.847</text>
<text x="1876.87" y="2211.50" font-size="21.50" text-anchor="start" textLength="257.59" lengthAdjust="spacingAndGlyphs" fill="#1a1a1a">expected log2(heavy/light)</text>
<text x="1438.59" y="1602.00" font-size="49.00" text-anchor="start" font-weight="bold" textLength="41.95" lengthAdjust="spacingAndGlyphs" fill="#1a1a1a">G</text>
</svg></body></html>
